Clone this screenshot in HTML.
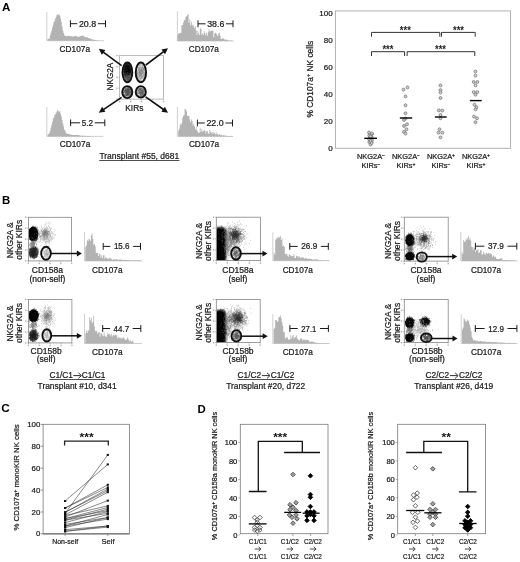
<!DOCTYPE html><html><head><meta charset="utf-8"><style>html,body{margin:0;padding:0;background:#fff;width:520px;height:562px;overflow:hidden}svg{display:block;filter:grayscale(1)}</style></head><body>
<svg width="520" height="562" viewBox="0 0 520 562" style="font-family:'Liberation Sans',sans-serif">
<defs>
<filter id="b4" x="-50%" y="-50%" width="200%" height="200%"><feGaussianBlur stdDeviation="0.4"/></filter>
<filter id="b5" x="-50%" y="-50%" width="200%" height="200%"><feGaussianBlur stdDeviation="0.5"/></filter>
<filter id="b6" x="-50%" y="-50%" width="200%" height="200%"><feGaussianBlur stdDeviation="0.6"/></filter>
<filter id="b7" x="-50%" y="-50%" width="200%" height="200%"><feGaussianBlur stdDeviation="0.7"/></filter>
<filter id="b8" x="-50%" y="-50%" width="200%" height="200%"><feGaussianBlur stdDeviation="0.8"/></filter>
<filter id="b10" x="-50%" y="-50%" width="200%" height="200%"><feGaussianBlur stdDeviation="1.0"/></filter>
<filter id="b12" x="-50%" y="-50%" width="200%" height="200%"><feGaussianBlur stdDeviation="1.2"/></filter>
<filter id="b15" x="-50%" y="-50%" width="200%" height="200%"><feGaussianBlur stdDeviation="1.5"/></filter>
<filter id="b20" x="-50%" y="-50%" width="200%" height="200%"><feGaussianBlur stdDeviation="2.0"/></filter>
</defs>
<rect width="520" height="562" fill="#fff"/>
<text x="1.9" y="10.7" font-size="11.6" font-weight="bold" fill="#000">A</text>
<line x1="46.8" y1="12" x2="46.8" y2="40.7" stroke="#c4c4c4" stroke-width="0.8"/>
<line x1="46.8" y1="40.7" x2="104" y2="40.7" stroke="#c4c4c4" stroke-width="0.8"/>
<path d="M46.8,40.7 L46.80,40.70 L47.55,40.70 L47.55,39.04 L48.30,39.04 L48.30,38.67 L49.05,38.67 L49.05,38.52 L49.80,38.52 L49.80,35.49 L50.55,35.49 L50.55,32.66 L51.30,32.66 L51.30,30.72 L52.05,30.72 L52.05,27.61 L52.80,27.61 L52.80,24.83 L53.55,24.83 L53.55,21.98 L54.30,21.98 L54.30,20.77 L55.05,20.77 L55.05,18.48 L55.80,18.48 L55.80,16.87 L56.55,16.87 L56.55,14.83 L57.30,14.83 L57.30,14.51 L58.05,14.51 L58.05,15.04 L58.80,15.04 L58.80,13.91 L59.55,13.91 L59.55,15.64 L60.30,15.64 L60.30,18.55 L61.05,18.55 L61.05,22.12 L61.80,22.12 L61.80,26.55 L62.55,26.55 L62.55,30.78 L63.30,30.78 L63.30,32.93 L64.05,32.93 L64.05,35.13 L64.80,35.13 L64.80,35.81 L65.55,35.81 L65.55,35.91 L66.30,35.91 L66.30,36.35 L67.05,36.35 L67.05,35.95 L67.80,35.95 L67.80,36.07 L68.55,36.07 L68.55,35.66 L69.30,35.66 L69.30,36.15 L70.05,36.15 L70.05,36.10 L70.80,36.10 L70.80,36.36 L71.55,36.36 L71.55,36.26 L72.30,36.26 L72.30,36.55 L73.05,36.55 L73.05,36.75 L73.80,36.75 L73.80,35.94 L74.55,35.94 L74.55,35.94 L75.30,35.94 L75.30,36.12 L76.05,36.12 L76.05,36.27 L76.80,36.27 L76.80,36.71 L77.55,36.71 L77.55,36.80 L78.30,36.80 L78.30,36.69 L79.05,36.69 L79.05,36.84 L79.80,36.84 L79.80,35.91 L80.55,35.91 L80.55,36.24 L81.30,36.24 L81.30,35.57 L82.05,35.57 L82.05,36.06 L82.80,36.06 L82.80,35.61 L83.55,35.61 L83.55,36.01 L84.30,36.01 L84.30,37.19 L85.05,37.19 L85.05,37.19 L85.80,37.19 L85.80,36.74 L86.55,36.74 L86.55,37.41 L87.30,37.41 L87.30,37.23 L88.05,37.23 L88.05,37.94 L88.80,37.94 L88.80,38.40 L89.55,38.40 L89.55,38.27 L90.30,38.27 L90.30,38.47 L91.05,38.47 L91.05,39.03 L91.80,39.03 L91.80,39.38 L92.55,39.38 L92.55,39.57 L93.30,39.57 L93.30,39.64 L94.05,39.64 L94.05,39.83 L94.80,39.83 L94.80,40.08 L95.55,40.08 L95.55,40.18 L96.30,40.18 L96.30,40.32 L97.05,40.32 L97.05,40.45 L97.80,40.45 L97.80,40.64 L98.55,40.64 L98,40.7Z" fill="#b3b3b3"/>
<line x1="70.4" y1="20.3" x2="70.4" y2="27.099999999999998" stroke="#1a1a1a" stroke-width="1.0"/>
<line x1="105.5" y1="20.3" x2="105.5" y2="27.099999999999998" stroke="#1a1a1a" stroke-width="1.0"/>
<line x1="70.4" y1="23.7" x2="77.2" y2="23.7" stroke="#1a1a1a" stroke-width="1"/>
<line x1="97.9" y1="23.7" x2="105.5" y2="23.7" stroke="#1a1a1a" stroke-width="1"/>
<text x="87.55000000000001" y="26.7" font-size="8.3" text-anchor="middle" textLength="17.3" lengthAdjust="spacingAndGlyphs" fill="#1a1a1a" stroke="#1a1a1a" stroke-width="0.22">20.8</text>
<text x="74.8" y="52.2" font-size="8.3" text-anchor="middle" textLength="30.4" lengthAdjust="spacingAndGlyphs" fill="#1a1a1a" stroke="#1a1a1a" stroke-width="0.22">CD107a</text>
<line x1="177.4" y1="11.3" x2="177.4" y2="41.0" stroke="#c4c4c4" stroke-width="0.8"/>
<line x1="177.4" y1="41.0" x2="233.8" y2="41.0" stroke="#c4c4c4" stroke-width="0.8"/>
<path d="M177.4,41.0 L177.40,34.73 L178.20,34.73 L178.20,33.51 L179.00,33.51 L179.00,33.17 L179.80,33.17 L179.80,32.75 L180.60,32.75 L180.60,33.10 L181.40,33.10 L181.40,24.89 L182.20,24.89 L182.20,25.26 L183.00,25.26 L183.00,22.45 L183.80,22.45 L183.80,19.67 L184.60,19.67 L184.60,20.37 L185.40,20.37 L185.40,16.96 L186.20,16.96 L186.20,16.26 L187.00,16.26 L187.00,15.07 L187.80,15.07 L187.80,14.16 L188.60,14.16 L188.60,22.64 L189.40,22.64 L189.40,19.24 L190.20,19.24 L190.20,25.31 L191.00,25.31 L191.00,21.68 L191.80,21.68 L191.80,25.58 L192.60,25.58 L192.60,24.60 L193.40,24.60 L193.40,26.62 L194.20,26.62 L194.20,28.18 L195.00,28.18 L195.00,26.21 L195.80,26.21 L195.80,30.55 L196.60,30.55 L196.60,35.11 L197.40,35.11 L197.40,30.87 L198.20,30.87 L198.20,32.93 L199.00,32.93 L199.00,35.05 L199.80,35.05 L199.80,28.30 L200.60,28.30 L200.60,28.68 L201.40,28.68 L201.40,34.94 L202.20,34.94 L202.20,33.38 L203.00,33.38 L203.00,34.82 L203.80,34.82 L203.80,31.31 L204.60,31.31 L204.60,33.32 L205.40,33.32 L205.40,35.47 L206.20,35.47 L206.20,32.66 L207.00,32.66 L207.00,35.74 L207.80,35.74 L207.80,32.29 L208.60,32.29 L208.60,29.14 L209.40,29.14 L209.40,31.28 L210.20,31.28 L210.20,31.26 L211.00,31.26 L211.00,30.44 L211.80,30.44 L211.80,31.10 L212.60,31.10 L212.60,30.28 L213.40,30.28 L213.40,37.35 L214.20,37.35 L214.20,33.87 L215.00,33.87 L215.00,32.66 L215.80,32.66 L215.80,33.32 L216.60,33.32 L216.60,34.75 L217.40,34.75 L217.40,36.16 L218.20,36.16 L218.20,33.68 L219.00,33.68 L219.00,32.55 L219.80,32.55 L219.80,35.71 L220.60,35.71 L220.60,38.98 L221.40,38.98 L221.40,38.73 L222.20,38.73 L222.20,38.47 L223.00,38.47 L223.00,38.17 L223.80,38.17 L223.80,39.17 L224.60,39.17 L224.60,39.61 L225.40,39.61 L225.40,40.20 L226.20,40.20 L226.20,39.40 L227.00,39.40 L227.00,39.87 L227.80,39.87 L227.80,40.51 L228.60,40.51 L228.60,40.65 L229.40,40.65 L229.40,40.60 L230.20,40.60 L230.20,40.64 L231.00,40.64 L231.00,40.55 L231.80,40.55 L231.80,40.77 L232.60,40.77 L232.60,40.67 L233.40,40.67 L233.2,41.0Z" fill="#b3b3b3"/>
<line x1="198" y1="20.400000000000002" x2="198" y2="27.2" stroke="#1a1a1a" stroke-width="1.0"/>
<line x1="233" y1="20.400000000000002" x2="233" y2="27.2" stroke="#1a1a1a" stroke-width="1.0"/>
<line x1="198" y1="23.8" x2="205.5" y2="23.8" stroke="#1a1a1a" stroke-width="1"/>
<line x1="226.0" y1="23.8" x2="233" y2="23.8" stroke="#1a1a1a" stroke-width="1"/>
<text x="215.75" y="26.8" font-size="8.3" text-anchor="middle" textLength="17.1" lengthAdjust="spacingAndGlyphs" fill="#1a1a1a" stroke="#1a1a1a" stroke-width="0.22">38.6</text>
<text x="203.8" y="51.9" font-size="8.3" text-anchor="middle" textLength="30.0" lengthAdjust="spacingAndGlyphs" fill="#1a1a1a" stroke="#1a1a1a" stroke-width="0.22">CD107a</text>
<line x1="46.8" y1="107" x2="46.8" y2="136.4" stroke="#c4c4c4" stroke-width="0.8"/>
<line x1="46.8" y1="136.4" x2="103.3" y2="136.4" stroke="#c4c4c4" stroke-width="0.8"/>
<path d="M46.8,136.4 L46.80,136.40 L47.55,136.40 L47.55,134.77 L48.30,134.77 L48.30,133.99 L49.05,133.99 L49.05,132.91 L49.80,132.91 L49.80,130.78 L50.55,130.78 L50.55,127.70 L51.30,127.70 L51.30,124.80 L52.05,124.80 L52.05,121.69 L52.80,121.69 L52.80,118.71 L53.55,118.71 L53.55,117.50 L54.30,117.50 L54.30,115.04 L55.05,115.04 L55.05,114.27 L55.80,114.27 L55.80,112.87 L56.55,112.87 L56.55,111.55 L57.30,111.55 L57.30,109.86 L58.05,109.86 L58.05,110.94 L58.80,110.94 L58.80,112.32 L59.55,112.32 L59.55,110.76 L60.30,110.76 L60.30,113.63 L61.05,113.63 L61.05,116.44 L61.80,116.44 L61.80,119.98 L62.55,119.98 L62.55,123.42 L63.30,123.42 L63.30,126.59 L64.05,126.59 L64.05,129.79 L64.80,129.79 L64.80,130.87 L65.55,130.87 L65.55,132.45 L66.30,132.45 L66.30,133.77 L67.05,133.77 L67.05,133.55 L67.80,133.55 L67.80,134.00 L68.55,134.00 L68.55,134.05 L69.30,134.05 L69.30,134.37 L70.05,134.37 L70.05,134.64 L70.80,134.64 L70.80,134.76 L71.55,134.76 L71.55,134.82 L72.30,134.82 L72.30,134.95 L73.05,134.95 L73.05,135.11 L73.80,135.11 L73.80,134.94 L74.55,134.94 L74.55,135.05 L75.30,135.05 L75.30,134.99 L76.05,134.99 L76.05,134.97 L76.80,134.97 L76.80,134.91 L77.55,134.91 L77.55,134.94 L78.30,134.94 L78.30,135.32 L79.05,135.32 L79.05,135.33 L79.80,135.33 L79.80,135.57 L80.55,135.57 L80.55,135.69 L81.30,135.69 L81.30,135.72 L82.05,135.72 L82.05,135.70 L82.80,135.70 L82.80,135.78 L83.55,135.78 L83.55,135.78 L84.30,135.78 L84.30,135.80 L85.05,135.80 L85.05,135.87 L85.80,135.87 L85.80,135.94 L86.55,135.94 L86.55,135.93 L87.30,135.93 L87.30,136.00 L88.05,136.00 L88.05,136.03 L88.80,136.03 L88.80,136.07 L89.55,136.07 L89.55,136.09 L90.30,136.09 L90.30,136.17 L91.05,136.17 L91.05,136.25 L91.80,136.25 L91.80,136.37 L92.55,136.37 L92,136.4Z" fill="#b3b3b3"/>
<line x1="70.6" y1="119.39999999999999" x2="70.6" y2="126.2" stroke="#1a1a1a" stroke-width="1.0"/>
<line x1="104.8" y1="119.39999999999999" x2="104.8" y2="126.2" stroke="#1a1a1a" stroke-width="1.0"/>
<line x1="70.6" y1="122.8" x2="80.1" y2="122.8" stroke="#1a1a1a" stroke-width="1"/>
<line x1="94.8" y1="122.8" x2="104.8" y2="122.8" stroke="#1a1a1a" stroke-width="1"/>
<text x="87.44999999999999" y="125.8" font-size="8.3" text-anchor="middle" textLength="11.3" lengthAdjust="spacingAndGlyphs" fill="#1a1a1a" stroke="#1a1a1a" stroke-width="0.22">5.2</text>
<text x="75.0" y="146.8" font-size="8.3" text-anchor="middle" textLength="30.6" lengthAdjust="spacingAndGlyphs" fill="#1a1a1a" stroke="#1a1a1a" stroke-width="0.22">CD107a</text>
<line x1="177.4" y1="107" x2="177.4" y2="136.4" stroke="#c4c4c4" stroke-width="0.8"/>
<line x1="177.4" y1="136.4" x2="233" y2="136.4" stroke="#c4c4c4" stroke-width="0.8"/>
<path d="M177.4,136.4 L177.40,136.40 L178.20,136.40 L178.20,130.60 L179.00,130.60 L179.00,128.59 L179.80,128.59 L179.80,124.10 L180.60,124.10 L180.60,125.35 L181.40,125.35 L181.40,122.91 L182.20,122.91 L182.20,117.72 L183.00,117.72 L183.00,115.85 L183.80,115.85 L183.80,115.01 L184.60,115.01 L184.60,109.04 L185.40,109.04 L185.40,109.44 L186.20,109.44 L186.20,111.13 L187.00,111.13 L187.00,115.80 L187.80,115.80 L187.80,115.88 L188.60,115.88 L188.60,115.71 L189.40,115.71 L189.40,119.42 L190.20,119.42 L190.20,122.24 L191.00,122.24 L191.00,119.46 L191.80,119.46 L191.80,120.99 L192.60,120.99 L192.60,125.49 L193.40,125.49 L193.40,123.66 L194.20,123.66 L194.20,126.22 L195.00,126.22 L195.00,129.55 L195.80,129.55 L195.80,126.98 L196.60,126.98 L196.60,130.49 L197.40,130.49 L197.40,131.56 L198.20,131.56 L198.20,133.08 L199.00,133.08 L199.00,132.45 L199.80,132.45 L199.80,128.24 L200.60,128.24 L200.60,131.90 L201.40,131.90 L201.40,129.02 L202.20,129.02 L202.20,131.79 L203.00,131.79 L203.00,130.99 L203.80,130.99 L203.80,129.75 L204.60,129.75 L204.60,130.69 L205.40,130.69 L205.40,133.48 L206.20,133.48 L206.20,131.23 L207.00,131.23 L207.00,131.06 L207.80,131.06 L207.80,133.21 L208.60,133.21 L208.60,133.64 L209.40,133.64 L209.40,130.06 L210.20,130.06 L210.20,131.76 L211.00,131.76 L211.00,133.25 L211.80,133.25 L211.80,132.11 L212.60,132.11 L212.60,133.91 L213.40,133.91 L213.40,131.99 L214.20,131.99 L214.20,133.07 L215.00,133.07 L215.00,134.44 L215.80,134.44 L215.80,132.20 L216.60,132.20 L216.60,134.56 L217.40,134.56 L217.40,134.02 L218.20,134.02 L218.20,135.34 L219.00,135.34 L219.00,133.97 L219.80,133.97 L219.80,135.22 L220.60,135.22 L220.60,134.48 L221.40,134.48 L221.40,135.31 L222.20,135.31 L222.20,135.42 L223.00,135.42 L223.00,135.26 L223.80,135.26 L223.80,135.45 L224.60,135.45 L224.60,135.57 L225.40,135.57 L225.40,135.58 L226.20,135.58 L226.20,136.03 L227.00,136.03 L227.00,135.99 L227.80,135.99 L227.80,136.19 L228.60,136.19 L228.60,136.08 L229.40,136.08 L229.40,136.17 L230.20,136.17 L230.20,136.01 L231.00,136.01 L231.00,136.03 L231.80,136.03 L231.80,136.27 L232.60,136.27 L232.60,136.26 L233.40,136.26 L233.2,136.4Z" fill="#b3b3b3"/>
<line x1="197.4" y1="119.6" x2="197.4" y2="126.4" stroke="#1a1a1a" stroke-width="1.0"/>
<line x1="232.5" y1="119.6" x2="232.5" y2="126.4" stroke="#1a1a1a" stroke-width="1.0"/>
<line x1="197.4" y1="123.0" x2="204.70000000000002" y2="123.0" stroke="#1a1a1a" stroke-width="1"/>
<line x1="225.39999999999998" y1="123.0" x2="232.5" y2="123.0" stroke="#1a1a1a" stroke-width="1"/>
<text x="215.05" y="126.0" font-size="8.3" text-anchor="middle" textLength="17.3" lengthAdjust="spacingAndGlyphs" fill="#1a1a1a" stroke="#1a1a1a" stroke-width="0.22">22.0</text>
<text x="204.0" y="146.8" font-size="8.3" text-anchor="middle" textLength="30.2" lengthAdjust="spacingAndGlyphs" fill="#1a1a1a" stroke="#1a1a1a" stroke-width="0.22">CD107a</text>
<rect x="119.65" y="55.65" width="43.75" height="43.449999999999996" fill="none" stroke="#a0a0a0" stroke-width="0.7"/>
<line x1="118.45" y1="55.65" x2="119.65" y2="55.65" stroke="#888" stroke-width="0.5"/>
<rect x="116.25" y="54.949999999999996" width="1.4" height="1.4" fill="#b0b0b0"/>
<line x1="118.45" y1="66.5125" x2="119.65" y2="66.5125" stroke="#888" stroke-width="0.5"/>
<rect x="116.25" y="65.8125" width="1.4" height="1.4" fill="#b0b0b0"/>
<line x1="118.45" y1="77.375" x2="119.65" y2="77.375" stroke="#888" stroke-width="0.5"/>
<rect x="116.25" y="76.675" width="1.4" height="1.4" fill="#b0b0b0"/>
<line x1="118.45" y1="88.2375" x2="119.65" y2="88.2375" stroke="#888" stroke-width="0.5"/>
<rect x="116.25" y="87.5375" width="1.4" height="1.4" fill="#b0b0b0"/>
<line x1="118.45" y1="99.1" x2="119.65" y2="99.1" stroke="#888" stroke-width="0.5"/>
<rect x="116.25" y="98.39999999999999" width="1.4" height="1.4" fill="#b0b0b0"/>
<line x1="119.65" y1="99.1" x2="119.65" y2="100.3" stroke="#888" stroke-width="0.5"/>
<rect x="118.95" y="100.89999999999999" width="1.4" height="1.4" fill="#b0b0b0"/>
<line x1="130.5875" y1="99.1" x2="130.5875" y2="100.3" stroke="#888" stroke-width="0.5"/>
<rect x="129.88750000000002" y="100.89999999999999" width="1.4" height="1.4" fill="#b0b0b0"/>
<line x1="141.525" y1="99.1" x2="141.525" y2="100.3" stroke="#888" stroke-width="0.5"/>
<rect x="140.82500000000002" y="100.89999999999999" width="1.4" height="1.4" fill="#b0b0b0"/>
<line x1="152.4625" y1="99.1" x2="152.4625" y2="100.3" stroke="#888" stroke-width="0.5"/>
<rect x="151.76250000000002" y="100.89999999999999" width="1.4" height="1.4" fill="#b0b0b0"/>
<line x1="163.4" y1="99.1" x2="163.4" y2="100.3" stroke="#888" stroke-width="0.5"/>
<rect x="162.70000000000002" y="100.89999999999999" width="1.4" height="1.4" fill="#b0b0b0"/>
<ellipse cx="127.4" cy="69.6" rx="3.8" ry="6.3" fill="#000" opacity="1" filter="url(#b10)"/>
<path d="M1291 769h6M1256 671h6M1282 788h6M1283 659h6M1257 708h6M1296 710h6M1266 701h6M1278 678h6M1274 723h6M1311 708h6M1296 665h6M1294 718h6M1262 710h6M1295 697h6M1297 778h6M1311 782h6M1246 726h6M1259 753h6M1276 721h6M1285 685h6M1276 679h6M1275 633h6M1241 674h6M1292 745h6M1281 683h6M1255 733h6M1252 723h6M1296 708h6M1284 713h6M1247 711h6M1237 686h6M1279 770h6M1243 688h6M1279 734h6M1243 793h6M1256 759h6M1270 729h6M1312 743h6M1277 667h6M1259 648h6M1303 695h6M1293 674h6M1261 733h6M1283 691h6M1311 744h6M1277 658h6M1277 697h6M1273 747h6M1261 723h6M1292 727h6M1273 658h6M1237 698h6M1289 715h6M1295 641h6M1296 668h6M1246 736h6M1285 678h6M1255 702h6M1274 703h6M1304 718h6M1258 692h6M1284 696h6M1282 721h6M1298 717h6M1303 779h6M1267 690h6M1254 700h6M1257 711h6M1281 734h6M1247 759h6M1267 705h6M1280 631h6M1299 712h6M1310 739h6M1290 773h6M1273 779h6M1271 722h6M1258 734h6M1289 688h6M1244 708h6M1283 703h6M1251 678h6M1260 774h6M1244 700h6M1312 742h6M1295 703h6M1281 721h6M1311 746h6M1275 661h6M1270 703h6M1258 671h6M1251 705h6M1260 728h6M1297 724h6M1274 780h6M1289 644h6M1257 719h6M1254 744h6M1296 736h6M1237 713h6M1304 660h6M1246 655h6M1263 645h6M1275 810h6M1250 750h6M1276 709h6M1266 745h6M1264 725h6M1265 703h6M1256 812h6M1272 659h6M1269 680h6M1257 765h6M1266 678h6M1293 698h6M1272 796h6M1293 765h6M1283 767h6M1270 753h6M1298 691h6M1244 734h6M1271 737h6M1260 733h6M1314 727h6M1306 681h6M1300 716h6M1304 725h6M1268 678h6M1302 712h6M1290 731h6M1227 737h6M1265 727h6M1285 629h6M1266 707h6M1282 752h6M1258 699h6M1304 716h6M1317 756h6M1273 634h6M1277 724h6M1286 653h6M1255 675h6M1280 671h6M1271 751h6M1264 770h6M1280 699h6M1299 732h6M1267 683h6M1273 725h6M1300 722h6M1259 650h6M1279 727h6M1299 686h6M1244 747h6M1270 655h6M1311 749h6M1275 722h6M1257 754h6M1264 689h6M1267 659h6M1297 784h6M1267 681h6M1296 701h6M1274 703h6M1255 759h6M1243 662h6M1265 688h6M1299 686h6M1285 689h6M1303 709h6M1280 637h6M1290 681h6M1294 732h6M1286 760h6M1282 670h6M1277 717h6M1247 737h6M1307 720h6M1276 730h6M1299 685h6M1295 676h6M1286 733h6M1244 739h6M1279 635h6M1263 682h6M1253 728h6M1255 712h6M1249 698h6M1315 728h6M1238 668h6M1270 637h6M1296 708h6M1272 712h6M1258 659h6M1279 740h6M1269 628h6M1266 711h6M1244 771h6M1248 710h6M1249 750h6M1245 669h6M1299 653h6M1261 734h6M1282 631h6M1287 696h6M1291 728h6M1265 691h6M1282 679h6M1266 675h6M1277 740h6M1237 711h6M1281 777h6M1257 766h6M1263 731h6M1279 722h6M1266 666h6M1307 774h6M1271 702h6M1269 650h6M1248 728h6M1295 699h6M1252 661h6M1259 741h6M1275 646h6M1247 724h6M1280 788h6M1306 718h6M1258 718h6M1247 679h6M1296 737h6M1294 779h6M1264 745h6M1275 723h6M1279 733h6M1276 731h6M1262 705h6M1241 752h6M1284 776h6M1264 705h6M1275 770h6M1286 727h6M1236 671h6M1240 701h6M1293 712h6M1252 800h6M1248 771h6M1300 721h6M1304 661h6M1261 696h6M1282 701h6M1312 692h6M1268 655h6M1284 745h6M1256 653h6M1242 761h6M1291 722h6M1291 731h6M1284 637h6M1285 741h6M1299 752h6M1258 721h6M1241 774h6M1242 741h6M1255 673h6M1253 695h6M1282 759h6M1267 747h6M1293 801h6M1260 723h6M1289 716h6M1288 679h6M1265 681h6M1259 670h6M1271 655h6M1260 735h6M1237 662h6M1264 661h6M1251 793h6M1281 689h6M1256 640h6M1286 686h6M1294 709h6M1285 749h6M1261 684h6M1269 789h6M1245 661h6M1307 658h6M1300 702h6M1265 658h6M1306 697h6M1243 738h6M1270 732h6M1264 725h6M1284 710h6M1236 731h6M1305 729h6M1295 744h6M1266 756h6M1268 664h6M1245 755h6M1289 737h6M1291 705h6M1259 682h6M1287 741h6M1293 693h6M1245 648h6M1266 787h6M1294 710h6M1284 745h6M1275 719h6M1278 683h6M1247 684h6M1263 691h6M1274 689h6M1291 693h6M1273 741h6M1241 758h6M1297 651h6M1271 676h6M1265 744h6M1231 747h6M1283 709h6M1239 726h6M1277 681h6M1305 746h6M1288 759h6M1304 765h6M1273 698h6M1269 733h6M1252 662h6M1298 699h6M1254 690h6M1255 681h6M1238 737h6M1281 744h6M1275 677h6M1319 751h6M1286 749h6M1267 742h6M1256 754h6M1295 747h6M1282 715h6M1279 741h6M1263 741h6M1291 653h6M1235 722h6M1266 673h6M1245 660h6M1236 693h6M1270 776h6M1301 702h6M1282 698h6M1271 675h6M1274 662h6M1257 702h6M1271 800h6M1253 660h6M1288 734h6M1289 703h6M1239 693h6M1244 706h6M1313 695h6M1275 757h6M1243 743h6M1265 678h6M1265 665h6M1293 713h6M1263 730h6M1303 683h6M1290 669h6M1294 725h6M1259 739h6M1266 716h6M1275 738h6M1253 779h6M1279 786h6M1288 763h6M1267 643h6M1289 667h6M1293 662h6M1285 749h6M1285 664h6M1287 717h6M1285 765h6M1258 671h6M1255 766h6M1281 761h6M1278 729h6M1268 729h6M1249 754h6M1234 685h6M1264 712h6M1270 664h6M1256 704h6M1257 751h6M1269 728h6M1247 749h6M1289 640h6M1304 656h6M1245 744h6M1312 736h6M1269 675h6M1255 716h6M1280 664h6M1277 666h6M1243 800h6M1286 693h6M1247 770h6M1274 673h6M1289 729h6M1298 693h6M1266 738h6M1271 788h6M1292 753h6M1287 697h6M1254 669h6M1300 698h6M1274 684h6M1281 667h6M1250 711h6M1276 745h6M1277 736h6M1273 695h6M1248 674h6M1271 651h6M1290 693h6M1299 742h6M1304 677h6M1282 680h6M1251 714h6M1261 745h6M1240 719h6M1302 718h6M1244 690h6M1259 774h6M1258 692h6M1268 699h6M1273 671h6M1271 686h6M1262 694h6M1291 718h6M1287 673h6M1233 698h6M1291 705h6M1260 636h6M1279 670h6M1234 722h6M1273 761h6M1275 776h6M1276 735h6M1241 719h6M1288 757h6M1256 714h6M1285 697h6M1273 722h6M1253 658h6M1282 810h6M1263 687h6M1316 678h6M1256 792h6M1288 740h6M1267 752h6M1285 790h6M1292 789h6M1258 757h6M1286 685h6M1241 698h6M1253 688h6M1261 678h6M1275 714h6M1250 673h6M1278 684h6M1262 666h6M1231 696h6M1249 704h6M1266 689h6M1293 671h6M1299 723h6M1257 725h6M1291 695h6M1291 713h6M1240 722h6M1292 726h6M1271 669h6M1290 773h6M1241 736h6M1232 718h6M1288 643h6M1242 713h6M1267 722h6M1305 655h6M1293 731h6M1235 674h6M1233 699h6M1249 758h6M1282 651h6M1307 718h6M1293 710h6M1303 760h6M1291 772h6M1288 723h6M1302 736h6M1248 747h6M1277 713h6M1316 754h6M1242 713h6M1297 760h6M1286 692h6M1303 707h6M1261 677h6M1277 671h6M1250 665h6M1314 704h6M1285 725h6M1259 745h6M1270 675h6M1250 692h6M1262 770h6M1307 779h6M1257 672h6M1303 740h6M1281 670h6M1267 656h6M1312 757h6M1264 757h6M1287 675h6M1281 688h6M1250 694h6M1298 656h6M1251 640h6M1259 749h6M1291 735h6M1285 779h6M1309 782h6M1253 681h6M1292 743h6M1262 700h6M1295 703h6M1256 724h6M1261 735h6M1279 696h6M1253 755h6M1253 715h6M1265 711h6M1265 755h6M1276 662h6M1245 743h6M1269 766h6M1284 768h6M1241 694h6M1302 653h6M1290 707h6M1297 696h6M1257 746h6M1280 674h6M1285 730h6M1257 648h6M1275 711h6M1294 708h6M1298 723h6M1308 757h6M1242 698h6M1284 699h6M1282 787h6M1254 679h6M1254 759h6M1277 717h6M1282 680h6M1248 703h6M1298 702h6M1284 732h6M1308 662h6M1248 762h6M1232 674h6M1268 710h6M1232 678h6M1237 754h6M1253 723h6M1263 735h6" stroke="#111" stroke-width="6" transform="scale(.1)"/>
<path d="M1239 761h6M1278 806h6M1251 773h6M1291 811h6M1287 782h6M1267 807h6M1279 799h6M1283 772h6M1253 750h6M1274 785h6M1272 729h6M1261 758h6M1290 803h6M1284 799h6M1294 791h6M1253 789h6M1271 794h6M1280 787h6M1275 784h6M1265 758h6M1254 773h6M1307 779h6M1251 799h6M1280 777h6M1290 760h6M1246 772h6M1262 779h6M1270 808h6M1271 795h6M1264 759h6M1268 760h6M1284 778h6M1248 782h6M1272 772h6M1247 777h6M1259 772h6M1292 779h6M1291 799h6M1270 784h6M1270 741h6M1291 807h6M1275 794h6M1252 782h6M1256 759h6M1307 786h6M1251 767h6M1303 735h6M1229 754h6M1294 762h6M1254 813h6M1297 758h6M1275 806h6M1286 796h6M1279 802h6M1272 772h6M1311 757h6M1272 766h6M1264 811h6M1234 746h6M1278 786h6M1271 780h6M1280 775h6M1293 780h6M1239 756h6M1279 761h6M1269 806h6M1299 747h6M1279 764h6M1264 794h6M1273 778h6M1271 790h6M1284 793h6M1261 797h6M1253 734h6M1273 792h6M1280 789h6M1248 751h6M1263 787h6M1260 781h6M1276 788h6M1279 780h6M1276 808h6M1277 753h6M1278 814h6M1308 783h6M1274 783h6M1293 795h6M1263 815h6M1285 766h6M1271 770h6M1256 788h6M1282 766h6M1285 773h6M1275 773h6M1246 730h6M1254 766h6M1276 769h6M1294 803h6M1274 791h6M1279 791h6M1276 798h6M1267 774h6M1279 793h6M1252 773h6M1276 772h6M1299 758h6M1249 809h6M1265 773h6M1290 773h6M1286 787h6M1303 792h6M1256 704h6M1279 808h6M1275 758h6M1284 818h6M1276 758h6M1261 794h6M1255 807h6M1278 730h6M1282 763h6M1259 788h6M1232 773h6M1276 805h6M1291 796h6M1247 735h6M1276 810h6M1267 775h6M1243 769h6M1283 787h6M1272 770h6M1255 765h6M1281 756h6M1285 798h6M1285 779h6M1258 776h6M1266 747h6M1291 763h6M1251 782h6M1244 796h6M1260 751h6M1286 761h6M1267 770h6M1260 779h6M1292 754h6M1280 821h6M1288 760h6M1294 775h6M1300 787h6M1292 736h6M1271 725h6M1277 758h6M1281 790h6M1286 734h6M1273 757h6M1265 782h6M1281 806h6M1287 792h6M1257 783h6M1273 794h6M1261 740h6M1277 756h6M1282 789h6M1266 807h6M1249 767h6M1266 799h6M1264 703h6M1266 771h6M1257 742h6M1241 776h6M1285 763h6M1266 770h6M1284 757h6M1280 817h6M1280 760h6M1261 811h6M1261 794h6M1253 779h6M1273 800h6M1300 800h6M1266 802h6M1229 728h6" stroke="#555" stroke-width="6" transform="scale(.1)"/>
<path d="M1422 717h6M1414 745h6M1395 688h6M1422 702h6M1430 713h6M1406 709h6M1433 681h6M1402 752h6M1428 673h6M1448 693h6M1440 709h6M1398 662h6M1392 799h6M1443 704h6M1438 792h6M1401 697h6M1438 741h6M1378 721h6M1378 761h6M1427 703h6M1385 768h6M1399 784h6M1383 710h6M1394 672h6M1392 763h6M1437 707h6M1399 736h6M1421 706h6M1386 711h6M1397 762h6M1411 736h6M1365 705h6M1398 698h6M1406 709h6M1369 770h6M1433 699h6M1425 678h6M1376 714h6M1450 719h6M1369 736h6M1394 689h6M1418 638h6M1438 730h6M1393 691h6M1427 787h6M1390 738h6M1401 742h6M1413 759h6M1419 701h6M1407 744h6M1392 730h6M1386 787h6M1451 683h6M1432 734h6M1412 714h6M1417 776h6M1378 776h6M1403 672h6M1409 758h6M1408 741h6M1401 700h6M1436 680h6M1436 743h6M1403 715h6M1402 724h6M1409 719h6M1419 695h6M1395 718h6M1381 802h6M1410 718h6M1382 770h6M1429 799h6M1433 686h6M1377 793h6M1392 721h6M1406 751h6M1424 676h6M1393 642h6M1425 718h6M1366 777h6M1410 677h6M1399 698h6M1413 736h6M1395 747h6M1427 773h6M1431 676h6M1366 710h6M1391 645h6M1414 704h6M1423 735h6M1430 697h6M1379 670h6M1446 696h6M1445 674h6M1396 690h6M1405 758h6M1407 733h6M1404 744h6M1387 738h6M1421 771h6M1388 746h6M1417 686h6M1359 699h6M1432 712h6M1391 721h6M1421 749h6M1403 747h6M1414 703h6M1364 734h6M1399 723h6M1395 762h6M1437 692h6M1374 740h6M1445 745h6M1422 658h6M1395 753h6M1419 725h6M1424 766h6M1412 691h6M1373 735h6M1405 717h6M1438 694h6M1402 756h6M1395 764h6M1394 713h6M1365 693h6M1405 818h6M1412 691h6M1371 710h6M1378 695h6M1410 783h6M1381 790h6M1393 707h6M1397 736h6M1408 709h6M1392 699h6M1411 699h6M1392 656h6M1410 748h6M1383 772h6M1408 730h6M1366 754h6M1394 722h6M1428 750h6M1393 728h6M1434 751h6M1408 774h6M1372 746h6M1393 708h6M1430 808h6M1421 731h6M1451 761h6M1393 693h6M1372 756h6M1414 808h6M1402 731h6M1391 774h6M1435 698h6M1440 683h6M1394 717h6M1385 737h6M1440 753h6M1424 687h6M1400 786h6M1413 696h6M1401 790h6M1453 746h6M1390 805h6M1394 731h6M1421 726h6M1406 802h6M1418 660h6M1396 788h6M1406 679h6M1433 749h6M1411 753h6M1401 735h6M1425 701h6M1441 678h6M1420 670h6M1430 688h6M1423 728h6M1390 810h6M1414 703h6M1401 742h6M1412 767h6M1396 737h6M1398 694h6M1431 689h6M1370 758h6M1398 753h6M1423 751h6M1412 800h6M1385 782h6M1407 741h6M1400 768h6M1423 707h6M1412 750h6M1425 709h6M1436 740h6M1398 712h6M1371 763h6M1448 724h6M1391 648h6M1381 728h6M1395 721h6M1390 720h6M1405 736h6M1413 737h6M1391 715h6M1381 704h6M1410 748h6M1378 683h6M1398 671h6M1404 718h6M1393 803h6M1400 739h6M1367 766h6M1418 737h6M1358 725h6M1394 746h6M1410 703h6M1399 784h6M1438 648h6M1399 756h6M1400 742h6M1402 803h6M1428 719h6M1445 757h6M1452 706h6M1373 764h6M1411 646h6M1412 690h6M1399 732h6M1376 785h6M1378 728h6M1410 704h6M1391 766h6M1371 726h6M1450 691h6M1372 703h6M1381 688h6M1388 753h6M1411 678h6M1442 680h6M1446 703h6M1387 704h6M1445 731h6M1409 648h6M1409 711h6M1400 689h6M1370 785h6M1385 753h6M1424 733h6M1413 755h6M1401 721h6M1417 734h6M1409 667h6M1438 784h6M1415 737h6M1359 717h6M1390 811h6M1405 630h6M1454 715h6M1418 777h6M1370 703h6M1413 785h6M1405 753h6M1366 750h6M1386 709h6M1412 767h6M1392 746h6M1402 755h6M1398 791h6M1384 677h6M1441 691h6M1426 758h6M1368 712h6M1398 720h6M1372 734h6M1414 674h6M1410 736h6M1367 722h6M1432 760h6M1382 689h6M1410 744h6M1430 729h6M1429 694h6M1455 716h6M1385 698h6M1364 689h6M1401 747h6M1437 684h6M1390 756h6M1435 760h6M1415 670h6M1395 651h6M1391 782h6M1448 711h6M1424 787h6M1382 659h6M1425 719h6M1401 725h6M1420 722h6M1378 753h6M1395 736h6M1391 723h6M1369 728h6M1400 772h6M1388 681h6M1423 718h6M1396 726h6M1401 679h6M1425 680h6M1410 712h6M1389 692h6M1414 704h6M1441 762h6M1396 768h6M1375 661h6M1435 645h6M1389 736h6M1430 688h6M1444 679h6M1443 740h6M1411 710h6M1383 771h6M1378 721h6M1425 743h6M1424 692h6M1375 732h6M1403 771h6M1358 720h6M1417 699h6M1367 722h6M1433 689h6M1384 674h6M1437 776h6M1393 748h6M1433 688h6M1392 724h6M1446 689h6M1425 777h6M1428 723h6M1392 755h6M1400 740h6M1396 698h6M1397 676h6M1431 659h6M1418 702h6M1420 646h6M1408 725h6M1443 771h6M1418 720h6M1410 771h6M1441 751h6M1439 653h6M1412 697h6M1439 670h6M1421 670h6M1446 727h6M1394 724h6M1443 796h6M1415 715h6M1447 732h6M1395 815h6M1370 741h6M1450 747h6M1417 771h6M1386 727h6M1410 775h6M1422 732h6M1442 791h6M1421 707h6M1382 743h6M1395 675h6M1405 800h6M1413 769h6M1430 729h6M1413 699h6M1418 767h6M1408 729h6M1424 734h6M1420 645h6M1422 656h6M1428 723h6M1401 674h6M1435 711h6M1401 643h6M1450 705h6M1392 784h6M1409 800h6M1406 696h6M1432 765h6M1390 699h6M1398 706h6M1381 698h6M1428 658h6M1436 752h6M1430 765h6M1392 657h6M1439 727h6M1422 773h6M1380 726h6M1410 684h6M1390 729h6M1420 786h6M1433 794h6M1400 740h6M1410 714h6M1398 789h6M1447 731h6M1390 805h6M1438 717h6M1429 743h6M1409 723h6M1388 681h6M1407 678h6M1420 714h6M1390 744h6M1392 712h6M1388 757h6M1414 718h6M1406 749h6M1399 645h6M1452 732h6M1429 688h6M1372 676h6M1425 709h6M1406 705h6M1387 682h6M1382 741h6M1440 735h6M1420 715h6M1443 738h6M1420 679h6M1440 757h6M1398 695h6M1421 669h6M1413 690h6M1385 776h6M1385 644h6M1446 697h6M1436 727h6M1387 653h6M1405 739h6M1394 709h6M1391 720h6M1413 715h6M1361 689h6M1400 703h6M1364 698h6M1418 681h6M1436 774h6M1363 734h6M1371 749h6M1434 786h6M1439 659h6M1414 654h6M1419 760h6M1405 762h6M1388 701h6M1411 723h6M1383 684h6M1371 755h6M1422 699h6M1399 703h6M1387 740h6M1429 682h6M1400 657h6M1395 717h6M1398 710h6" stroke="#8a8a8a" stroke-width="6" transform="scale(.1)"/>
<path d="M1281 913h6M1251 904h6M1260 918h6M1282 950h6M1277 952h6M1283 922h6M1266 891h6M1232 917h6M1267 928h6M1279 883h6M1253 887h6M1296 915h6M1274 893h6M1239 902h6M1268 932h6M1233 928h6M1250 903h6M1263 906h6M1282 944h6M1279 903h6M1281 929h6M1292 926h6M1231 897h6M1261 945h6M1267 945h6M1278 884h6M1272 934h6M1281 876h6M1281 902h6M1297 931h6M1318 928h6M1272 894h6M1297 916h6M1276 931h6M1256 925h6M1275 934h6M1258 917h6M1228 906h6M1272 951h6M1295 902h6M1263 893h6M1256 869h6M1261 904h6M1265 949h6M1277 884h6M1228 904h6M1300 946h6M1257 953h6M1282 902h6M1282 917h6M1244 907h6M1276 958h6M1246 926h6M1272 918h6M1241 956h6M1304 966h6M1283 962h6M1285 949h6M1263 926h6M1264 889h6M1261 887h6M1244 908h6M1292 895h6M1279 878h6M1256 906h6M1263 945h6M1259 945h6M1232 946h6M1241 926h6M1272 944h6M1287 931h6M1268 977h6M1260 920h6M1260 924h6M1248 908h6M1285 903h6M1284 903h6M1308 916h6M1316 934h6M1269 948h6M1301 965h6M1307 946h6M1243 947h6M1270 932h6M1304 899h6M1286 911h6M1307 925h6M1299 957h6M1234 929h6M1234 899h6M1287 885h6M1254 906h6M1280 930h6M1283 905h6M1253 932h6M1250 896h6M1289 896h6M1249 953h6M1289 941h6M1280 866h6M1297 928h6M1266 872h6M1256 916h6M1265 926h6M1262 949h6M1287 886h6M1256 932h6M1258 960h6M1258 927h6M1287 886h6M1303 913h6M1254 899h6M1309 915h6M1264 925h6M1286 896h6M1266 927h6M1297 927h6M1313 913h6M1263 879h6M1270 938h6M1265 914h6M1247 902h6M1260 917h6M1298 934h6M1294 953h6M1260 958h6M1273 881h6M1256 917h6M1270 944h6M1241 922h6M1278 897h6M1278 919h6M1281 884h6M1284 911h6M1266 908h6M1308 955h6M1282 926h6M1284 876h6M1307 910h6M1253 919h6M1242 873h6M1286 965h6M1271 909h6M1279 904h6M1274 931h6M1265 907h6M1273 920h6M1288 875h6M1243 905h6M1283 881h6M1301 960h6M1252 951h6M1230 950h6M1292 933h6M1256 885h6M1281 903h6M1287 872h6M1281 933h6M1253 900h6M1227 918h6M1242 915h6M1287 868h6M1269 960h6M1290 879h6M1293 945h6M1262 936h6M1274 907h6M1273 948h6M1293 899h6M1290 951h6M1273 929h6M1279 874h6M1291 951h6M1245 883h6M1265 924h6M1290 911h6M1270 888h6M1277 895h6M1295 937h6M1229 927h6M1242 945h6M1244 954h6M1278 918h6M1300 881h6M1268 908h6M1268 871h6M1306 907h6M1285 913h6M1263 955h6M1250 890h6M1239 948h6M1252 903h6M1265 935h6M1295 922h6M1269 932h6M1249 923h6M1311 898h6M1248 872h6M1271 935h6M1259 907h6M1299 918h6M1287 906h6M1302 943h6M1266 900h6M1287 919h6M1267 873h6M1270 894h6M1240 910h6M1277 913h6M1257 938h6M1276 907h6M1284 926h6M1292 941h6M1288 900h6M1302 946h6M1256 953h6M1272 889h6M1269 880h6M1298 881h6M1306 893h6M1267 954h6M1279 870h6M1267 865h6M1287 888h6M1268 914h6M1233 927h6M1314 891h6M1256 928h6M1300 893h6M1275 928h6M1296 894h6M1237 895h6M1279 900h6M1257 918h6M1252 900h6M1276 907h6M1279 948h6M1298 921h6M1321 907h6M1293 970h6M1275 942h6M1259 902h6M1276 932h6M1280 937h6M1279 916h6M1256 916h6M1272 918h6M1244 955h6M1298 925h6M1259 950h6M1265 912h6M1286 903h6M1274 905h6M1286 931h6M1289 932h6M1279 930h6M1291 892h6M1243 921h6M1275 912h6M1308 933h6M1302 922h6M1238 881h6M1298 921h6M1260 956h6M1313 931h6M1303 911h6M1249 873h6M1298 876h6M1262 921h6M1286 867h6M1266 896h6M1307 914h6M1256 968h6M1276 942h6M1279 915h6M1290 899h6M1238 901h6M1287 909h6M1297 940h6M1277 951h6M1281 929h6M1265 917h6M1270 949h6M1310 950h6M1278 916h6M1278 904h6M1271 910h6M1272 938h6M1246 969h6M1275 904h6M1306 893h6M1294 960h6M1289 923h6M1255 916h6M1277 947h6M1245 902h6M1269 902h6M1286 874h6M1283 891h6M1263 918h6M1238 931h6M1250 962h6M1263 897h6M1276 917h6M1247 907h6M1298 893h6M1277 937h6M1313 931h6M1278 893h6M1278 957h6M1283 954h6M1260 942h6M1266 900h6M1257 953h6M1286 915h6M1266 942h6M1261 951h6M1279 904h6M1267 890h6M1246 906h6M1260 910h6M1254 901h6M1280 882h6M1274 925h6M1300 952h6M1307 946h6M1290 933h6M1269 916h6M1269 892h6M1300 900h6M1281 896h6M1244 951h6M1275 876h6M1288 945h6M1265 940h6M1303 953h6M1287 942h6M1311 926h6M1265 912h6M1273 868h6M1271 915h6M1270 942h6M1308 926h6M1253 906h6M1272 899h6M1270 935h6M1277 977h6M1232 923h6M1297 889h6M1295 935h6M1301 891h6M1244 964h6M1274 874h6M1269 964h6M1246 874h6M1269 901h6M1258 911h6M1256 903h6M1295 920h6M1284 867h6M1249 948h6M1275 948h6M1236 938h6M1258 920h6M1255 892h6M1246 916h6M1297 889h6M1257 891h6M1251 938h6M1261 892h6M1289 929h6M1280 924h6M1257 942h6M1256 926h6M1275 952h6M1268 942h6M1230 923h6M1276 922h6M1256 900h6M1310 913h6M1294 871h6M1288 925h6M1279 893h6M1280 914h6M1305 905h6M1233 949h6M1245 913h6M1290 967h6M1285 940h6M1276 923h6M1270 929h6M1250 926h6M1300 924h6M1268 941h6M1251 914h6M1291 917h6M1255 888h6M1273 957h6M1271 944h6M1265 923h6M1275 895h6M1295 920h6M1286 900h6M1294 901h6M1282 909h6M1254 937h6M1282 864h6M1289 943h6M1277 930h6M1279 929h6M1264 950h6M1302 897h6M1274 895h6M1261 947h6M1273 926h6M1301 931h6M1277 969h6M1302 929h6M1268 889h6M1288 900h6M1253 897h6M1251 906h6M1286 901h6M1264 916h6M1257 943h6M1312 916h6M1290 951h6" stroke="#555" stroke-width="6" transform="scale(.1)"/>
<path d="M1396 866h6M1420 958h6M1443 944h6M1430 954h6M1401 871h6M1361 939h6M1420 917h6M1406 888h6M1444 943h6M1416 905h6M1398 940h6M1384 912h6M1418 924h6M1385 875h6M1420 901h6M1432 937h6M1415 931h6M1371 924h6M1421 916h6M1410 884h6M1409 958h6M1405 959h6M1393 896h6M1415 891h6M1361 929h6M1407 936h6M1384 905h6M1421 903h6M1402 925h6M1387 926h6M1367 934h6M1397 869h6M1376 910h6M1386 934h6M1411 942h6M1401 943h6M1445 891h6M1405 914h6M1405 953h6M1398 891h6M1405 946h6M1409 894h6M1403 891h6M1435 922h6M1447 939h6M1425 890h6M1421 907h6M1393 924h6M1452 934h6M1371 903h6M1411 906h6M1413 933h6M1397 918h6M1416 887h6M1402 898h6M1392 893h6M1392 895h6M1456 915h6M1419 896h6M1413 934h6M1397 974h6M1411 957h6M1408 942h6M1407 880h6M1425 912h6M1406 929h6M1381 906h6M1385 958h6M1402 903h6M1422 923h6M1424 877h6M1410 939h6M1394 958h6M1407 898h6M1399 937h6M1437 907h6M1425 911h6M1386 892h6M1429 907h6M1414 970h6M1436 909h6M1402 929h6M1390 942h6M1391 910h6M1431 940h6M1393 965h6M1424 886h6M1397 933h6M1397 878h6M1411 934h6M1443 953h6M1430 896h6M1377 890h6M1424 947h6M1360 937h6M1432 965h6M1429 948h6M1415 911h6M1405 919h6M1379 917h6M1435 910h6M1442 894h6M1420 897h6M1437 941h6M1434 944h6M1422 953h6M1412 935h6M1407 950h6M1401 925h6M1387 913h6M1367 927h6M1398 900h6M1389 891h6M1408 916h6M1400 960h6M1380 907h6M1373 911h6M1403 866h6M1394 911h6M1374 959h6M1412 880h6M1418 930h6M1393 894h6M1410 900h6M1414 974h6M1380 932h6M1407 880h6M1402 885h6M1401 963h6M1436 951h6M1411 904h6M1419 950h6M1404 933h6M1407 929h6M1432 879h6M1410 903h6M1402 930h6M1453 901h6M1385 897h6M1412 923h6M1433 915h6M1399 963h6M1386 901h6M1396 929h6M1420 937h6M1454 915h6M1449 921h6M1428 947h6M1403 913h6M1407 960h6M1378 901h6M1424 937h6M1366 914h6M1392 882h6M1402 893h6M1392 887h6M1456 907h6M1384 905h6M1401 924h6M1426 941h6M1443 917h6M1427 952h6M1447 926h6M1377 897h6M1402 907h6M1439 886h6M1422 906h6M1413 963h6M1436 901h6M1409 949h6M1409 951h6M1444 908h6M1426 899h6M1445 919h6M1402 932h6M1429 903h6M1418 938h6M1431 918h6M1389 922h6M1419 926h6M1433 930h6M1372 937h6M1433 869h6M1428 946h6M1421 937h6M1389 937h6M1422 894h6M1426 951h6M1419 929h6M1427 928h6M1410 907h6M1412 964h6M1429 887h6M1386 931h6M1413 925h6M1395 901h6M1423 945h6M1429 950h6M1431 910h6M1422 922h6M1440 906h6M1399 926h6M1410 913h6M1405 964h6M1402 902h6M1444 916h6M1401 900h6M1409 912h6M1403 915h6M1415 882h6M1386 907h6M1409 911h6M1410 922h6M1401 911h6M1456 921h6M1398 943h6M1419 895h6M1422 931h6M1427 920h6M1419 876h6M1368 938h6M1392 934h6M1432 887h6M1385 936h6M1406 891h6M1379 913h6M1389 934h6M1405 968h6M1399 904h6M1420 943h6M1383 900h6M1384 884h6M1405 928h6M1391 889h6M1415 930h6M1390 899h6M1401 908h6M1373 922h6M1395 925h6M1427 930h6M1445 938h6M1437 909h6M1425 952h6M1431 906h6M1405 900h6M1406 945h6M1411 925h6M1406 959h6M1395 887h6M1402 887h6M1406 921h6M1417 938h6M1403 895h6M1425 956h6M1388 884h6M1390 894h6M1423 908h6M1398 954h6M1379 902h6M1442 945h6M1431 915h6M1414 906h6M1433 942h6M1437 904h6M1409 934h6M1441 896h6M1427 917h6M1408 901h6M1425 939h6M1383 957h6M1388 929h6M1445 881h6M1367 934h6M1426 930h6M1429 896h6M1421 931h6M1427 901h6M1365 891h6M1380 958h6M1435 930h6M1427 921h6M1440 903h6M1453 934h6M1395 924h6M1412 882h6M1435 928h6M1375 886h6M1392 902h6M1414 923h6M1427 938h6M1361 918h6M1391 879h6M1435 872h6M1397 888h6M1419 901h6M1407 933h6M1412 931h6M1416 941h6M1383 884h6M1394 915h6M1403 882h6M1361 933h6M1422 913h6M1432 922h6M1381 903h6M1402 939h6M1397 923h6M1439 885h6M1418 944h6M1420 931h6M1416 921h6M1404 897h6M1394 890h6M1406 960h6M1391 920h6M1403 951h6M1410 951h6M1433 959h6M1411 926h6M1429 878h6M1401 945h6M1435 878h6M1429 911h6M1402 894h6M1449 897h6M1435 928h6M1452 909h6M1404 908h6M1419 900h6M1416 963h6M1413 909h6M1423 923h6M1426 928h6M1404 922h6M1400 868h6M1386 941h6M1409 900h6M1387 910h6M1449 886h6M1418 868h6M1378 960h6M1432 964h6M1388 923h6M1405 944h6M1428 897h6M1409 909h6M1406 920h6M1370 899h6M1409 878h6M1385 934h6M1420 918h6M1411 924h6M1379 953h6M1394 934h6M1374 929h6M1381 905h6M1384 934h6M1395 899h6M1444 915h6M1428 885h6M1411 918h6M1399 953h6M1432 906h6M1418 955h6M1411 918h6M1438 937h6" stroke="#666" stroke-width="6" transform="scale(.1)"/>
<ellipse cx="127.4" cy="72.4" rx="4.9" ry="9.85" fill="none" stroke="#111" stroke-width="1.9"/>
<ellipse cx="140.9" cy="72.4" rx="5.15" ry="9.85" fill="none" stroke="#111" stroke-width="1.9"/>
<ellipse cx="127.3" cy="92.1" rx="5.05" ry="6.0" fill="none" stroke="#111" stroke-width="1.9"/>
<ellipse cx="140.8" cy="91.9" rx="5.05" ry="5.75" fill="none" stroke="#111" stroke-width="1.9"/>
<line x1="121.6" y1="65.6" x2="103.22780710544352" y2="52.06259470927417" stroke="#111" stroke-width="1.6"/>
<path d="M98.80,48.80 L105.41,49.94 L101.85,54.77Z" fill="#111"/>
<line x1="145.8" y1="65" x2="163.61426487918726" y2="51.51893468602046" stroke="#111" stroke-width="1.6"/>
<path d="M168.00,48.20 L165.03,54.21 L161.41,49.43Z" fill="#111"/>
<line x1="121.6" y1="97.3" x2="103.35774052343878" y2="109.62152613767731" stroke="#111" stroke-width="1.6"/>
<path d="M98.80,112.70 L102.09,106.86 L105.45,111.83Z" fill="#111"/>
<line x1="145.6" y1="96.8" x2="163.51501556157837" y2="109.51646193879893" stroke="#111" stroke-width="1.6"/>
<path d="M168.00,112.70 L161.37,111.67 L164.84,106.78Z" fill="#111"/>
<text transform="translate(113.3,76.6) rotate(-90)" font-size="8.6" text-anchor="middle" textLength="27.6" lengthAdjust="spacingAndGlyphs" fill="#1a1a1a" stroke="#1a1a1a" stroke-width="0.22">NKG2A</text>
<text x="134.3" y="111.3" font-size="8.4" text-anchor="middle" fill="#1a1a1a" stroke="#1a1a1a" stroke-width="0.22">KIRs</text>
<text x="139.3" y="159.4" font-size="8.4" text-anchor="middle" textLength="79.8" lengthAdjust="spacingAndGlyphs" fill="#1a1a1a" stroke="#1a1a1a" stroke-width="0.22">Transplant #55, d681</text>
<line x1="99.2" y1="160.5" x2="179.4" y2="160.5" stroke="#222" stroke-width="0.8"/>
<rect x="335.4" y="10.9" width="175.2" height="137.4" fill="none" stroke="#a8a8a8" stroke-width="0.9"/>
<text x="332.6" y="151.20000000000002" font-size="8.0" text-anchor="end" fill="#1a1a1a" stroke="#1a1a1a" stroke-width="0.22">0</text>
<text x="332.6" y="124.20000000000002" font-size="8.0" text-anchor="end" fill="#1a1a1a" stroke="#1a1a1a" stroke-width="0.22">20</text>
<text x="332.6" y="97.20000000000002" font-size="8.0" text-anchor="end" fill="#1a1a1a" stroke="#1a1a1a" stroke-width="0.22">40</text>
<text x="332.6" y="70.20000000000002" font-size="8.0" text-anchor="end" fill="#1a1a1a" stroke="#1a1a1a" stroke-width="0.22">60</text>
<text x="332.6" y="43.20000000000001" font-size="8.0" text-anchor="end" fill="#1a1a1a" stroke="#1a1a1a" stroke-width="0.22">80</text>
<text x="332.6" y="16.20000000000001" font-size="8.0" text-anchor="end" fill="#1a1a1a" stroke="#1a1a1a" stroke-width="0.22">100</text>
<text transform="translate(312.6,79.2) rotate(-90)" font-size="8.4" text-anchor="middle" fill="#1a1a1a" stroke="#1a1a1a" stroke-width="0.22">% CD107a<tspan font-size="5.5" dy="-2.5">+</tspan><tspan dy="2.5"> NK cells</tspan></text>
<circle cx="369.0" cy="132.5" r="1.45" fill="#d0d0d0" stroke="#6a6a6a" stroke-width="0.7"/>
<circle cx="372.0" cy="134" r="1.45" fill="#d0d0d0" stroke="#6a6a6a" stroke-width="0.7"/>
<circle cx="369.3" cy="135.5" r="1.45" fill="#d0d0d0" stroke="#6a6a6a" stroke-width="0.7"/>
<circle cx="371.7" cy="137" r="1.45" fill="#d0d0d0" stroke="#6a6a6a" stroke-width="0.7"/>
<circle cx="369.0" cy="139" r="1.45" fill="#d0d0d0" stroke="#6a6a6a" stroke-width="0.7"/>
<circle cx="372.0" cy="140.5" r="1.45" fill="#d0d0d0" stroke="#6a6a6a" stroke-width="0.7"/>
<circle cx="369.3" cy="142" r="1.45" fill="#d0d0d0" stroke="#6a6a6a" stroke-width="0.7"/>
<circle cx="370.5" cy="144.5" r="1.45" fill="#d0d0d0" stroke="#6a6a6a" stroke-width="0.7"/>
<circle cx="371.8" cy="133.5" r="1.45" fill="#d0d0d0" stroke="#6a6a6a" stroke-width="0.7"/>
<circle cx="370.5" cy="136.5" r="1.45" fill="#d0d0d0" stroke="#6a6a6a" stroke-width="0.7"/>
<circle cx="370.7" cy="141" r="1.45" fill="#d0d0d0" stroke="#6a6a6a" stroke-width="0.7"/>
<circle cx="371.7" cy="143" r="1.45" fill="#d0d0d0" stroke="#6a6a6a" stroke-width="0.7"/>
<circle cx="407.5" cy="87.4" r="1.45" fill="#d0d0d0" stroke="#6a6a6a" stroke-width="0.7"/>
<circle cx="403.5" cy="89.6" r="1.45" fill="#d0d0d0" stroke="#6a6a6a" stroke-width="0.7"/>
<circle cx="405.5" cy="96.4" r="1.45" fill="#d0d0d0" stroke="#6a6a6a" stroke-width="0.7"/>
<circle cx="405.5" cy="105.3" r="1.45" fill="#d0d0d0" stroke="#6a6a6a" stroke-width="0.7"/>
<circle cx="405.5" cy="113.3" r="1.45" fill="#d0d0d0" stroke="#6a6a6a" stroke-width="0.7"/>
<circle cx="405.5" cy="118.5" r="1.45" fill="#d0d0d0" stroke="#6a6a6a" stroke-width="0.7"/>
<circle cx="404.0" cy="120" r="1.45" fill="#d0d0d0" stroke="#6a6a6a" stroke-width="0.7"/>
<circle cx="407.0" cy="124.3" r="1.45" fill="#d0d0d0" stroke="#6a6a6a" stroke-width="0.7"/>
<circle cx="404.0" cy="126" r="1.45" fill="#d0d0d0" stroke="#6a6a6a" stroke-width="0.7"/>
<circle cx="406.5" cy="129.3" r="1.45" fill="#d0d0d0" stroke="#6a6a6a" stroke-width="0.7"/>
<circle cx="404.0" cy="131.9" r="1.45" fill="#d0d0d0" stroke="#6a6a6a" stroke-width="0.7"/>
<circle cx="405.5" cy="133.6" r="1.45" fill="#d0d0d0" stroke="#6a6a6a" stroke-width="0.7"/>
<circle cx="440.5" cy="85.4" r="1.45" fill="#d0d0d0" stroke="#6a6a6a" stroke-width="0.7"/>
<circle cx="440.5" cy="90.1" r="1.45" fill="#d0d0d0" stroke="#6a6a6a" stroke-width="0.7"/>
<circle cx="440.5" cy="92.5" r="1.45" fill="#d0d0d0" stroke="#6a6a6a" stroke-width="0.7"/>
<circle cx="440.5" cy="98" r="1.45" fill="#d0d0d0" stroke="#6a6a6a" stroke-width="0.7"/>
<circle cx="438.8" cy="110.4" r="1.45" fill="#d0d0d0" stroke="#6a6a6a" stroke-width="0.7"/>
<circle cx="442.3" cy="110.6" r="1.45" fill="#d0d0d0" stroke="#6a6a6a" stroke-width="0.7"/>
<circle cx="440.5" cy="115" r="1.45" fill="#d0d0d0" stroke="#6a6a6a" stroke-width="0.7"/>
<circle cx="440.5" cy="118.3" r="1.45" fill="#d0d0d0" stroke="#6a6a6a" stroke-width="0.7"/>
<circle cx="439.5" cy="129.3" r="1.45" fill="#d0d0d0" stroke="#6a6a6a" stroke-width="0.7"/>
<circle cx="438.5" cy="132.7" r="1.45" fill="#d0d0d0" stroke="#6a6a6a" stroke-width="0.7"/>
<circle cx="442.3" cy="132.7" r="1.45" fill="#d0d0d0" stroke="#6a6a6a" stroke-width="0.7"/>
<circle cx="440.5" cy="137.4" r="1.45" fill="#d0d0d0" stroke="#6a6a6a" stroke-width="0.7"/>
<circle cx="475.5" cy="71.5" r="1.45" fill="#d0d0d0" stroke="#6a6a6a" stroke-width="0.7"/>
<circle cx="475.5" cy="75.6" r="1.45" fill="#d0d0d0" stroke="#6a6a6a" stroke-width="0.7"/>
<circle cx="473.7" cy="82" r="1.45" fill="#d0d0d0" stroke="#6a6a6a" stroke-width="0.7"/>
<circle cx="477.3" cy="82" r="1.45" fill="#d0d0d0" stroke="#6a6a6a" stroke-width="0.7"/>
<circle cx="475.5" cy="85.4" r="1.45" fill="#d0d0d0" stroke="#6a6a6a" stroke-width="0.7"/>
<circle cx="473.7" cy="92.1" r="1.45" fill="#d0d0d0" stroke="#6a6a6a" stroke-width="0.7"/>
<circle cx="477.3" cy="92.1" r="1.45" fill="#d0d0d0" stroke="#6a6a6a" stroke-width="0.7"/>
<circle cx="475.5" cy="94.7" r="1.45" fill="#d0d0d0" stroke="#6a6a6a" stroke-width="0.7"/>
<circle cx="474.5" cy="104.8" r="1.45" fill="#d0d0d0" stroke="#6a6a6a" stroke-width="0.7"/>
<circle cx="476.5" cy="107.3" r="1.45" fill="#d0d0d0" stroke="#6a6a6a" stroke-width="0.7"/>
<circle cx="475.5" cy="109.4" r="1.45" fill="#d0d0d0" stroke="#6a6a6a" stroke-width="0.7"/>
<circle cx="474.0" cy="116.6" r="1.45" fill="#d0d0d0" stroke="#6a6a6a" stroke-width="0.7"/>
<circle cx="477.0" cy="118.3" r="1.45" fill="#d0d0d0" stroke="#6a6a6a" stroke-width="0.7"/>
<circle cx="475.5" cy="122.2" r="1.45" fill="#d0d0d0" stroke="#6a6a6a" stroke-width="0.7"/>
<line x1="364.3" y1="138.3" x2="377" y2="138.3" stroke="#000" stroke-width="1.4"/>
<line x1="399.8" y1="118" x2="412.2" y2="118" stroke="#000" stroke-width="1.4"/>
<line x1="434.9" y1="117" x2="446.7" y2="117" stroke="#000" stroke-width="1.4"/>
<line x1="469.9" y1="100.6" x2="481.7" y2="100.6" stroke="#000" stroke-width="1.4"/>
<path d="M371.5,36.699999999999996 V32.4 H439.8 V36.699999999999996" fill="none" stroke="#333" stroke-width="1.0"/>
<path d="M441.5,36.699999999999996 V32.4 H475.2 V36.699999999999996" fill="none" stroke="#333" stroke-width="1.0"/>
<path d="M371.5,56.0 V51.7 H404.6 V56.0" fill="none" stroke="#333" stroke-width="1.0"/>
<path d="M407.1,56.0 V51.7 H474.8 V56.0" fill="none" stroke="#333" stroke-width="1.0"/>
<text x="405.3" y="34.0" font-size="10.5" text-anchor="middle" font-weight="bold" textLength="11.0" lengthAdjust="spacingAndGlyphs" fill="#222">***</text>
<text x="458.5" y="34.0" font-size="10.5" text-anchor="middle" font-weight="bold" textLength="11.0" lengthAdjust="spacingAndGlyphs" fill="#222">***</text>
<text x="387.9" y="53.099999999999994" font-size="10.5" text-anchor="middle" font-weight="bold" textLength="11.0" lengthAdjust="spacingAndGlyphs" fill="#222">***</text>
<text x="440.5" y="53.099999999999994" font-size="10.5" text-anchor="middle" font-weight="bold" textLength="11.0" lengthAdjust="spacingAndGlyphs" fill="#222">***</text>
<text x="371.0" y="159.4" font-size="7.4" text-anchor="middle" fill="#1a1a1a" stroke="#1a1a1a" stroke-width="0.22">NKG2A<tspan font-size="5" dy="-2.6">−</tspan></text>
<text x="371.0" y="168.1" font-size="7.4" text-anchor="middle" fill="#1a1a1a" stroke="#1a1a1a" stroke-width="0.22">KIRs<tspan font-size="5" dy="-2.6">−</tspan></text>
<text x="406.0" y="159.4" font-size="7.4" text-anchor="middle" fill="#1a1a1a" stroke="#1a1a1a" stroke-width="0.22">NKG2A<tspan font-size="5" dy="-2.6">−</tspan></text>
<text x="406.0" y="168.1" font-size="7.4" text-anchor="middle" fill="#1a1a1a" stroke="#1a1a1a" stroke-width="0.22">KIRs<tspan font-size="5" dy="-2.6">+</tspan></text>
<text x="441.0" y="159.4" font-size="7.4" text-anchor="middle" fill="#1a1a1a" stroke="#1a1a1a" stroke-width="0.22">NKG2A<tspan font-size="5" dy="-2.6">+</tspan></text>
<text x="441.0" y="168.1" font-size="7.4" text-anchor="middle" fill="#1a1a1a" stroke="#1a1a1a" stroke-width="0.22">KIRs<tspan font-size="5" dy="-2.6">−</tspan></text>
<text x="476.0" y="159.4" font-size="7.4" text-anchor="middle" fill="#1a1a1a" stroke="#1a1a1a" stroke-width="0.22">NKG2A<tspan font-size="5" dy="-2.6">+</tspan></text>
<text x="476.0" y="168.1" font-size="7.4" text-anchor="middle" fill="#1a1a1a" stroke="#1a1a1a" stroke-width="0.22">KIRs<tspan font-size="5" dy="-2.6">+</tspan></text>
<text x="1.9" y="203.6" font-size="11.4" font-weight="bold" fill="#000">B</text>
<clipPath id="cp31"><rect x="28.7" y="217.60000000000002" width="42.599999999999994" height="42.999999999999964"/></clipPath>
<g clip-path="url(#cp31)">
<ellipse cx="33.3" cy="233.9" rx="5.0" ry="7.4" fill="#000" opacity="1" filter="url(#b7)"/>
<ellipse cx="33.5" cy="252.5" rx="3.8" ry="4.8" fill="#111" opacity="0.85" filter="url(#b10)"/>
<path d="M341 2346h6M343 2364h6M358 2389h6M341 2342h6M333 2387h6M332 2367h6M376 2322h6M368 2275h6M362 2304h6M328 2308h6M357 2354h6M317 2280h6M377 2340h6M305 2299h6M344 2404h6M364 2361h6M344 2340h6M287 2362h6M378 2387h6M314 2390h6M304 2301h6M356 2376h6M336 2291h6M328 2347h6M343 2357h6M371 2361h6M346 2310h6M324 2286h6M323 2350h6M328 2258h6M361 2404h6M349 2378h6M324 2296h6M335 2272h6M354 2327h6M314 2369h6M335 2375h6M305 2390h6M297 2304h6M335 2368h6M323 2387h6M296 2395h6M306 2314h6M290 2295h6M366 2376h6M343 2314h6M304 2334h6M346 2406h6M331 2302h6M336 2353h6M337 2351h6M299 2370h6M373 2352h6M298 2343h6M330 2301h6M329 2324h6M309 2385h6M321 2277h6M307 2346h6M374 2302h6M287 2317h6M292 2301h6M310 2372h6M309 2363h6M320 2307h6M333 2420h6M367 2391h6M329 2352h6M295 2332h6M319 2339h6M354 2292h6M328 2275h6M296 2318h6M365 2281h6M325 2322h6M289 2323h6M312 2348h6M345 2317h6M337 2303h6M340 2359h6M317 2274h6M371 2291h6M317 2313h6M349 2277h6M360 2361h6M323 2408h6M317 2338h6M370 2394h6M354 2326h6M290 2297h6M325 2272h6M376 2341h6M356 2388h6M363 2309h6M348 2384h6M320 2287h6M290 2309h6M314 2396h6M360 2363h6M330 2288h6M349 2332h6M360 2326h6M312 2344h6M317 2275h6M324 2321h6M328 2291h6M300 2367h6M361 2318h6M343 2339h6M311 2311h6M330 2350h6M321 2392h6M335 2295h6M321 2334h6M345 2352h6M351 2313h6M357 2269h6M337 2385h6M289 2323h6M355 2269h6M340 2350h6M292 2292h6M322 2335h6M340 2278h6M319 2376h6M372 2308h6M328 2315h6M362 2409h6M315 2310h6M327 2312h6M307 2313h6M335 2354h6M344 2278h6M352 2355h6M309 2408h6M291 2355h6M307 2330h6M371 2381h6M296 2389h6M338 2342h6M320 2377h6M300 2295h6M354 2284h6M322 2350h6M315 2354h6M315 2327h6M368 2338h6M375 2354h6M341 2301h6M316 2310h6M367 2341h6M290 2318h6M372 2366h6M348 2319h6M348 2354h6M344 2292h6M376 2334h6M317 2363h6M356 2286h6M364 2312h6M332 2293h6M336 2407h6M358 2352h6M310 2382h6M332 2318h6M302 2397h6M297 2392h6M328 2377h6M363 2396h6M338 2352h6M381 2347h6M296 2289h6M374 2347h6M308 2397h6M358 2308h6M360 2324h6M320 2325h6M308 2281h6M312 2383h6M354 2335h6M330 2331h6M329 2399h6M343 2367h6M330 2393h6M354 2288h6M346 2295h6M289 2392h6M359 2378h6M372 2303h6M356 2329h6M328 2282h6M294 2368h6M309 2333h6M301 2305h6M305 2288h6M322 2288h6M301 2371h6M337 2271h6M321 2421h6M388 2330h6M373 2315h6M315 2372h6M329 2336h6M384 2331h6M302 2392h6M314 2330h6M308 2390h6M329 2382h6M296 2291h6M345 2374h6M352 2317h6M370 2323h6M293 2311h6M354 2365h6M307 2343h6M342 2338h6M334 2337h6M301 2378h6M341 2367h6M353 2313h6M305 2361h6M380 2300h6M320 2279h6M374 2365h6M343 2356h6M312 2305h6M376 2316h6M372 2347h6M319 2407h6M312 2359h6M316 2389h6M360 2310h6M364 2397h6M366 2316h6M360 2406h6M358 2398h6M355 2412h6M375 2307h6M326 2371h6M297 2310h6M292 2378h6M369 2327h6M316 2274h6M311 2346h6M324 2313h6M360 2315h6M364 2392h6M299 2375h6M324 2268h6M369 2389h6M337 2297h6M355 2295h6M318 2309h6M325 2405h6M364 2334h6M342 2294h6M390 2344h6M318 2305h6M337 2324h6M328 2294h6M373 2307h6M333 2395h6M340 2341h6M316 2385h6M356 2360h6M329 2368h6M378 2338h6M369 2378h6M324 2381h6M350 2358h6M343 2298h6M322 2399h6M346 2354h6M342 2338h6M298 2362h6M306 2303h6M316 2345h6M367 2284h6M296 2322h6M356 2393h6M324 2308h6M311 2343h6M359 2328h6M323 2330h6M295 2347h6M324 2373h6M294 2345h6M331 2305h6" stroke="#111" stroke-width="6" transform="scale(.1)"/>
<path d="M300 2561h6M327 2481h6M373 2502h6M366 2537h6M354 2486h6M334 2549h6M300 2501h6M326 2580h6M306 2575h6M330 2473h6M324 2535h6M366 2500h6M375 2515h6M338 2482h6M304 2504h6M339 2512h6M349 2481h6M318 2538h6M295 2546h6M304 2493h6M330 2518h6M350 2504h6M360 2559h6M298 2556h6M289 2532h6M367 2562h6M320 2483h6M357 2479h6M335 2530h6M369 2499h6M309 2501h6M368 2481h6M338 2523h6M327 2556h6M344 2512h6M353 2495h6M311 2474h6M331 2507h6M355 2544h6M337 2525h6M296 2509h6M344 2537h6M365 2485h6M356 2490h6M320 2578h6M339 2558h6M310 2513h6M316 2568h6M345 2492h6M332 2480h6M335 2557h6M342 2552h6M306 2510h6M317 2558h6M374 2567h6M335 2548h6M330 2514h6M314 2515h6M351 2575h6M338 2489h6M347 2565h6M315 2542h6M375 2531h6M331 2544h6M311 2486h6M317 2537h6M339 2508h6M354 2490h6M342 2503h6M364 2513h6M324 2513h6M377 2501h6M339 2512h6M347 2481h6M318 2506h6M365 2493h6M328 2504h6M347 2467h6M306 2547h6M312 2519h6M325 2460h6M348 2482h6M355 2559h6M319 2567h6M331 2556h6M352 2573h6M291 2489h6M353 2521h6M350 2533h6M351 2520h6M348 2577h6M295 2543h6M320 2559h6M294 2521h6M348 2530h6M325 2530h6M310 2535h6M340 2509h6M295 2521h6M341 2553h6M334 2552h6M375 2522h6M348 2547h6M358 2505h6M306 2559h6M312 2545h6M300 2561h6M347 2515h6M359 2571h6M364 2564h6M329 2478h6M332 2484h6M369 2489h6M372 2544h6M331 2499h6M338 2584h6M326 2488h6M335 2504h6M331 2566h6M344 2527h6M344 2509h6M299 2497h6M326 2549h6M307 2557h6M310 2485h6M295 2543h6M319 2554h6M299 2547h6M322 2475h6M355 2489h6M297 2492h6M323 2485h6M319 2491h6M333 2587h6M323 2565h6M299 2503h6M300 2524h6M366 2552h6M349 2481h6M365 2497h6M344 2519h6M330 2551h6M331 2472h6M304 2492h6M316 2497h6M374 2539h6M360 2555h6M317 2518h6M300 2519h6M323 2543h6M290 2525h6M325 2513h6M294 2495h6M371 2525h6M341 2546h6M290 2528h6M303 2565h6M317 2552h6M365 2538h6M350 2556h6M357 2548h6M293 2556h6M356 2541h6M291 2529h6M344 2564h6M298 2544h6M321 2557h6M321 2541h6M347 2550h6M343 2477h6M295 2479h6M290 2502h6M355 2477h6M319 2506h6M347 2467h6M289 2533h6M353 2508h6M324 2562h6M351 2484h6M330 2524h6M296 2539h6M306 2512h6M308 2519h6M307 2568h6M336 2515h6M323 2575h6M336 2492h6M342 2528h6M336 2572h6M299 2489h6M374 2542h6M351 2553h6M331 2549h6M303 2542h6M325 2492h6M306 2534h6M306 2528h6M338 2500h6M314 2478h6M358 2482h6M307 2514h6M364 2522h6M370 2481h6M294 2525h6M314 2547h6M324 2539h6M336 2552h6M365 2494h6M370 2545h6M318 2530h6M304 2540h6M355 2500h6M308 2544h6M333 2468h6M327 2490h6M354 2516h6M326 2524h6M329 2477h6M332 2486h6M301 2538h6M325 2560h6M341 2534h6M302 2510h6M294 2511h6M368 2554h6M324 2569h6M340 2521h6M349 2474h6M367 2551h6M359 2544h6M342 2517h6M372 2517h6M344 2550h6M379 2527h6M297 2501h6M339 2557h6M336 2523h6M329 2474h6M328 2550h6M344 2548h6M330 2582h6M361 2497h6M312 2543h6M312 2542h6M318 2557h6M317 2515h6M317 2522h6M346 2526h6M348 2536h6M351 2529h6M346 2560h6M346 2511h6M358 2554h6M314 2534h6M340 2490h6M353 2563h6M329 2492h6M324 2570h6M323 2486h6M376 2525h6M306 2492h6M351 2476h6M311 2537h6M301 2487h6M337 2528h6M338 2544h6M350 2512h6M330 2566h6M378 2540h6M313 2510h6M361 2489h6M361 2497h6M320 2502h6M322 2548h6M318 2524h6M327 2497h6M326 2557h6M358 2509h6M345 2574h6M304 2525h6M302 2554h6M325 2559h6M356 2481h6M330 2492h6M344 2544h6M327 2483h6M322 2481h6M300 2500h6M336 2481h6M297 2575h6M313 2488h6M357 2497h6M300 2548h6M318 2516h6M367 2536h6M363 2572h6M330 2567h6M376 2518h6M371 2520h6M312 2552h6M356 2531h6M370 2540h6M313 2555h6M319 2485h6M317 2563h6M334 2553h6M350 2473h6M330 2469h6M366 2490h6M316 2462h6M351 2498h6M341 2512h6M333 2519h6M349 2508h6M293 2551h6M326 2496h6M341 2587h6M306 2511h6M299 2542h6M308 2566h6M358 2538h6M366 2560h6M361 2517h6M342 2484h6M343 2569h6M334 2507h6M322 2534h6M363 2557h6M302 2526h6M332 2513h6M327 2539h6M326 2521h6M333 2567h6M364 2538h6M360 2525h6M298 2566h6M337 2558h6M362 2546h6M307 2492h6M293 2527h6M356 2536h6M327 2475h6M377 2511h6M304 2562h6M338 2485h6M324 2485h6M294 2531h6M379 2514h6M330 2486h6M337 2544h6M357 2573h6M324 2531h6M355 2483h6M301 2547h6M322 2507h6M298 2513h6M330 2529h6M319 2534h6M324 2538h6M305 2558h6M327 2502h6M343 2538h6M295 2539h6M341 2511h6M307 2582h6M345 2558h6M305 2545h6M331 2466h6M326 2469h6M372 2505h6M379 2495h6M349 2501h6M313 2559h6M316 2484h6M361 2507h6M309 2495h6M300 2497h6M330 2512h6M328 2518h6M338 2462h6M332 2552h6M302 2516h6M320 2475h6M334 2571h6M372 2549h6M340 2564h6M375 2545h6M370 2508h6M298 2557h6M302 2504h6M347 2495h6M345 2578h6M361 2499h6M340 2576h6M325 2536h6M361 2488h6M336 2537h6M373 2522h6M314 2551h6M361 2570h6M359 2569h6M356 2478h6M323 2504h6M329 2576h6M318 2494h6M293 2522h6M361 2538h6M322 2530h6M336 2580h6M344 2478h6M346 2538h6M340 2575h6" stroke="#222" stroke-width="6" transform="scale(.1)"/>
<path d="M383 2484h6M336 2430h6M346 2466h6M326 2420h6M358 2432h6M316 2417h6M325 2448h6M323 2473h6M309 2467h6M335 2417h6M335 2430h6M338 2427h6M294 2447h6M297 2451h6M375 2424h6M335 2426h6M318 2448h6M325 2417h6M324 2439h6M309 2449h6M329 2450h6M303 2428h6M318 2468h6M360 2447h6M299 2437h6M345 2429h6M307 2460h6M311 2433h6M352 2394h6M306 2476h6M336 2440h6M316 2443h6M361 2444h6M325 2457h6M319 2424h6M333 2418h6M329 2433h6M319 2381h6M339 2403h6M318 2455h6M325 2435h6M342 2417h6M325 2428h6M315 2472h6M326 2426h6M307 2426h6M343 2457h6M303 2436h6M300 2461h6M350 2468h6M309 2443h6M340 2441h6M339 2434h6M308 2439h6M344 2410h6M313 2428h6M335 2413h6M341 2450h6M353 2417h6M313 2444h6M311 2450h6M368 2493h6M320 2463h6M340 2434h6M292 2459h6M344 2472h6M291 2383h6M322 2452h6M339 2445h6M301 2447h6M326 2439h6M357 2415h6M318 2416h6M333 2439h6M334 2475h6M293 2441h6M324 2461h6M330 2430h6M363 2440h6M298 2434h6M329 2442h6M326 2446h6M330 2458h6M340 2431h6M341 2435h6M305 2436h6M342 2429h6M333 2455h6M329 2419h6M362 2391h6M310 2423h6M327 2408h6M325 2430h6M310 2433h6M351 2427h6M317 2426h6M335 2440h6M321 2442h6M330 2409h6M325 2430h6M339 2461h6M336 2464h6M327 2447h6M329 2448h6M334 2439h6M338 2442h6M308 2374h6M310 2466h6M317 2455h6M338 2432h6M355 2393h6M349 2433h6M302 2458h6M341 2439h6M312 2450h6M363 2472h6M310 2412h6M366 2400h6M363 2466h6M345 2418h6M319 2431h6M328 2456h6M336 2457h6M341 2443h6M331 2437h6M324 2482h6M360 2448h6M307 2463h6M315 2444h6M331 2465h6M322 2380h6M306 2464h6M330 2448h6M321 2475h6M320 2417h6M346 2453h6M327 2410h6M310 2433h6M311 2473h6M298 2451h6" stroke="#777" stroke-width="6" transform="scale(.1)"/>
<path d="M438 2378h6M484 2331h6M463 2310h6M448 2372h6M454 2346h6M490 2278h6M458 2242h6M406 2300h6M486 2404h6M467 2344h6M485 2327h6M469 2328h6M393 2374h6M428 2344h6M422 2294h6M487 2341h6M484 2384h6M465 2344h6M471 2361h6M433 2302h6M370 2264h6M434 2399h6M506 2228h6M422 2289h6M534 2348h6M507 2370h6M453 2348h6M426 2337h6M492 2364h6M406 2387h6M399 2356h6M458 2355h6M438 2330h6M415 2271h6M478 2351h6M430 2361h6M427 2367h6M431 2298h6M466 2422h6M514 2370h6M451 2302h6M458 2324h6M518 2358h6M422 2350h6M484 2355h6M492 2319h6M455 2317h6M432 2323h6M481 2422h6M438 2355h6M502 2370h6M442 2321h6M496 2388h6M437 2333h6M452 2423h6M443 2250h6M397 2416h6M443 2445h6M466 2286h6M451 2339h6M517 2334h6M459 2269h6M462 2297h6M486 2350h6M466 2331h6M434 2332h6M504 2400h6M426 2388h6M449 2429h6M457 2293h6M493 2460h6M502 2328h6M443 2308h6M442 2363h6M519 2328h6M467 2379h6M503 2300h6M491 2240h6M418 2354h6M421 2314h6M438 2377h6M460 2303h6M399 2334h6M468 2289h6M469 2317h6M442 2369h6M386 2344h6M441 2319h6M429 2370h6M481 2394h6M421 2314h6M407 2315h6M489 2302h6M450 2229h6M473 2299h6M465 2342h6M442 2306h6M433 2326h6M453 2302h6M438 2329h6M440 2353h6M432 2388h6M492 2318h6M439 2361h6M481 2266h6M491 2319h6M503 2351h6M500 2299h6M443 2332h6M496 2270h6M447 2374h6M472 2346h6M469 2339h6M473 2403h6M422 2376h6M395 2302h6M490 2407h6M437 2317h6M440 2419h6M484 2340h6M448 2382h6M406 2399h6M487 2386h6M473 2360h6M448 2349h6M448 2294h6M390 2271h6M445 2401h6M429 2334h6M417 2300h6M443 2298h6M495 2301h6M495 2339h6M357 2300h6M492 2430h6M415 2366h6M447 2283h6M373 2296h6M495 2417h6M445 2376h6M473 2370h6M399 2321h6M521 2390h6M419 2328h6M532 2377h6M440 2298h6M511 2384h6M406 2459h6M476 2324h6M443 2299h6M388 2354h6M455 2306h6M473 2355h6M453 2413h6M460 2392h6M438 2368h6M467 2360h6M523 2338h6M498 2362h6M464 2344h6M451 2316h6M476 2374h6M502 2303h6M458 2357h6M467 2303h6M408 2363h6M436 2336h6M486 2350h6M487 2341h6M480 2402h6M481 2230h6M454 2390h6M470 2276h6M463 2299h6M421 2320h6M466 2416h6M400 2366h6M471 2286h6M401 2408h6M462 2387h6M409 2331h6M457 2328h6M493 2407h6M441 2316h6M361 2335h6M382 2331h6M430 2367h6M450 2329h6M386 2392h6M416 2278h6M469 2339h6M459 2355h6M407 2302h6M415 2254h6M425 2356h6M412 2355h6M437 2400h6M376 2309h6M402 2359h6M460 2351h6M477 2348h6M447 2369h6M392 2315h6M402 2390h6M498 2439h6M477 2460h6M425 2347h6M461 2392h6M447 2339h6M448 2289h6M468 2354h6M436 2387h6M471 2367h6M463 2326h6M479 2345h6M497 2317h6M479 2346h6M437 2318h6M501 2348h6M440 2391h6M456 2410h6M460 2302h6M448 2329h6M384 2503h6M472 2334h6M463 2368h6M453 2321h6M439 2328h6M413 2310h6M488 2415h6M478 2237h6M415 2366h6M429 2336h6M492 2414h6M473 2323h6M421 2400h6M429 2344h6M421 2426h6M478 2314h6M446 2395h6M464 2307h6M461 2383h6M443 2360h6M511 2397h6M386 2374h6M420 2391h6M435 2338h6M421 2286h6M450 2306h6M481 2376h6M521 2324h6M446 2337h6M434 2337h6M465 2361h6M467 2337h6M501 2366h6M392 2339h6M413 2362h6M465 2230h6M444 2339h6M399 2417h6M450 2399h6M453 2310h6M386 2357h6M410 2391h6M481 2294h6M496 2363h6M496 2409h6M429 2307h6M420 2403h6M448 2383h6M419 2346h6M459 2379h6M437 2392h6M483 2254h6M412 2351h6M433 2354h6M433 2338h6M413 2304h6M474 2370h6M512 2320h6M480 2372h6M482 2396h6M442 2323h6M493 2276h6M447 2354h6M460 2403h6M461 2321h6M502 2346h6M456 2417h6M438 2282h6M468 2362h6M433 2328h6M470 2337h6M459 2439h6M522 2372h6M424 2386h6M433 2353h6M495 2395h6M431 2341h6M414 2320h6M455 2383h6M444 2360h6M509 2333h6M408 2372h6M471 2368h6M537 2381h6M471 2308h6M415 2389h6M421 2335h6M501 2368h6M502 2340h6M383 2316h6M472 2371h6M394 2363h6M431 2305h6M434 2376h6M496 2374h6M458 2428h6M401 2397h6M514 2384h6M443 2294h6M475 2325h6M470 2388h6M551 2353h6M426 2350h6M464 2274h6M511 2315h6M501 2389h6M361 2363h6M470 2396h6M466 2339h6M472 2357h6M488 2339h6M444 2388h6M453 2324h6M491 2435h6M379 2407h6M420 2333h6M438 2349h6M386 2321h6M413 2371h6M461 2364h6M455 2335h6M472 2362h6M486 2368h6M458 2360h6M474 2328h6M379 2362h6M482 2460h6M415 2343h6M424 2357h6M439 2376h6M430 2365h6M466 2319h6M494 2333h6M404 2334h6M420 2325h6M451 2287h6M393 2368h6M457 2365h6M471 2372h6M419 2355h6M424 2346h6M482 2315h6M472 2270h6M428 2419h6M544 2294h6M461 2419h6M438 2394h6M436 2278h6M452 2248h6M482 2311h6M444 2379h6M431 2307h6M372 2378h6M404 2376h6M431 2379h6M369 2343h6M465 2368h6M539 2370h6M439 2363h6M437 2317h6M400 2363h6M413 2307h6M439 2405h6M476 2312h6M486 2347h6M456 2318h6M418 2332h6M436 2386h6M463 2326h6M382 2342h6M378 2330h6M475 2348h6M437 2323h6M428 2331h6M458 2374h6M500 2354h6M425 2353h6M540 2351h6M493 2322h6M463 2285h6M406 2333h6M450 2370h6M461 2390h6M428 2347h6M492 2317h6M400 2379h6M462 2454h6M451 2301h6M471 2413h6M458 2350h6M465 2345h6M517 2394h6M451 2426h6M440 2361h6M510 2415h6M442 2315h6M422 2325h6M555 2302h6M404 2364h6M462 2375h6M508 2287h6M438 2341h6M341 2342h6M426 2373h6M523 2358h6M467 2441h6M441 2337h6M439 2266h6M416 2364h6M491 2218h6M461 2362h6M513 2378h6M402 2366h6M485 2292h6M469 2419h6M438 2302h6M491 2358h6M491 2338h6M450 2339h6M432 2367h6M402 2365h6M418 2334h6M482 2428h6M440 2355h6M451 2396h6M477 2356h6M525 2387h6M400 2363h6M448 2294h6M394 2329h6M482 2408h6M466 2355h6M411 2269h6M507 2282h6M381 2361h6M432 2364h6M433 2402h6M486 2341h6M468 2386h6M471 2345h6M458 2394h6M396 2360h6M406 2382h6M478 2388h6M447 2382h6M543 2316h6M501 2283h6M468 2335h6M458 2321h6M470 2302h6M359 2411h6M398 2353h6M444 2345h6M462 2298h6M392 2422h6M534 2335h6M549 2344h6" stroke="#999" stroke-width="6" transform="scale(.1)"/>
<path d="M413 2317h6M461 2360h6M480 2316h6M438 2323h6M466 2337h6M451 2326h6M465 2320h6M430 2346h6M461 2334h6M440 2336h6M440 2323h6M442 2357h6M413 2301h6M465 2346h6M445 2319h6M422 2318h6M454 2318h6M460 2336h6M448 2345h6M456 2315h6M453 2314h6M481 2316h6M430 2333h6M475 2318h6M476 2342h6M464 2311h6M452 2320h6M438 2331h6M441 2340h6M476 2337h6M441 2322h6M468 2311h6M434 2331h6M447 2307h6M441 2303h6M451 2339h6M462 2359h6M464 2329h6M448 2362h6M460 2313h6M464 2338h6M433 2310h6M429 2312h6M448 2328h6M468 2315h6M486 2322h6M440 2323h6M441 2337h6M450 2329h6M434 2345h6M442 2323h6M454 2352h6M451 2350h6M439 2312h6M443 2344h6M424 2317h6M422 2335h6M436 2352h6M437 2336h6M439 2358h6M475 2380h6M438 2348h6M463 2324h6M448 2351h6M456 2320h6M447 2338h6M459 2323h6M456 2333h6M450 2314h6M425 2353h6M446 2371h6M472 2321h6M465 2333h6M470 2344h6M454 2320h6M427 2350h6M454 2327h6M448 2323h6M452 2335h6M455 2328h6" stroke="#777" stroke-width="6" transform="scale(.1)"/>
<path d="M444 2580h6M476 2545h6M442 2565h6M471 2543h6M450 2496h6M455 2501h6M444 2534h6M461 2542h6M472 2561h6M428 2506h6M433 2489h6M459 2529h6M480 2510h6M450 2538h6M464 2542h6M493 2561h6M432 2570h6M491 2528h6M463 2549h6M486 2525h6M482 2586h6M484 2535h6M431 2543h6M471 2493h6M480 2484h6M471 2539h6M440 2549h6M465 2517h6M501 2528h6M449 2514h6M467 2486h6M472 2513h6M463 2513h6M448 2537h6M473 2532h6M458 2530h6M444 2557h6M460 2541h6M436 2476h6M466 2560h6M458 2485h6M454 2507h6M498 2515h6M471 2493h6M437 2513h6M442 2486h6M467 2548h6M452 2545h6M456 2516h6M436 2504h6M459 2479h6M445 2529h6M485 2508h6M413 2532h6M472 2496h6M447 2545h6M466 2536h6M494 2539h6M484 2566h6M457 2552h6M481 2525h6M486 2558h6M466 2504h6M447 2523h6M446 2561h6M463 2589h6M465 2504h6M469 2504h6M467 2553h6M486 2565h6M457 2543h6M483 2546h6M471 2517h6M476 2483h6M476 2545h6M492 2506h6M457 2528h6M460 2580h6M469 2548h6M484 2549h6M473 2585h6M490 2556h6M475 2523h6M429 2567h6M467 2567h6M472 2557h6M453 2532h6M478 2512h6M469 2539h6M459 2543h6M455 2513h6M433 2530h6M459 2575h6M437 2568h6M428 2519h6M497 2519h6M475 2482h6M464 2501h6M450 2562h6M457 2544h6M442 2525h6M452 2566h6M490 2508h6M447 2557h6M467 2503h6M467 2511h6M455 2534h6M454 2551h6M452 2506h6M441 2549h6M467 2498h6M473 2534h6M474 2572h6M462 2561h6M484 2505h6M470 2503h6M449 2534h6M477 2559h6M459 2526h6M475 2569h6M460 2559h6M432 2503h6M468 2537h6M444 2538h6M472 2553h6M427 2537h6M468 2507h6M473 2547h6M472 2585h6M466 2494h6M476 2541h6M445 2512h6M436 2569h6M479 2533h6M431 2524h6M450 2530h6M473 2544h6M465 2525h6M463 2517h6M478 2536h6M505 2553h6M433 2582h6M441 2510h6M484 2524h6M467 2540h6M442 2515h6M451 2533h6M458 2575h6M455 2581h6M451 2560h6M494 2504h6" stroke="#aaa" stroke-width="6" transform="scale(.1)"/>
</g>
<rect x="28.4" y="217.3" width="43.199999999999996" height="43.599999999999966" fill="none" stroke="#858585" stroke-width="0.8"/>
<line x1="27.2" y1="217.3" x2="28.4" y2="217.3" stroke="#888" stroke-width="0.5"/>
<rect x="25.0" y="216.60000000000002" width="1.4" height="1.4" fill="#b0b0b0"/>
<line x1="27.2" y1="228.2" x2="28.4" y2="228.2" stroke="#888" stroke-width="0.5"/>
<rect x="25.0" y="227.5" width="1.4" height="1.4" fill="#b0b0b0"/>
<line x1="27.2" y1="239.1" x2="28.4" y2="239.1" stroke="#888" stroke-width="0.5"/>
<rect x="25.0" y="238.4" width="1.4" height="1.4" fill="#b0b0b0"/>
<line x1="27.2" y1="250.0" x2="28.4" y2="250.0" stroke="#888" stroke-width="0.5"/>
<rect x="25.0" y="249.3" width="1.4" height="1.4" fill="#b0b0b0"/>
<line x1="27.2" y1="260.9" x2="28.4" y2="260.9" stroke="#888" stroke-width="0.5"/>
<rect x="25.0" y="260.2" width="1.4" height="1.4" fill="#b0b0b0"/>
<line x1="28.4" y1="260.9" x2="28.4" y2="262.09999999999997" stroke="#888" stroke-width="0.5"/>
<rect x="27.7" y="262.7" width="1.4" height="1.4" fill="#b0b0b0"/>
<line x1="39.199999999999996" y1="260.9" x2="39.199999999999996" y2="262.09999999999997" stroke="#888" stroke-width="0.5"/>
<rect x="38.49999999999999" y="262.7" width="1.4" height="1.4" fill="#b0b0b0"/>
<line x1="50.0" y1="260.9" x2="50.0" y2="262.09999999999997" stroke="#888" stroke-width="0.5"/>
<rect x="49.3" y="262.7" width="1.4" height="1.4" fill="#b0b0b0"/>
<line x1="60.8" y1="260.9" x2="60.8" y2="262.09999999999997" stroke="#888" stroke-width="0.5"/>
<rect x="60.099999999999994" y="262.7" width="1.4" height="1.4" fill="#b0b0b0"/>
<line x1="71.6" y1="260.9" x2="71.6" y2="262.09999999999997" stroke="#888" stroke-width="0.5"/>
<rect x="70.89999999999999" y="262.7" width="1.4" height="1.4" fill="#b0b0b0"/>
<ellipse cx="46" cy="253.3" rx="4.8" ry="6.5" fill="none" stroke="#111" stroke-width="1.9"/>
<line x1="50.8" y1="253.5" x2="77.4" y2="253.5" stroke="#111" stroke-width="1.5"/>
<path d="M81.90,253.50 L76.90,256.40 L76.90,250.60Z" fill="#111"/>
<clipPath id="cp32"><rect x="28.7" y="299.8" width="42.900000000000006" height="42.799999999999976"/></clipPath>
<g clip-path="url(#cp32)">
<ellipse cx="33.5" cy="315.7" rx="5.0" ry="6.3" fill="#000" opacity="1" filter="url(#b7)"/>
<ellipse cx="33.5" cy="335.5" rx="3.7" ry="4.5" fill="#111" opacity="0.8" filter="url(#b10)"/>
<path d="M351 3180h6M297 3162h6M365 3116h6M335 3156h6M385 3153h6M357 3151h6M350 3156h6M341 3163h6M321 3226h6M325 3105h6M315 3146h6M291 3198h6M343 3163h6M326 3195h6M382 3149h6M289 3156h6M301 3155h6M336 3128h6M296 3119h6M348 3161h6M293 3116h6M383 3145h6M327 3180h6M326 3101h6M310 3133h6M342 3149h6M383 3152h6M342 3123h6M386 3144h6M297 3177h6M336 3206h6M371 3126h6M322 3135h6M331 3171h6M355 3160h6M323 3156h6M324 3162h6M339 3161h6M307 3183h6M353 3183h6M363 3187h6M314 3214h6M351 3199h6M362 3185h6M329 3238h6M332 3157h6M353 3124h6M346 3109h6M355 3153h6M335 3155h6M303 3190h6M363 3140h6M298 3115h6M301 3126h6M318 3151h6M346 3125h6M314 3099h6M308 3137h6M356 3202h6M354 3118h6M358 3168h6M337 3177h6M351 3152h6M295 3141h6M339 3133h6M357 3134h6M320 3126h6M349 3176h6M347 3202h6M332 3128h6M290 3152h6M358 3165h6M311 3181h6M368 3145h6M392 3133h6M376 3140h6M292 3167h6M342 3172h6M341 3173h6M342 3169h6M380 3161h6M359 3173h6M340 3181h6M343 3155h6M372 3142h6M336 3202h6M348 3202h6M333 3156h6M295 3114h6M374 3205h6M370 3182h6M368 3188h6M291 3164h6M370 3159h6M298 3130h6M294 3135h6M337 3131h6M322 3195h6M322 3202h6M376 3173h6M290 3139h6M317 3147h6M319 3164h6M306 3102h6M329 3090h6M354 3189h6M324 3117h6M339 3145h6M372 3116h6M307 3185h6M327 3201h6M362 3127h6M349 3123h6M330 3176h6M295 3209h6M356 3214h6M353 3122h6M368 3139h6M340 3092h6M303 3183h6M325 3178h6M311 3135h6M345 3148h6M338 3184h6M360 3170h6M378 3131h6M302 3123h6M342 3082h6M379 3148h6M366 3153h6M348 3212h6M313 3105h6M331 3158h6M327 3158h6M342 3133h6M318 3161h6M310 3139h6M381 3144h6M347 3138h6M309 3125h6M330 3144h6M337 3214h6M326 3177h6M365 3123h6M341 3137h6M349 3201h6M368 3139h6M315 3206h6M301 3114h6M341 3170h6M362 3095h6M328 3173h6M349 3149h6M311 3128h6M366 3111h6M372 3176h6M329 3212h6M375 3175h6M336 3206h6M331 3181h6M350 3093h6M335 3140h6M316 3161h6M325 3145h6M303 3189h6M287 3151h6M324 3222h6M310 3111h6M297 3182h6M321 3154h6M324 3143h6M347 3104h6M297 3195h6M320 3187h6M338 3153h6M366 3157h6M351 3212h6M311 3109h6M318 3179h6M346 3126h6M351 3114h6M304 3185h6M328 3094h6M341 3196h6M348 3132h6M339 3122h6M294 3119h6M314 3180h6M311 3153h6M299 3166h6M327 3159h6M329 3171h6M337 3155h6M336 3182h6M379 3143h6M324 3221h6M305 3177h6M307 3154h6M296 3207h6M304 3196h6M327 3108h6M356 3225h6M347 3098h6M344 3184h6M382 3141h6M372 3148h6M326 3148h6M377 3119h6M352 3162h6M337 3158h6M380 3135h6M337 3201h6M321 3198h6M327 3140h6M332 3156h6M343 3126h6M303 3158h6M319 3200h6M353 3138h6M332 3227h6M351 3176h6M320 3183h6M325 3168h6M324 3174h6M315 3170h6M383 3149h6M373 3204h6M334 3131h6M321 3202h6M329 3135h6M385 3168h6M360 3167h6M335 3094h6M324 3102h6M314 3144h6M337 3094h6M338 3190h6M365 3192h6M305 3148h6M349 3127h6M348 3151h6M344 3105h6M371 3185h6M359 3116h6M318 3150h6M374 3125h6M354 3126h6M355 3112h6M303 3184h6M332 3208h6M325 3164h6M362 3108h6M309 3148h6M381 3195h6M320 3209h6M356 3136h6M316 3170h6M378 3148h6M303 3122h6M320 3148h6M314 3139h6M326 3152h6M342 3181h6M333 3155h6M317 3161h6M386 3195h6M311 3110h6M322 3095h6M347 3153h6M329 3143h6M339 3183h6M384 3150h6M346 3150h6M313 3116h6M353 3132h6M287 3138h6M316 3128h6M358 3136h6M341 3119h6M291 3164h6M295 3186h6M341 3155h6M312 3121h6M328 3124h6M338 3217h6M315 3185h6M334 3180h6M348 3121h6M329 3214h6M374 3201h6M367 3165h6M343 3163h6M335 3227h6M329 3133h6M372 3116h6M348 3203h6" stroke="#111" stroke-width="6" transform="scale(.1)"/>
<path d="M331 3247h6M312 3235h6M358 3224h6M345 3287h6M323 3266h6M339 3244h6M326 3288h6M355 3294h6M323 3275h6M325 3250h6M364 3254h6M343 3263h6M344 3226h6M364 3260h6M303 3268h6M320 3260h6M352 3240h6M348 3262h6M362 3229h6M349 3233h6M301 3279h6M321 3301h6M322 3251h6M322 3286h6M342 3288h6M324 3268h6M338 3211h6M340 3233h6M310 3270h6M331 3216h6M332 3238h6M365 3273h6M316 3307h6M322 3239h6M328 3285h6M350 3246h6M353 3234h6M321 3232h6M360 3295h6M372 3265h6M329 3289h6M335 3249h6M354 3281h6M292 3242h6M311 3240h6M327 3271h6M294 3221h6M313 3259h6M360 3243h6M341 3229h6M327 3317h6M307 3260h6M322 3272h6M331 3229h6M353 3242h6M324 3278h6M297 3222h6M337 3266h6M324 3272h6M324 3267h6M340 3254h6M353 3238h6M358 3248h6M337 3264h6M356 3250h6M353 3244h6M292 3273h6M336 3235h6M298 3276h6M319 3243h6M313 3269h6M335 3272h6M364 3239h6M337 3269h6M307 3251h6M315 3266h6M366 3271h6M348 3272h6M318 3273h6M333 3262h6M359 3247h6M348 3222h6M341 3251h6M327 3244h6M331 3261h6M332 3291h6M388 3261h6M321 3253h6M363 3245h6M313 3251h6M321 3246h6M339 3247h6M299 3247h6M338 3267h6M321 3249h6M312 3235h6M333 3220h6M353 3273h6M331 3259h6M344 3259h6M312 3259h6M358 3235h6M302 3273h6M349 3244h6M336 3271h6M332 3254h6M322 3273h6M318 3257h6M326 3287h6M297 3256h6M311 3256h6M325 3277h6M336 3254h6M327 3236h6M322 3259h6M331 3239h6M327 3246h6M334 3254h6M328 3269h6M347 3241h6M360 3256h6M351 3256h6M340 3245h6M323 3232h6M316 3226h6M346 3270h6M328 3273h6M329 3312h6M351 3260h6M386 3251h6M305 3245h6M347 3232h6M325 3248h6M293 3267h6M324 3273h6M334 3218h6M316 3260h6M327 3286h6M329 3269h6M308 3242h6M373 3211h6M332 3252h6M308 3253h6M318 3239h6M332 3288h6M297 3259h6M322 3299h6" stroke="#777" stroke-width="6" transform="scale(.1)"/>
<path d="M351 3326h6M377 3332h6M315 3391h6M359 3349h6M330 3366h6M336 3316h6M357 3379h6M344 3383h6M322 3388h6M385 3361h6M324 3370h6M323 3365h6M342 3375h6M353 3353h6M349 3383h6M346 3368h6M312 3351h6M295 3385h6M358 3317h6M337 3342h6M364 3394h6M331 3361h6M356 3320h6M337 3330h6M354 3330h6M297 3350h6M330 3403h6M343 3312h6M344 3358h6M299 3342h6M332 3307h6M371 3368h6M342 3363h6M333 3355h6M355 3366h6M369 3371h6M301 3368h6M321 3346h6M332 3398h6M359 3312h6M338 3336h6M352 3354h6M318 3346h6M372 3356h6M321 3371h6M321 3352h6M328 3319h6M333 3309h6M338 3365h6M298 3330h6M331 3304h6M327 3375h6M349 3375h6M311 3333h6M301 3396h6M332 3348h6M333 3353h6M350 3366h6M365 3335h6M340 3363h6M318 3365h6M315 3376h6M327 3344h6M301 3316h6M365 3382h6M316 3308h6M363 3385h6M335 3315h6M336 3337h6M327 3337h6M330 3303h6M300 3359h6M288 3328h6M306 3352h6M365 3376h6M326 3313h6M343 3354h6M336 3334h6M307 3345h6M297 3380h6M337 3372h6M302 3346h6M306 3378h6M319 3339h6M345 3302h6M307 3328h6M321 3368h6M362 3390h6M353 3295h6M322 3354h6M353 3412h6M332 3370h6M344 3391h6M356 3314h6M348 3384h6M317 3377h6M328 3316h6M350 3389h6M332 3355h6M380 3353h6M336 3351h6M367 3320h6M349 3377h6M329 3354h6M347 3379h6M373 3353h6M301 3343h6M344 3345h6M373 3384h6M356 3310h6M307 3378h6M301 3350h6M330 3393h6M345 3371h6M350 3391h6M318 3306h6M292 3339h6M355 3385h6M347 3325h6M320 3412h6M309 3362h6M329 3366h6M308 3407h6M317 3406h6M331 3309h6M339 3379h6M321 3396h6M340 3318h6M323 3342h6M339 3344h6M312 3309h6M328 3315h6M296 3311h6M297 3394h6M358 3394h6M336 3380h6M321 3350h6M315 3366h6M314 3398h6M305 3375h6M301 3347h6M337 3357h6M360 3375h6M319 3413h6M305 3356h6M380 3375h6M352 3352h6M375 3360h6M300 3361h6M349 3297h6M335 3322h6M317 3393h6M355 3376h6M342 3317h6M325 3327h6M326 3374h6M321 3339h6M355 3397h6M323 3380h6M343 3400h6M288 3331h6M312 3353h6M310 3345h6M325 3340h6M345 3396h6M346 3355h6M342 3398h6M316 3358h6M342 3348h6M306 3381h6M342 3349h6M331 3346h6M327 3349h6M370 3365h6M305 3403h6M326 3417h6M336 3325h6M343 3412h6M299 3390h6M350 3392h6M365 3375h6M364 3344h6M312 3371h6M325 3306h6M327 3348h6M316 3380h6M331 3330h6M360 3378h6M364 3391h6M316 3342h6M322 3394h6M331 3325h6M335 3398h6M311 3351h6M287 3354h6M302 3330h6M291 3356h6M361 3356h6M349 3309h6M352 3391h6M362 3353h6M299 3342h6M319 3410h6M321 3402h6M375 3355h6M309 3338h6M342 3313h6M347 3356h6M317 3378h6M351 3342h6M327 3410h6M304 3380h6M319 3353h6M298 3360h6M294 3382h6M302 3380h6M314 3340h6M292 3376h6M306 3393h6M375 3343h6M299 3364h6M341 3393h6M352 3338h6M295 3348h6M304 3356h6M319 3379h6M302 3327h6M336 3387h6M350 3366h6M333 3323h6M315 3295h6M346 3374h6M328 3335h6M306 3321h6M303 3352h6M300 3383h6M309 3320h6M341 3347h6M353 3360h6M354 3390h6M360 3369h6M323 3357h6M328 3321h6M345 3332h6M358 3403h6M336 3375h6M329 3360h6M316 3393h6M301 3381h6M355 3325h6M361 3394h6M348 3386h6M333 3413h6M337 3327h6M351 3329h6M302 3376h6M358 3344h6M295 3356h6M312 3324h6M348 3349h6M330 3329h6M372 3356h6M353 3374h6M350 3302h6M319 3346h6M324 3312h6M300 3395h6M375 3385h6M341 3306h6M309 3354h6M326 3360h6M332 3369h6M326 3400h6M374 3384h6M311 3367h6M327 3347h6M330 3357h6M370 3343h6M349 3330h6M314 3366h6M308 3325h6M325 3387h6M373 3357h6M345 3343h6M308 3347h6M317 3357h6M328 3375h6M349 3361h6M337 3352h6M358 3389h6M355 3359h6M340 3397h6M335 3355h6M303 3333h6M304 3343h6M353 3389h6M324 3396h6M332 3412h6M317 3404h6M336 3336h6M335 3321h6M341 3329h6M373 3369h6M321 3408h6M356 3315h6M328 3356h6M293 3381h6M334 3363h6M322 3367h6M309 3368h6M345 3412h6M304 3386h6M293 3351h6M321 3380h6M338 3341h6M345 3347h6M329 3353h6M330 3320h6M298 3327h6M323 3371h6M318 3404h6M365 3345h6M320 3320h6M341 3333h6M306 3362h6M354 3357h6M290 3334h6M378 3336h6M302 3339h6M335 3328h6M365 3307h6M339 3374h6M343 3311h6M326 3376h6M312 3382h6M354 3327h6M307 3378h6M350 3351h6M319 3329h6M366 3391h6M340 3359h6M302 3389h6M377 3339h6M365 3329h6M315 3310h6M389 3363h6M310 3398h6M314 3346h6M304 3365h6M295 3383h6M346 3317h6M336 3354h6M347 3306h6M328 3400h6M296 3373h6M309 3356h6M300 3346h6M358 3351h6M330 3330h6M298 3382h6M334 3332h6M331 3384h6M326 3387h6M327 3321h6M341 3363h6M301 3318h6M294 3384h6M346 3376h6M340 3304h6M326 3367h6M356 3394h6M348 3298h6M327 3339h6M380 3330h6M348 3313h6M302 3396h6M347 3342h6M312 3389h6M353 3355h6M334 3370h6M304 3318h6M300 3357h6M301 3376h6M335 3299h6M305 3384h6M329 3359h6M348 3394h6M299 3408h6M320 3302h6M307 3405h6M326 3326h6M372 3346h6M310 3399h6M356 3344h6M321 3314h6M314 3321h6M349 3365h6M345 3406h6M339 3380h6M332 3353h6M364 3341h6M348 3322h6M312 3335h6M372 3339h6M324 3300h6M314 3324h6M345 3346h6M329 3310h6M320 3374h6M365 3328h6M347 3312h6M345 3348h6M354 3357h6M391 3352h6" stroke="#222" stroke-width="6" transform="scale(.1)"/>
<path d="M447 3176h6M467 3239h6M503 3092h6M508 3120h6M420 3159h6M497 3157h6M519 3150h6M455 3183h6M499 3196h6M440 3188h6M468 3140h6M481 3168h6M491 3282h6M479 3093h6M459 3290h6M449 3267h6M454 3156h6M527 3229h6M426 3158h6M517 3075h6M433 3142h6M465 3204h6M528 3135h6M488 3197h6M416 3203h6M495 3192h6M472 3172h6M510 3231h6M500 3179h6M507 3145h6M478 3180h6M499 3202h6M466 3235h6M500 3215h6M432 3120h6M455 3168h6M410 3217h6M487 3081h6M473 3159h6M514 3156h6M513 3198h6M429 3211h6M492 3129h6M466 3180h6M415 3294h6M401 3158h6M485 3071h6M498 3155h6M473 3141h6M452 3167h6M458 3157h6M480 3229h6M471 3267h6M491 3164h6M457 3167h6M442 3194h6M488 3070h6M465 3242h6M506 3153h6M508 3104h6M430 3089h6M468 3101h6M504 3120h6M441 3136h6M407 3237h6M531 3168h6M477 3226h6M478 3248h6M549 3204h6M432 3197h6M498 3157h6M507 3206h6M459 3188h6M446 3084h6M494 3168h6M433 3239h6M466 3131h6M516 3130h6M514 3124h6M497 3147h6M540 3134h6M416 3174h6M501 3130h6M475 3106h6M483 3152h6M443 3203h6M538 3145h6M492 3170h6M417 3147h6M476 3163h6M411 3238h6M442 3169h6M450 3162h6M480 3196h6M465 3275h6M474 3103h6M476 3081h6M446 3127h6M446 3146h6M441 3173h6M492 3196h6M498 3163h6M488 3126h6M485 3191h6M471 3121h6M470 3159h6M462 3230h6M467 3105h6M456 3177h6M480 3137h6M493 3121h6M442 3041h6M406 3115h6M452 3164h6M456 3221h6M477 3157h6M419 3172h6M439 3160h6M542 3174h6M458 3200h6M451 3209h6M435 3160h6M468 3141h6M491 3124h6M494 3223h6M497 3122h6M464 3243h6M481 3086h6M454 3137h6M401 3162h6M456 3162h6M446 3190h6M444 3156h6M467 3123h6M461 3166h6M465 3189h6M514 3152h6M447 3206h6M481 3210h6M431 3165h6M450 3057h6M500 3159h6M520 3216h6M500 3241h6M458 3184h6M468 3140h6M458 3146h6M450 3179h6M468 3197h6M479 3165h6M494 3020h6M459 3196h6M427 3162h6M493 3118h6M475 3173h6M483 3256h6M491 3201h6M499 3151h6M486 3244h6M478 3162h6M527 3231h6M448 3126h6M438 3137h6M462 3187h6M499 3237h6M512 3130h6M447 3167h6M419 3180h6M501 3293h6M494 3177h6M433 3167h6M483 3114h6M451 3182h6M472 3176h6M494 3068h6M494 3225h6M465 3239h6M437 3243h6M444 3120h6M500 3253h6M470 3174h6M516 3108h6M464 3132h6M453 3184h6M498 3165h6M458 3196h6M459 3183h6M484 3089h6M465 3115h6M490 3188h6M442 3228h6M456 3182h6M485 3096h6M443 3079h6M471 3147h6M497 3107h6M450 3150h6M480 3148h6M487 3123h6M464 3130h6M507 3113h6M504 3101h6M469 3158h6M501 3115h6M519 3307h6M464 3161h6M493 3142h6M496 3119h6M478 3196h6M440 3145h6M513 3187h6M458 3145h6M415 3211h6M469 3159h6M427 3153h6M415 3185h6M438 3111h6M492 3224h6M517 3151h6M436 3108h6M480 3137h6M469 3203h6M486 3170h6M513 3177h6M502 3130h6M528 3199h6M468 3146h6M432 3129h6M443 3141h6M490 3277h6M469 3121h6M454 3132h6M463 3233h6M492 3111h6M453 3121h6M489 3123h6M453 3183h6M467 3207h6M453 3156h6M446 3083h6M470 3140h6M464 3210h6M494 3208h6M479 3138h6M409 3164h6M516 3116h6M523 3171h6M538 3154h6M512 3191h6M400 3169h6M365 3245h6M483 3166h6M512 3198h6M446 3139h6M494 3109h6M454 3242h6M492 3104h6M466 3194h6M439 3105h6M430 3208h6M469 3075h6M458 3146h6M471 3140h6M478 3193h6M492 3218h6M435 3149h6M468 3203h6M480 3179h6M480 3202h6M466 3199h6M501 3058h6M489 3127h6M461 3108h6M444 3136h6M449 3153h6M444 3108h6M459 3178h6M517 3124h6M377 3185h6M529 3155h6M501 3243h6M433 3235h6M471 3161h6M417 3200h6M489 3104h6M500 3151h6M438 3182h6M525 3214h6M542 3085h6M472 3135h6M509 3153h6M467 3176h6M442 3106h6M413 3149h6M427 3197h6M511 3156h6M465 3158h6M444 3186h6M486 3113h6M443 3179h6M460 3167h6M521 3194h6M490 3192h6M489 3129h6M465 3268h6M450 3167h6M480 3193h6M497 3186h6M462 3202h6M443 3186h6M500 3187h6M423 3117h6M453 3094h6M422 3190h6M447 3170h6M448 3224h6M500 3184h6M474 3133h6M499 3121h6M456 3203h6M506 3116h6M483 3149h6M497 3219h6M489 3197h6M460 3162h6M438 3121h6M438 3130h6M487 3113h6M452 3163h6M505 3075h6M482 3148h6M487 3211h6M484 3221h6M450 3155h6M450 3201h6M480 3160h6M503 3215h6M504 3171h6M478 3141h6M466 3179h6M513 3170h6M494 3111h6M399 3135h6M464 3155h6M449 3122h6M439 3110h6M466 3272h6M442 3222h6M413 3164h6M456 3179h6M490 3198h6M493 3126h6M425 3258h6M477 3179h6M500 3191h6M469 3186h6M495 3156h6M502 3161h6M452 3240h6M454 3211h6M420 3185h6M464 3168h6M486 3157h6M428 3145h6M462 3205h6M463 3220h6M442 3152h6M404 3098h6M478 3152h6M498 3153h6M536 3211h6M437 3182h6M544 3235h6M500 3161h6M453 3133h6M487 3177h6M512 3142h6M462 3183h6M498 3146h6M453 3072h6M479 3209h6M466 3154h6M475 3229h6M466 3177h6M394 3144h6M460 3229h6M491 3158h6M450 3078h6M477 3086h6M464 3213h6M502 3132h6M474 3214h6M450 3064h6M468 3175h6M470 3130h6M507 3138h6M511 3178h6M484 3162h6M506 3188h6M517 3250h6M427 3155h6M453 3205h6M469 3245h6M514 3169h6M441 3209h6M442 3213h6M449 3082h6M450 3275h6M452 3224h6M434 3166h6M447 3219h6M522 3184h6M477 3181h6M445 3177h6M442 3190h6M420 3225h6M472 3048h6M512 3118h6M495 3082h6M495 3151h6M472 3152h6M462 3164h6M454 3116h6M432 3206h6M494 3257h6M418 3130h6M465 3259h6M381 3183h6M441 3239h6M455 3147h6M456 3201h6M453 3180h6M425 3214h6M449 3168h6M459 3206h6M482 3078h6M468 3158h6M477 3145h6M487 3188h6M549 3190h6M461 3121h6M507 3166h6M432 3150h6M484 3173h6M442 3101h6M470 3137h6M431 3182h6M384 3128h6M485 3203h6M500 3164h6" stroke="#999" stroke-width="6" transform="scale(.1)"/>
<path d="M477 3165h6M448 3176h6M457 3145h6M472 3143h6M458 3180h6M491 3183h6M488 3161h6M452 3172h6M477 3156h6M474 3153h6M453 3140h6M505 3176h6M495 3147h6M486 3140h6M479 3150h6M474 3135h6M478 3155h6M471 3164h6M461 3150h6M471 3180h6M482 3161h6M471 3146h6M485 3172h6M486 3181h6M460 3169h6M458 3153h6M462 3175h6M469 3156h6M461 3150h6M484 3156h6M445 3167h6M465 3138h6M453 3188h6M473 3164h6M466 3165h6M443 3159h6M450 3188h6M483 3177h6M445 3152h6M446 3171h6M461 3156h6M497 3150h6M464 3171h6M453 3174h6M472 3145h6M468 3170h6M471 3153h6M510 3176h6M466 3170h6M473 3132h6M491 3165h6M447 3138h6M497 3125h6M455 3169h6M479 3111h6M483 3139h6M457 3142h6M476 3191h6M462 3206h6M477 3168h6M458 3157h6M477 3135h6M457 3141h6M458 3164h6M470 3153h6M468 3185h6M473 3189h6M463 3129h6M457 3202h6M492 3147h6M464 3172h6M443 3161h6M482 3133h6M477 3186h6M465 3187h6M473 3146h6M487 3148h6M507 3135h6M472 3153h6M465 3113h6" stroke="#777" stroke-width="6" transform="scale(.1)"/>
<path d="M449 3369h6M453 3406h6M506 3339h6M465 3405h6M481 3387h6M441 3379h6M472 3298h6M488 3302h6M449 3329h6M473 3314h6M473 3326h6M480 3402h6M440 3342h6M477 3312h6M446 3301h6M472 3362h6M463 3380h6M472 3360h6M426 3360h6M472 3322h6M487 3326h6M461 3349h6M459 3379h6M485 3367h6M460 3347h6M463 3403h6M443 3378h6M475 3370h6M476 3306h6M490 3379h6M472 3305h6M467 3302h6M446 3380h6M465 3390h6M468 3297h6M465 3310h6M436 3392h6M493 3370h6M470 3319h6M465 3321h6M480 3348h6M459 3399h6M483 3313h6M490 3336h6M438 3352h6M472 3342h6M466 3396h6M452 3402h6M453 3355h6M462 3342h6M464 3326h6M464 3370h6M435 3359h6M462 3298h6M436 3365h6M463 3352h6M438 3369h6M477 3361h6M500 3343h6M461 3374h6M492 3330h6M437 3365h6M473 3348h6M473 3366h6M473 3346h6M469 3359h6M500 3350h6M438 3391h6M472 3350h6M435 3320h6M502 3330h6M456 3307h6M480 3380h6M501 3370h6M474 3318h6M444 3376h6M469 3343h6M465 3381h6M455 3332h6M483 3356h6M444 3341h6M492 3397h6M471 3356h6M480 3302h6M491 3375h6M473 3362h6M474 3338h6M437 3336h6M494 3340h6M469 3353h6M477 3396h6M452 3373h6M472 3336h6M470 3346h6M472 3323h6M481 3369h6M486 3337h6M460 3354h6M466 3340h6M491 3367h6M449 3357h6M462 3336h6M452 3337h6M494 3351h6M472 3329h6M486 3373h6M455 3344h6M460 3366h6M467 3349h6M448 3348h6M471 3357h6M484 3333h6M446 3325h6M508 3346h6M491 3323h6M456 3335h6M451 3347h6M461 3318h6M443 3340h6M459 3361h6M446 3333h6M463 3386h6M477 3381h6M459 3358h6M474 3392h6M444 3321h6M471 3361h6M459 3331h6M491 3386h6M478 3378h6M460 3391h6M444 3352h6M455 3373h6M470 3376h6M489 3334h6M460 3377h6" stroke="#aaa" stroke-width="6" transform="scale(.1)"/>
</g>
<rect x="28.4" y="299.5" width="43.50000000000001" height="43.39999999999998" fill="none" stroke="#858585" stroke-width="0.8"/>
<line x1="27.2" y1="299.5" x2="28.4" y2="299.5" stroke="#888" stroke-width="0.5"/>
<rect x="25.0" y="298.8" width="1.4" height="1.4" fill="#b0b0b0"/>
<line x1="27.2" y1="310.35" x2="28.4" y2="310.35" stroke="#888" stroke-width="0.5"/>
<rect x="25.0" y="309.65000000000003" width="1.4" height="1.4" fill="#b0b0b0"/>
<line x1="27.2" y1="321.2" x2="28.4" y2="321.2" stroke="#888" stroke-width="0.5"/>
<rect x="25.0" y="320.5" width="1.4" height="1.4" fill="#b0b0b0"/>
<line x1="27.2" y1="332.04999999999995" x2="28.4" y2="332.04999999999995" stroke="#888" stroke-width="0.5"/>
<rect x="25.0" y="331.34999999999997" width="1.4" height="1.4" fill="#b0b0b0"/>
<line x1="27.2" y1="342.9" x2="28.4" y2="342.9" stroke="#888" stroke-width="0.5"/>
<rect x="25.0" y="342.2" width="1.4" height="1.4" fill="#b0b0b0"/>
<line x1="28.4" y1="342.9" x2="28.4" y2="344.09999999999997" stroke="#888" stroke-width="0.5"/>
<rect x="27.7" y="344.7" width="1.4" height="1.4" fill="#b0b0b0"/>
<line x1="39.275" y1="342.9" x2="39.275" y2="344.09999999999997" stroke="#888" stroke-width="0.5"/>
<rect x="38.574999999999996" y="344.7" width="1.4" height="1.4" fill="#b0b0b0"/>
<line x1="50.150000000000006" y1="342.9" x2="50.150000000000006" y2="344.09999999999997" stroke="#888" stroke-width="0.5"/>
<rect x="49.45" y="344.7" width="1.4" height="1.4" fill="#b0b0b0"/>
<line x1="61.025000000000006" y1="342.9" x2="61.025000000000006" y2="344.09999999999997" stroke="#888" stroke-width="0.5"/>
<rect x="60.325" y="344.7" width="1.4" height="1.4" fill="#b0b0b0"/>
<line x1="71.9" y1="342.9" x2="71.9" y2="344.09999999999997" stroke="#888" stroke-width="0.5"/>
<rect x="71.2" y="344.7" width="1.4" height="1.4" fill="#b0b0b0"/>
<ellipse cx="46.8" cy="335.4" rx="4.4" ry="6.1" fill="none" stroke="#111" stroke-width="1.9"/>
<line x1="51.3" y1="335.8" x2="77.4" y2="335.8" stroke="#111" stroke-width="1.5"/>
<path d="M81.90,335.80 L76.90,338.70 L76.90,332.90Z" fill="#111"/>
<clipPath id="cp33"><rect x="216.60000000000002" y="217.5" width="43.499999999999964" height="42.80000000000003"/></clipPath>
<g clip-path="url(#cp33)">
<rect x="213.5" y="227.3" width="12.7" height="36" rx="4.5" fill="#000" filter="url(#b8)"/>
<path d="M2180 2372h6M2190 2300h6M2177 2326h6M2190 2410h6M2206 2517h6M2170 2348h6M2253 2376h6M2269 2495h6M2259 2348h6M2226 2516h6M2207 2531h6M2268 2457h6M2235 2478h6M2244 2466h6M2191 2342h6M2169 2399h6M2185 2441h6M2215 2419h6M2195 2575h6M2177 2437h6M2174 2349h6M2202 2418h6M2202 2441h6M2214 2485h6M2190 2366h6M2257 2404h6M2264 2353h6M2219 2486h6M2202 2415h6M2267 2496h6M2277 2429h6M2173 2513h6M2226 2427h6M2213 2491h6M2224 2274h6M2232 2418h6M2199 2374h6M2193 2532h6M2240 2469h6M2204 2454h6M2175 2467h6M2242 2480h6M2206 2577h6M2196 2485h6M2243 2448h6M2249 2533h6M2197 2566h6M2230 2313h6M2225 2401h6M2224 2588h6M2215 2568h6M2232 2565h6M2194 2474h6M2234 2495h6M2193 2514h6M2223 2391h6M2259 2339h6M2263 2307h6M2191 2499h6M2176 2444h6M2178 2413h6M2216 2523h6M2212 2572h6M2214 2371h6M2228 2551h6M2212 2476h6M2195 2400h6M2177 2335h6M2209 2509h6M2224 2416h6M2197 2474h6M2186 2430h6M2213 2436h6M2207 2361h6M2196 2485h6M2218 2388h6M2196 2501h6M2191 2384h6M2172 2416h6M2254 2376h6M2201 2378h6M2231 2558h6M2197 2390h6M2247 2408h6M2236 2407h6M2182 2374h6M2179 2395h6M2181 2328h6M2179 2318h6M2234 2329h6M2257 2328h6M2211 2558h6M2233 2572h6M2218 2468h6M2222 2583h6M2196 2509h6M2225 2520h6M2216 2596h6M2230 2287h6M2200 2404h6M2219 2527h6M2241 2495h6M2259 2370h6M2250 2528h6M2176 2522h6M2179 2512h6M2247 2414h6M2267 2357h6M2190 2527h6M2205 2492h6M2218 2451h6M2229 2571h6M2230 2543h6M2197 2304h6M2228 2486h6M2186 2296h6M2242 2524h6M2209 2437h6M2258 2328h6M2216 2339h6M2262 2439h6M2223 2373h6M2245 2511h6M2224 2307h6M2233 2377h6M2211 2428h6M2206 2392h6M2211 2374h6M2208 2388h6M2263 2334h6M2252 2493h6M2185 2464h6M2183 2433h6M2172 2450h6M2178 2547h6M2187 2395h6M2246 2375h6M2206 2497h6M2233 2403h6M2253 2307h6M2209 2346h6M2195 2497h6M2232 2557h6M2277 2431h6M2232 2336h6M2184 2318h6M2275 2475h6M2225 2275h6M2170 2349h6M2252 2403h6M2171 2350h6M2207 2533h6M2220 2565h6M2236 2319h6M2232 2570h6M2190 2520h6M2200 2510h6M2215 2395h6M2225 2365h6M2261 2393h6M2255 2374h6M2228 2567h6M2185 2452h6M2240 2399h6M2189 2275h6M2273 2522h6M2238 2293h6M2251 2421h6M2228 2538h6M2248 2306h6M2208 2257h6M2262 2393h6M2221 2349h6M2217 2463h6M2218 2441h6M2195 2554h6M2186 2388h6M2220 2316h6M2261 2487h6M2224 2560h6M2183 2516h6M2228 2471h6M2197 2357h6M2195 2371h6M2249 2518h6M2194 2433h6M2212 2438h6M2214 2594h6M2221 2382h6M2232 2401h6M2197 2314h6M2252 2464h6M2247 2415h6M2238 2299h6M2210 2356h6M2194 2514h6M2178 2432h6M2187 2296h6M2239 2329h6M2230 2505h6M2247 2563h6M2198 2520h6M2224 2469h6M2199 2514h6M2184 2394h6M2209 2425h6M2272 2481h6M2168 2423h6M2184 2429h6M2198 2386h6M2211 2319h6M2190 2392h6M2218 2377h6M2227 2353h6M2172 2438h6M2267 2425h6M2249 2583h6M2220 2510h6M2196 2519h6M2186 2336h6M2231 2446h6M2267 2379h6M2229 2471h6M2275 2386h6M2192 2562h6M2255 2333h6M2216 2377h6M2208 2509h6M2230 2543h6M2223 2349h6M2196 2294h6M2216 2421h6M2201 2303h6M2232 2529h6M2221 2420h6M2200 2388h6M2284 2464h6M2199 2309h6M2169 2443h6M2170 2316h6M2208 2329h6M2219 2417h6M2173 2471h6M2193 2497h6M2185 2428h6M2254 2548h6M2239 2416h6M2259 2490h6M2240 2439h6M2207 2296h6M2168 2393h6M2247 2485h6M2198 2592h6M2227 2500h6M2170 2522h6M2263 2403h6M2172 2467h6M2190 2572h6M2171 2480h6M2188 2342h6M2244 2496h6M2261 2452h6M2249 2413h6M2260 2459h6M2171 2438h6M2250 2307h6M2167 2364h6M2169 2433h6M2182 2347h6M2241 2305h6M2187 2493h6M2264 2381h6M2201 2371h6M2169 2479h6M2224 2535h6M2168 2363h6M2196 2495h6M2201 2378h6M2245 2439h6M2213 2418h6M2261 2450h6M2237 2509h6M2186 2415h6M2241 2543h6M2248 2361h6M2226 2522h6M2180 2451h6M2186 2437h6M2209 2380h6M2193 2368h6M2222 2432h6M2218 2451h6M2202 2385h6M2251 2509h6M2221 2558h6M2257 2569h6M2204 2471h6M2198 2441h6M2184 2582h6M2234 2338h6M2166 2410h6M2259 2361h6M2189 2521h6M2181 2346h6M2195 2358h6M2188 2286h6M2242 2463h6M2217 2363h6M2228 2469h6M2213 2352h6M2217 2588h6M2215 2431h6M2222 2324h6M2212 2503h6M2218 2462h6M2237 2379h6M2260 2420h6M2170 2416h6M2248 2442h6M2233 2371h6M2176 2365h6M2210 2273h6M2245 2350h6M2235 2487h6M2273 2396h6M2221 2369h6M2258 2312h6M2225 2553h6M2262 2348h6M2170 2325h6M2192 2316h6M2185 2449h6M2272 2448h6M2255 2565h6M2211 2503h6M2223 2544h6M2203 2390h6M2246 2524h6M2237 2476h6M2217 2538h6M2268 2444h6M2224 2432h6M2186 2314h6M2225 2345h6M2264 2449h6M2239 2486h6M2195 2366h6M2243 2474h6M2210 2270h6M2186 2336h6M2236 2452h6M2254 2486h6M2230 2396h6M2223 2505h6M2182 2378h6M2258 2346h6M2225 2375h6M2192 2495h6M2190 2517h6M2192 2522h6M2201 2347h6M2179 2466h6M2269 2344h6M2193 2352h6M2209 2444h6M2239 2439h6M2193 2387h6M2210 2281h6M2181 2289h6" stroke="#111" stroke-width="6" transform="scale(.1)"/>
<path d="M2275 2450h6M2299 2396h6M2282 2478h6M2245 2497h6M2298 2339h6M2308 2423h6M2277 2496h6M2259 2415h6M2291 2468h6M2288 2528h6M2277 2401h6M2287 2558h6M2299 2404h6M2302 2397h6M2264 2456h6M2281 2517h6M2305 2398h6M2280 2304h6M2290 2399h6M2281 2463h6M2274 2414h6M2287 2319h6M2300 2561h6M2270 2527h6M2283 2434h6M2282 2503h6M2301 2321h6M2270 2460h6M2287 2397h6M2240 2336h6M2282 2351h6M2261 2396h6M2258 2432h6M2269 2297h6M2294 2458h6M2259 2336h6M2261 2418h6M2282 2549h6M2294 2466h6M2290 2371h6M2270 2424h6M2313 2506h6M2297 2509h6M2262 2411h6M2266 2528h6M2271 2435h6M2263 2541h6M2266 2417h6M2259 2437h6M2290 2469h6M2286 2350h6M2274 2518h6M2281 2472h6M2277 2514h6M2272 2468h6M2285 2376h6M2309 2458h6M2303 2516h6M2256 2478h6M2255 2557h6M2277 2483h6M2250 2416h6M2283 2534h6M2278 2416h6M2290 2397h6M2263 2449h6M2285 2356h6M2264 2483h6M2282 2389h6M2280 2468h6M2307 2348h6M2299 2249h6M2241 2514h6M2268 2411h6M2269 2499h6M2272 2499h6M2253 2585h6M2300 2475h6M2282 2326h6M2315 2478h6M2268 2541h6M2248 2379h6M2308 2391h6M2289 2498h6M2277 2480h6M2279 2498h6M2307 2435h6M2315 2325h6M2300 2362h6M2269 2498h6M2246 2519h6M2272 2529h6M2281 2421h6M2277 2436h6M2279 2554h6M2257 2282h6M2256 2329h6M2283 2401h6M2285 2446h6M2278 2378h6M2281 2511h6M2275 2298h6M2239 2475h6M2260 2571h6M2308 2409h6M2269 2492h6M2303 2546h6M2286 2405h6M2306 2571h6M2291 2375h6M2315 2464h6M2279 2533h6M2295 2575h6M2277 2441h6M2273 2405h6M2281 2396h6M2251 2426h6M2273 2477h6M2274 2467h6M2287 2396h6M2302 2453h6M2252 2490h6M2273 2456h6M2334 2453h6M2263 2413h6M2285 2558h6M2290 2362h6M2284 2507h6M2292 2394h6M2278 2439h6M2244 2377h6M2305 2348h6M2267 2494h6M2259 2453h6M2265 2399h6M2327 2363h6M2251 2488h6M2320 2341h6M2263 2467h6M2286 2451h6M2269 2451h6M2241 2481h6M2271 2527h6M2300 2424h6M2297 2286h6M2275 2499h6M2281 2368h6M2280 2509h6M2269 2396h6M2272 2398h6M2278 2510h6M2284 2409h6M2284 2475h6M2262 2321h6M2270 2378h6M2242 2489h6M2253 2386h6M2291 2530h6M2285 2394h6M2275 2502h6M2288 2505h6M2279 2463h6M2261 2478h6M2268 2412h6M2290 2434h6M2271 2453h6M2261 2466h6M2266 2466h6M2258 2522h6M2275 2503h6M2295 2496h6M2286 2553h6M2265 2453h6M2245 2292h6M2257 2445h6M2260 2392h6M2304 2449h6M2305 2489h6M2262 2408h6M2257 2350h6M2264 2463h6M2299 2471h6M2276 2438h6M2304 2411h6M2275 2531h6M2273 2366h6M2255 2554h6M2276 2229h6M2259 2507h6M2294 2487h6M2297 2304h6M2288 2415h6M2270 2548h6M2292 2422h6M2288 2500h6M2272 2490h6M2292 2480h6M2306 2370h6M2289 2365h6M2259 2432h6M2274 2490h6M2304 2462h6M2264 2492h6M2284 2443h6M2305 2531h6M2253 2474h6M2255 2361h6M2303 2352h6M2267 2368h6M2292 2547h6M2247 2415h6M2313 2558h6M2288 2429h6M2317 2374h6M2296 2465h6M2241 2432h6M2285 2415h6M2294 2338h6M2320 2510h6M2275 2480h6M2273 2344h6M2292 2443h6M2285 2501h6M2311 2387h6M2316 2423h6M2316 2425h6M2246 2436h6M2243 2465h6M2294 2461h6M2293 2557h6M2304 2457h6M2308 2407h6M2278 2406h6M2274 2453h6M2274 2453h6M2268 2523h6M2278 2394h6M2281 2364h6M2264 2352h6M2316 2445h6M2314 2418h6M2286 2322h6M2287 2514h6M2229 2465h6M2305 2363h6M2247 2498h6M2270 2365h6M2285 2591h6M2301 2480h6M2263 2363h6M2267 2483h6M2264 2555h6M2321 2391h6M2258 2491h6M2288 2492h6M2303 2500h6M2273 2486h6M2260 2490h6" stroke="#888" stroke-width="6" transform="scale(.1)"/>
<path d="M2458 2435h6M2386 2417h6M2362 2364h6M2362 2461h6M2385 2300h6M2363 2287h6M2352 2325h6M2390 2253h6M2336 2452h6M2380 2397h6M2410 2362h6M2349 2466h6M2299 2280h6M2344 2330h6M2346 2426h6M2381 2369h6M2324 2319h6M2316 2407h6M2359 2332h6M2401 2296h6M2363 2425h6M2271 2379h6M2298 2293h6M2415 2384h6M2345 2432h6M2447 2421h6M2361 2370h6M2355 2376h6M2462 2377h6M2281 2376h6M2344 2363h6M2321 2316h6M2323 2299h6M2391 2289h6M2379 2357h6M2406 2343h6M2493 2436h6M2314 2402h6M2269 2410h6M2287 2367h6M2381 2334h6M2309 2443h6M2361 2330h6M2356 2348h6M2374 2297h6M2273 2330h6M2306 2355h6M2328 2384h6M2268 2444h6M2344 2518h6M2304 2318h6M2309 2306h6M2374 2355h6M2401 2334h6M2275 2285h6M2451 2368h6M2379 2391h6M2354 2397h6M2404 2452h6M2332 2308h6M2384 2340h6M2335 2357h6M2326 2425h6M2373 2454h6M2252 2442h6M2374 2420h6M2330 2307h6M2317 2397h6M2345 2398h6M2287 2290h6M2447 2393h6M2328 2377h6M2338 2383h6M2379 2299h6M2354 2386h6M2373 2424h6M2233 2319h6M2352 2347h6M2277 2349h6M2325 2376h6M2322 2395h6M2431 2322h6M2305 2391h6M2400 2328h6M2388 2328h6M2314 2415h6M2381 2368h6M2381 2396h6M2331 2290h6M2291 2346h6M2399 2339h6M2339 2294h6M2386 2345h6M2301 2327h6M2333 2295h6M2347 2443h6M2327 2316h6M2371 2387h6M2344 2355h6M2353 2467h6M2378 2401h6M2392 2466h6M2334 2410h6M2451 2314h6M2344 2319h6M2327 2344h6M2260 2327h6M2356 2339h6M2379 2405h6M2329 2359h6M2331 2422h6M2384 2343h6M2374 2400h6M2437 2491h6M2395 2399h6M2286 2341h6M2396 2429h6M2295 2353h6M2269 2331h6M2229 2368h6M2384 2387h6M2257 2477h6M2286 2489h6M2344 2440h6M2361 2416h6M2435 2296h6M2300 2318h6M2258 2454h6M2308 2290h6M2298 2401h6M2336 2342h6M2304 2447h6M2374 2412h6M2297 2334h6M2380 2358h6M2334 2481h6M2367 2312h6M2279 2336h6M2371 2317h6M2210 2266h6M2265 2343h6M2330 2352h6M2391 2379h6M2330 2391h6M2343 2451h6M2252 2384h6M2290 2277h6M2356 2262h6M2333 2327h6M2330 2328h6M2331 2291h6M2277 2378h6M2380 2509h6M2352 2299h6M2376 2351h6M2399 2381h6M2374 2386h6M2265 2313h6M2434 2474h6M2368 2381h6M2387 2337h6M2413 2394h6M2295 2367h6M2418 2341h6M2249 2370h6M2338 2398h6M2284 2339h6M2386 2373h6M2343 2297h6M2360 2398h6M2356 2328h6M2334 2394h6M2313 2441h6M2279 2360h6M2358 2335h6M2300 2333h6M2375 2308h6M2345 2470h6M2250 2298h6M2323 2388h6M2257 2476h6M2389 2360h6M2392 2305h6M2380 2345h6M2383 2393h6M2347 2296h6M2288 2393h6M2342 2414h6M2302 2468h6M2398 2493h6M2239 2312h6M2208 2403h6M2325 2374h6M2252 2350h6M2415 2312h6M2338 2444h6M2308 2453h6M2446 2315h6M2342 2275h6M2367 2425h6M2371 2269h6M2289 2281h6M2341 2495h6M2351 2368h6M2356 2343h6M2252 2414h6M2402 2330h6M2328 2414h6M2430 2370h6M2326 2358h6M2375 2367h6M2341 2306h6M2396 2408h6M2361 2431h6M2444 2385h6M2313 2400h6M2328 2431h6M2305 2325h6M2378 2485h6M2407 2346h6M2364 2409h6M2396 2399h6M2382 2353h6M2221 2405h6M2380 2470h6M2377 2336h6M2351 2348h6M2387 2415h6M2360 2371h6M2270 2332h6M2347 2298h6M2372 2396h6M2387 2365h6M2384 2341h6M2261 2376h6M2346 2298h6M2332 2357h6M2295 2463h6M2352 2346h6M2359 2266h6M2296 2369h6M2440 2363h6M2397 2379h6M2328 2432h6M2349 2333h6M2364 2470h6M2347 2433h6M2307 2362h6M2311 2343h6M2398 2371h6M2347 2455h6M2445 2298h6M2270 2417h6M2405 2400h6M2381 2439h6M2316 2419h6M2301 2310h6M2248 2271h6M2368 2370h6M2313 2424h6M2345 2328h6M2390 2396h6M2324 2400h6M2323 2371h6M2337 2302h6M2302 2435h6M2322 2393h6M2322 2392h6M2295 2458h6M2314 2416h6M2342 2383h6M2304 2388h6M2308 2405h6M2411 2300h6M2303 2372h6M2306 2411h6M2404 2380h6M2363 2343h6M2327 2415h6M2326 2397h6M2282 2390h6M2372 2320h6M2321 2409h6M2342 2359h6M2357 2387h6M2306 2439h6M2330 2355h6M2320 2344h6M2325 2412h6M2307 2355h6M2340 2289h6M2296 2361h6M2348 2273h6M2296 2361h6M2347 2411h6M2254 2378h6M2322 2221h6M2386 2357h6M2369 2320h6M2307 2411h6M2325 2407h6M2263 2441h6M2419 2381h6M2286 2267h6M2277 2362h6M2322 2297h6M2252 2404h6M2296 2447h6M2318 2372h6M2316 2344h6M2273 2250h6M2403 2281h6M2353 2363h6M2430 2326h6M2352 2376h6M2362 2306h6M2355 2427h6M2375 2242h6M2275 2438h6M2310 2325h6M2411 2309h6M2315 2324h6M2348 2336h6M2384 2376h6M2278 2314h6M2416 2362h6M2320 2377h6M2319 2412h6M2395 2343h6M2420 2339h6M2367 2378h6M2287 2406h6M2350 2493h6M2444 2363h6M2309 2336h6M2315 2382h6M2325 2395h6M2395 2387h6M2335 2341h6M2310 2322h6M2299 2439h6M2218 2350h6M2327 2311h6M2335 2354h6M2423 2385h6M2350 2399h6M2433 2376h6M2371 2354h6M2332 2266h6M2340 2416h6M2348 2465h6M2326 2320h6M2329 2294h6M2275 2311h6M2335 2348h6M2476 2339h6M2350 2343h6M2360 2333h6M2307 2429h6M2333 2426h6M2324 2309h6M2323 2279h6M2383 2356h6M2353 2318h6M2359 2328h6M2330 2336h6M2351 2322h6M2337 2362h6M2296 2408h6M2351 2244h6M2378 2341h6M2333 2311h6M2333 2311h6M2354 2376h6M2345 2451h6M2245 2347h6M2293 2299h6M2333 2338h6M2381 2349h6M2374 2370h6M2314 2413h6M2304 2455h6M2331 2406h6M2273 2452h6M2360 2356h6M2384 2334h6M2264 2437h6M2397 2290h6M2344 2421h6M2257 2366h6M2370 2369h6M2285 2325h6M2321 2354h6M2332 2401h6M2301 2270h6M2308 2343h6M2330 2303h6M2332 2419h6M2278 2399h6M2338 2363h6M2310 2454h6M2298 2393h6M2367 2428h6M2280 2289h6M2384 2403h6M2334 2383h6M2284 2231h6M2361 2366h6M2414 2372h6M2298 2272h6M2358 2442h6M2372 2447h6M2352 2364h6M2260 2311h6M2286 2302h6M2378 2220h6M2288 2487h6M2399 2368h6M2247 2298h6M2368 2344h6M2280 2314h6M2327 2357h6M2385 2347h6M2357 2264h6M2343 2371h6M2339 2275h6M2290 2451h6M2401 2369h6M2418 2293h6M2465 2343h6M2296 2419h6M2325 2385h6M2279 2285h6M2322 2351h6M2343 2257h6M2368 2420h6M2347 2379h6M2424 2406h6M2501 2407h6M2301 2418h6M2363 2425h6M2376 2358h6M2351 2315h6M2294 2413h6M2328 2338h6M2374 2366h6M2393 2320h6M2351 2433h6M2359 2453h6M2377 2387h6M2222 2412h6M2330 2408h6M2338 2413h6M2377 2347h6M2224 2459h6M2346 2363h6M2283 2401h6M2347 2337h6M2272 2464h6M2352 2362h6M2375 2351h6M2322 2379h6M2315 2387h6M2348 2410h6M2374 2386h6M2360 2404h6M2354 2352h6M2338 2386h6M2306 2345h6M2270 2371h6M2292 2263h6M2180 2334h6M2363 2368h6M2323 2380h6M2360 2439h6M2362 2314h6M2378 2508h6M2312 2322h6M2305 2386h6M2308 2425h6M2418 2291h6M2355 2374h6M2391 2347h6M2374 2353h6M2318 2308h6M2359 2388h6M2340 2365h6M2381 2345h6M2435 2361h6M2360 2347h6M2319 2362h6M2322 2432h6M2367 2264h6M2346 2439h6M2284 2360h6M2430 2298h6M2305 2368h6M2344 2276h6M2330 2434h6M2306 2351h6M2421 2364h6M2294 2404h6M2358 2434h6M2349 2306h6M2368 2350h6M2350 2481h6M2324 2364h6M2346 2399h6M2406 2381h6M2259 2412h6M2281 2330h6M2347 2388h6M2308 2495h6M2220 2419h6M2295 2329h6M2321 2341h6M2412 2394h6M2358 2347h6M2296 2449h6M2382 2420h6M2413 2342h6M2349 2400h6M2353 2381h6M2223 2328h6M2267 2380h6M2405 2368h6M2381 2437h6M2393 2445h6M2296 2337h6M2294 2389h6M2432 2350h6M2240 2308h6M2430 2371h6M2367 2342h6M2370 2344h6M2350 2335h6M2259 2407h6M2324 2381h6M2326 2431h6M2334 2409h6M2402 2315h6M2367 2346h6M2388 2289h6M2338 2258h6M2296 2364h6M2356 2360h6M2354 2346h6M2341 2296h6M2266 2378h6M2392 2316h6M2310 2336h6M2308 2325h6M2320 2356h6M2373 2333h6M2388 2432h6M2239 2362h6M2288 2396h6M2349 2375h6M2303 2397h6M2388 2353h6M2260 2294h6M2310 2397h6M2368 2368h6M2266 2338h6M2284 2273h6M2395 2412h6M2416 2411h6M2375 2405h6M2256 2374h6M2272 2372h6M2319 2365h6M2376 2287h6M2276 2398h6M2363 2417h6M2329 2444h6M2351 2470h6M2256 2332h6M2264 2353h6M2425 2344h6M2369 2403h6M2365 2344h6M2381 2334h6M2351 2421h6M2370 2476h6M2446 2445h6M2412 2345h6M2339 2344h6M2269 2358h6M2404 2419h6M2356 2495h6M2423 2402h6M2308 2324h6M2263 2401h6M2309 2401h6M2287 2349h6M2361 2328h6M2256 2357h6M2376 2365h6M2322 2375h6M2217 2346h6M2340 2379h6M2433 2346h6M2391 2332h6M2343 2368h6M2305 2425h6M2378 2401h6M2358 2304h6M2278 2279h6M2347 2392h6M2384 2337h6M2385 2385h6M2296 2355h6M2367 2390h6M2349 2289h6M2287 2286h6M2325 2373h6M2292 2462h6M2366 2286h6M2367 2361h6M2374 2395h6M2334 2475h6M2320 2294h6M2252 2322h6M2290 2341h6M2287 2327h6M2251 2357h6M2304 2420h6M2262 2288h6M2417 2386h6M2328 2288h6M2390 2335h6M2291 2321h6M2211 2288h6M2301 2287h6M2344 2361h6M2339 2346h6M2381 2283h6M2316 2410h6M2319 2251h6M2416 2384h6M2386 2409h6M2334 2390h6M2289 2377h6M2182 2389h6M2313 2332h6M2272 2360h6M2384 2360h6M2298 2318h6M2350 2326h6M2389 2379h6M2348 2292h6M2381 2418h6M2367 2329h6M2358 2381h6M2312 2423h6M2323 2437h6M2308 2456h6M2431 2294h6M2303 2384h6M2315 2437h6M2337 2401h6M2397 2419h6M2300 2405h6M2351 2388h6M2403 2357h6M2375 2334h6M2381 2347h6M2393 2411h6M2403 2236h6M2354 2358h6M2282 2309h6M2299 2353h6M2330 2407h6M2408 2413h6M2322 2323h6M2296 2361h6M2435 2378h6M2354 2389h6M2378 2276h6M2325 2470h6M2313 2401h6M2369 2377h6M2269 2319h6M2395 2409h6M2314 2287h6M2378 2249h6M2286 2457h6M2273 2410h6M2302 2434h6M2282 2493h6M2339 2435h6M2382 2327h6M2342 2425h6M2313 2351h6M2363 2410h6M2320 2337h6M2417 2415h6M2289 2390h6M2265 2348h6M2224 2363h6M2398 2343h6M2318 2296h6M2345 2362h6M2312 2290h6M2264 2353h6M2393 2395h6M2306 2399h6M2322 2289h6M2359 2301h6M2462 2256h6M2260 2373h6M2316 2411h6M2356 2305h6M2387 2342h6M2315 2417h6M2321 2377h6M2263 2322h6M2391 2211h6M2241 2366h6M2400 2321h6M2263 2402h6M2382 2437h6M2324 2372h6M2388 2414h6M2318 2384h6M2245 2309h6M2345 2396h6M2350 2394h6M2400 2387h6M2271 2351h6M2297 2358h6M2396 2456h6M2342 2387h6M2284 2382h6M2316 2524h6M2385 2362h6M2376 2318h6M2315 2338h6M2289 2394h6M2355 2297h6M2308 2438h6M2441 2393h6M2249 2293h6M2316 2438h6M2306 2442h6M2386 2354h6M2353 2365h6M2397 2323h6M2390 2348h6M2374 2315h6M2283 2428h6M2300 2383h6M2277 2339h6M2418 2371h6M2313 2466h6M2361 2352h6M2369 2413h6M2334 2329h6M2332 2375h6M2343 2345h6M2408 2245h6M2328 2427h6M2351 2349h6M2328 2470h6M2303 2323h6M2343 2235h6M2345 2346h6M2426 2401h6M2327 2399h6M2274 2387h6M2387 2345h6M2271 2359h6M2350 2355h6M2334 2397h6M2352 2276h6M2368 2368h6M2293 2389h6M2280 2361h6M2269 2360h6M2373 2415h6M2305 2385h6M2404 2421h6M2320 2400h6M2369 2365h6M2284 2388h6M2334 2353h6M2316 2403h6M2331 2339h6M2447 2356h6M2362 2333h6M2301 2290h6M2302 2419h6M2399 2321h6M2338 2357h6M2367 2285h6M2356 2369h6M2324 2296h6M2289 2475h6M2265 2325h6M2353 2359h6M2398 2396h6M2277 2293h6M2322 2445h6M2316 2433h6M2303 2325h6M2362 2350h6M2343 2296h6M2314 2356h6M2284 2478h6M2416 2412h6M2339 2269h6M2363 2351h6M2336 2368h6M2279 2407h6M2305 2437h6M2326 2326h6M2316 2469h6M2345 2400h6M2324 2365h6M2312 2314h6M2321 2450h6M2253 2453h6M2327 2316h6M2385 2393h6M2420 2308h6M2337 2383h6M2432 2394h6M2264 2263h6M2301 2302h6M2331 2421h6M2331 2393h6M2334 2339h6M2312 2435h6M2322 2492h6M2311 2359h6M2320 2380h6M2279 2330h6M2381 2260h6M2446 2335h6M2272 2318h6M2292 2297h6M2300 2450h6M2398 2385h6M2433 2350h6M2362 2352h6M2363 2353h6M2340 2451h6M2391 2420h6M2312 2383h6M2363 2274h6M2299 2361h6M2289 2335h6M2286 2435h6M2277 2396h6M2300 2393h6M2347 2347h6M2421 2342h6M2380 2403h6M2412 2437h6M2311 2345h6M2436 2381h6M2224 2381h6M2352 2449h6M2316 2422h6M2292 2379h6M2392 2347h6M2359 2418h6M2403 2370h6M2398 2356h6M2367 2315h6M2329 2464h6M2377 2316h6M2315 2273h6M2354 2423h6M2302 2383h6M2342 2351h6M2351 2423h6M2294 2386h6M2377 2375h6M2321 2354h6M2296 2357h6M2279 2311h6M2338 2345h6M2221 2327h6M2345 2454h6M2416 2292h6M2353 2342h6M2288 2421h6M2285 2467h6M2398 2334h6M2375 2332h6M2350 2350h6M2334 2446h6M2348 2344h6M2322 2434h6M2335 2323h6M2348 2298h6M2248 2382h6" stroke="#7a7a7a" stroke-width="6" transform="scale(.1)"/>
<path d="M2341 2342h6M2326 2373h6M2306 2349h6M2334 2378h6M2355 2342h6M2351 2331h6M2338 2338h6M2351 2363h6M2332 2343h6M2355 2351h6M2319 2340h6M2356 2382h6M2407 2316h6M2390 2423h6M2331 2352h6M2353 2346h6M2347 2397h6M2313 2352h6M2354 2362h6M2368 2315h6M2348 2364h6M2399 2330h6M2367 2331h6M2355 2395h6M2310 2343h6M2369 2369h6M2341 2342h6M2318 2356h6M2308 2332h6M2365 2356h6M2355 2303h6M2340 2362h6M2369 2327h6M2332 2323h6M2315 2338h6M2338 2315h6M2385 2332h6M2343 2363h6M2334 2377h6M2371 2360h6M2379 2331h6M2367 2350h6M2356 2345h6M2327 2319h6M2352 2294h6M2368 2316h6M2336 2366h6M2355 2344h6M2366 2332h6M2330 2323h6M2343 2313h6M2335 2368h6M2372 2362h6M2359 2336h6M2348 2349h6M2387 2378h6M2341 2344h6M2353 2343h6M2360 2343h6M2395 2345h6M2322 2360h6M2362 2312h6M2361 2382h6M2353 2364h6M2336 2419h6M2327 2329h6M2339 2384h6M2399 2313h6M2362 2370h6M2348 2365h6M2344 2390h6M2330 2374h6M2376 2309h6M2339 2330h6M2367 2336h6M2321 2387h6M2334 2340h6M2338 2329h6M2330 2356h6M2338 2395h6M2416 2339h6M2370 2332h6M2332 2295h6M2358 2352h6M2340 2361h6M2294 2330h6M2346 2378h6M2319 2386h6M2362 2407h6M2295 2345h6M2332 2331h6M2343 2301h6M2349 2342h6M2361 2374h6M2345 2361h6M2327 2365h6M2390 2331h6M2310 2336h6M2346 2342h6M2337 2317h6M2332 2357h6M2351 2318h6M2353 2294h6M2304 2289h6M2364 2347h6M2318 2346h6M2368 2337h6M2359 2374h6M2344 2380h6M2292 2376h6M2328 2362h6M2373 2402h6M2325 2373h6M2355 2352h6M2336 2369h6M2295 2367h6M2329 2309h6M2308 2340h6M2380 2342h6M2335 2376h6M2365 2411h6M2368 2321h6M2299 2380h6M2302 2318h6M2372 2358h6M2337 2331h6M2341 2366h6M2325 2333h6M2380 2393h6M2346 2342h6M2371 2421h6M2374 2382h6M2338 2367h6M2343 2334h6M2357 2338h6M2365 2308h6M2354 2347h6M2358 2328h6M2346 2314h6M2325 2310h6M2331 2350h6M2409 2335h6M2379 2361h6M2354 2356h6M2382 2314h6M2378 2320h6M2306 2351h6M2330 2338h6M2364 2370h6M2380 2339h6M2357 2415h6M2380 2308h6M2370 2322h6M2356 2323h6M2322 2326h6M2402 2334h6M2362 2351h6M2344 2364h6M2389 2328h6M2352 2356h6M2354 2335h6M2318 2362h6M2383 2352h6M2329 2345h6M2351 2315h6M2340 2315h6M2373 2391h6M2357 2283h6M2377 2367h6M2304 2328h6M2330 2336h6M2322 2354h6M2386 2367h6M2365 2364h6M2357 2363h6M2340 2348h6M2333 2348h6M2366 2342h6M2382 2372h6M2366 2379h6M2364 2352h6M2335 2364h6M2334 2363h6M2361 2339h6M2343 2383h6M2349 2351h6M2356 2377h6M2294 2335h6M2351 2312h6M2350 2356h6M2355 2347h6M2298 2328h6M2371 2347h6M2329 2392h6M2351 2359h6M2363 2363h6M2360 2327h6M2340 2377h6M2351 2340h6M2365 2309h6M2380 2354h6M2350 2359h6M2326 2397h6M2354 2327h6M2322 2317h6M2313 2281h6M2387 2301h6M2366 2347h6M2371 2350h6M2384 2371h6M2349 2388h6M2325 2351h6M2344 2350h6M2340 2386h6M2323 2339h6M2346 2351h6M2362 2331h6M2313 2344h6M2397 2341h6M2326 2294h6M2340 2338h6M2329 2372h6M2324 2382h6M2375 2342h6M2390 2362h6M2379 2382h6M2365 2351h6M2354 2282h6M2379 2350h6M2338 2376h6M2371 2377h6M2370 2350h6M2358 2373h6M2295 2313h6M2370 2363h6M2367 2386h6M2319 2356h6M2385 2357h6M2400 2344h6M2353 2332h6M2350 2338h6M2338 2320h6M2374 2343h6M2342 2349h6M2300 2382h6M2363 2381h6M2298 2336h6M2317 2343h6M2341 2326h6M2326 2366h6M2332 2351h6M2349 2316h6M2363 2319h6M2352 2354h6M2382 2340h6M2352 2334h6M2314 2343h6M2342 2375h6M2347 2330h6M2362 2362h6M2363 2344h6M2329 2351h6M2363 2314h6M2346 2320h6M2360 2351h6M2323 2363h6M2371 2347h6M2335 2329h6M2330 2351h6M2336 2335h6M2327 2369h6M2340 2371h6M2366 2402h6M2349 2340h6M2336 2329h6M2322 2344h6M2349 2362h6M2332 2356h6M2374 2369h6M2332 2382h6M2311 2327h6M2366 2319h6M2329 2347h6M2362 2380h6M2351 2323h6M2359 2357h6M2306 2369h6M2361 2356h6M2395 2361h6M2319 2326h6M2309 2361h6M2339 2341h6M2322 2365h6M2362 2388h6M2338 2338h6M2321 2380h6M2358 2360h6M2339 2350h6M2370 2347h6M2381 2347h6M2342 2345h6M2347 2364h6M2351 2340h6M2364 2364h6M2362 2372h6M2330 2327h6M2351 2347h6M2386 2288h6M2331 2329h6M2338 2335h6M2365 2389h6M2347 2355h6M2340 2317h6M2339 2356h6M2304 2347h6M2350 2368h6M2365 2402h6M2354 2357h6M2383 2401h6M2361 2319h6" stroke="#333" stroke-width="6" transform="scale(.1)"/>
<path d="M2333 2536h6M2364 2480h6M2344 2566h6M2333 2502h6M2396 2519h6M2383 2503h6M2358 2559h6M2387 2536h6M2370 2555h6M2361 2537h6M2362 2508h6M2352 2573h6M2367 2545h6M2357 2522h6M2377 2533h6M2380 2548h6M2343 2535h6M2359 2564h6M2342 2538h6M2337 2511h6M2354 2532h6M2379 2518h6M2348 2545h6M2354 2574h6M2338 2540h6M2382 2488h6M2403 2521h6M2321 2509h6M2366 2545h6M2394 2536h6M2364 2515h6M2360 2512h6M2367 2520h6M2356 2560h6M2321 2546h6M2317 2533h6M2389 2553h6M2368 2540h6M2319 2564h6M2343 2492h6M2384 2513h6M2370 2501h6M2369 2507h6M2344 2524h6M2344 2503h6M2385 2506h6M2356 2520h6M2374 2536h6M2341 2523h6M2349 2553h6M2347 2521h6M2359 2535h6M2373 2516h6M2360 2513h6M2340 2505h6M2342 2566h6M2344 2523h6M2347 2537h6M2370 2528h6M2390 2544h6M2343 2539h6M2382 2584h6M2332 2533h6M2378 2549h6M2349 2559h6M2353 2516h6M2374 2567h6M2345 2501h6M2330 2555h6M2345 2538h6M2365 2561h6M2354 2555h6M2366 2519h6M2391 2536h6M2350 2510h6M2340 2548h6M2347 2549h6M2389 2533h6M2344 2518h6M2368 2524h6M2372 2550h6M2330 2538h6M2350 2546h6M2381 2517h6M2321 2540h6M2348 2540h6M2355 2548h6M2364 2525h6M2375 2552h6M2351 2518h6M2339 2517h6M2360 2512h6M2364 2544h6M2376 2536h6M2351 2569h6M2359 2569h6M2355 2527h6M2339 2520h6M2370 2537h6M2345 2548h6M2370 2524h6M2377 2521h6M2376 2525h6M2351 2498h6M2360 2517h6M2358 2584h6M2352 2586h6M2349 2583h6M2395 2560h6M2344 2540h6M2338 2503h6M2352 2530h6M2357 2580h6M2386 2544h6M2342 2539h6M2359 2501h6M2338 2551h6M2340 2556h6M2382 2560h6M2341 2515h6M2347 2546h6M2375 2574h6M2389 2563h6M2353 2523h6M2378 2505h6M2344 2533h6M2383 2547h6M2372 2530h6M2360 2525h6M2357 2542h6M2372 2558h6M2353 2529h6M2360 2555h6M2381 2559h6M2380 2504h6M2399 2553h6M2354 2536h6M2352 2573h6M2321 2552h6M2346 2493h6M2355 2473h6M2340 2543h6M2398 2510h6M2348 2535h6M2333 2539h6M2397 2541h6M2365 2579h6M2370 2516h6M2353 2542h6M2366 2510h6M2358 2520h6M2386 2530h6M2393 2547h6M2318 2516h6M2366 2504h6M2366 2504h6M2352 2527h6M2389 2511h6M2347 2539h6M2334 2514h6M2327 2521h6M2407 2537h6M2387 2547h6M2339 2535h6M2360 2555h6M2372 2591h6M2348 2556h6M2325 2558h6M2362 2522h6M2367 2530h6M2355 2540h6M2365 2534h6M2354 2534h6M2389 2566h6M2363 2536h6M2353 2558h6M2385 2575h6M2363 2500h6M2364 2528h6M2378 2563h6M2358 2596h6M2383 2553h6M2377 2549h6M2372 2496h6M2388 2552h6M2347 2530h6M2356 2529h6M2340 2534h6M2353 2558h6M2354 2526h6M2344 2526h6M2351 2511h6M2351 2541h6M2346 2527h6M2343 2500h6M2368 2526h6M2365 2563h6M2390 2520h6M2335 2545h6M2360 2565h6M2373 2580h6M2352 2520h6M2342 2581h6M2392 2536h6M2358 2573h6M2397 2502h6M2351 2579h6M2356 2516h6M2398 2550h6M2344 2543h6M2396 2543h6M2390 2536h6M2345 2535h6M2358 2585h6M2333 2505h6M2361 2536h6M2362 2485h6M2382 2556h6M2330 2554h6M2356 2482h6M2386 2557h6M2359 2552h6M2331 2558h6M2367 2577h6M2364 2523h6M2336 2519h6M2319 2505h6M2396 2540h6M2341 2530h6M2395 2514h6M2334 2540h6M2348 2532h6M2363 2580h6M2338 2520h6M2380 2558h6M2342 2545h6M2355 2531h6M2345 2527h6" stroke="#666" stroke-width="6" transform="scale(.1)"/>
</g>
<rect x="216.3" y="217.2" width="44.099999999999966" height="43.400000000000034" fill="none" stroke="#858585" stroke-width="0.8"/>
<line x1="215.10000000000002" y1="217.2" x2="216.3" y2="217.2" stroke="#888" stroke-width="0.5"/>
<rect x="212.9" y="216.5" width="1.4" height="1.4" fill="#b0b0b0"/>
<line x1="215.10000000000002" y1="228.05" x2="216.3" y2="228.05" stroke="#888" stroke-width="0.5"/>
<rect x="212.9" y="227.35000000000002" width="1.4" height="1.4" fill="#b0b0b0"/>
<line x1="215.10000000000002" y1="238.9" x2="216.3" y2="238.9" stroke="#888" stroke-width="0.5"/>
<rect x="212.9" y="238.20000000000002" width="1.4" height="1.4" fill="#b0b0b0"/>
<line x1="215.10000000000002" y1="249.75" x2="216.3" y2="249.75" stroke="#888" stroke-width="0.5"/>
<rect x="212.9" y="249.05" width="1.4" height="1.4" fill="#b0b0b0"/>
<line x1="215.10000000000002" y1="260.6" x2="216.3" y2="260.6" stroke="#888" stroke-width="0.5"/>
<rect x="212.9" y="259.90000000000003" width="1.4" height="1.4" fill="#b0b0b0"/>
<line x1="216.3" y1="260.6" x2="216.3" y2="261.8" stroke="#888" stroke-width="0.5"/>
<rect x="215.60000000000002" y="262.40000000000003" width="1.4" height="1.4" fill="#b0b0b0"/>
<line x1="227.325" y1="260.6" x2="227.325" y2="261.8" stroke="#888" stroke-width="0.5"/>
<rect x="226.625" y="262.40000000000003" width="1.4" height="1.4" fill="#b0b0b0"/>
<line x1="238.35" y1="260.6" x2="238.35" y2="261.8" stroke="#888" stroke-width="0.5"/>
<rect x="237.65" y="262.40000000000003" width="1.4" height="1.4" fill="#b0b0b0"/>
<line x1="249.375" y1="260.6" x2="249.375" y2="261.8" stroke="#888" stroke-width="0.5"/>
<rect x="248.675" y="262.40000000000003" width="1.4" height="1.4" fill="#b0b0b0"/>
<line x1="260.4" y1="260.6" x2="260.4" y2="261.8" stroke="#888" stroke-width="0.5"/>
<rect x="259.7" y="262.40000000000003" width="1.4" height="1.4" fill="#b0b0b0"/>
<ellipse cx="236" cy="253.5" rx="4.8" ry="6.2" fill="none" stroke="#111" stroke-width="1.9"/>
<line x1="240.9" y1="253.6" x2="263.0" y2="253.6" stroke="#111" stroke-width="1.5"/>
<path d="M267.50,253.60 L262.50,256.50 L262.50,250.70Z" fill="#111"/>
<clipPath id="cp34"><rect x="216.60000000000002" y="299.8" width="43.299999999999976" height="42.50000000000002"/></clipPath>
<g clip-path="url(#cp34)">
<rect x="213.5" y="310.0" width="12.5" height="36" rx="4.5" fill="#000" filter="url(#b8)"/>
<path d="M2182 3226h6M2245 3192h6M2207 3303h6M2211 3378h6M2226 3286h6M2249 3129h6M2195 3198h6M2169 3228h6M2196 3289h6M2215 3111h6M2206 3411h6M2222 3165h6M2206 3095h6M2235 3326h6M2248 3300h6M2200 3299h6M2184 3163h6M2201 3328h6M2195 3355h6M2193 3206h6M2222 3373h6M2169 3226h6M2251 3251h6M2185 3371h6M2176 3283h6M2222 3112h6M2236 3159h6M2179 3321h6M2241 3339h6M2262 3244h6M2252 3154h6M2220 3132h6M2205 3125h6M2239 3159h6M2187 3371h6M2245 3218h6M2254 3151h6M2207 3320h6M2235 3272h6M2241 3132h6M2180 3317h6M2264 3318h6M2223 3228h6M2201 3162h6M2245 3334h6M2229 3388h6M2217 3236h6M2187 3247h6M2237 3393h6M2203 3093h6M2212 3325h6M2220 3354h6M2257 3215h6M2200 3228h6M2213 3349h6M2209 3314h6M2220 3312h6M2183 3196h6M2201 3141h6M2203 3206h6M2260 3297h6M2258 3300h6M2182 3175h6M2216 3342h6M2209 3099h6M2248 3179h6M2234 3299h6M2253 3275h6M2260 3328h6M2229 3270h6M2249 3222h6M2253 3322h6M2173 3232h6M2193 3277h6M2188 3247h6M2223 3393h6M2258 3253h6M2194 3140h6M2215 3209h6M2191 3190h6M2211 3291h6M2216 3206h6M2215 3143h6M2187 3123h6M2255 3222h6M2201 3372h6M2214 3409h6M2248 3343h6M2240 3204h6M2209 3144h6M2177 3148h6M2182 3376h6M2184 3227h6M2169 3287h6M2266 3199h6M2265 3233h6M2228 3293h6M2208 3250h6M2220 3382h6M2200 3341h6M2248 3258h6M2182 3313h6M2245 3114h6M2202 3317h6M2244 3289h6M2197 3194h6M2200 3338h6M2192 3357h6M2207 3346h6M2269 3271h6M2201 3294h6M2188 3113h6M2251 3208h6M2205 3141h6M2240 3270h6M2186 3331h6M2179 3266h6M2192 3201h6M2195 3108h6M2194 3143h6M2223 3245h6M2253 3213h6M2205 3303h6M2188 3170h6M2221 3362h6M2193 3276h6M2188 3304h6M2185 3134h6M2207 3206h6M2200 3171h6M2186 3251h6M2261 3297h6M2196 3163h6M2176 3311h6M2251 3383h6M2191 3275h6M2183 3249h6M2186 3409h6M2248 3137h6M2186 3203h6M2257 3187h6M2171 3195h6M2240 3208h6M2234 3304h6M2224 3175h6M2224 3274h6M2173 3181h6M2209 3170h6M2241 3109h6M2204 3103h6M2195 3128h6M2197 3161h6M2244 3235h6M2220 3290h6M2248 3295h6M2197 3318h6M2217 3178h6M2193 3294h6M2213 3235h6M2222 3321h6M2258 3304h6M2239 3254h6M2202 3183h6M2210 3107h6M2245 3324h6M2194 3417h6M2231 3317h6M2182 3263h6M2211 3267h6M2174 3164h6M2247 3323h6M2216 3128h6M2238 3167h6M2191 3185h6M2227 3212h6M2222 3225h6M2208 3168h6M2175 3210h6M2192 3138h6M2241 3405h6M2175 3266h6M2208 3189h6M2239 3313h6M2216 3385h6M2213 3322h6M2194 3244h6M2188 3245h6M2243 3368h6M2231 3097h6M2202 3377h6M2179 3155h6M2280 3288h6M2240 3271h6M2217 3157h6M2230 3365h6M2203 3173h6M2201 3189h6M2259 3214h6M2185 3321h6M2201 3365h6M2196 3305h6M2212 3246h6M2219 3161h6M2224 3368h6M2250 3217h6M2256 3324h6M2181 3257h6M2172 3247h6M2201 3129h6M2250 3181h6M2242 3318h6M2201 3122h6M2245 3356h6M2196 3363h6M2188 3253h6M2191 3221h6M2274 3184h6M2216 3147h6M2243 3153h6M2206 3264h6M2228 3399h6M2247 3144h6M2170 3330h6M2227 3271h6M2247 3198h6M2262 3207h6M2239 3216h6M2246 3276h6M2166 3335h6M2257 3185h6M2243 3240h6M2252 3363h6M2220 3421h6M2188 3340h6M2266 3219h6M2191 3275h6M2229 3201h6M2203 3280h6M2260 3220h6M2208 3278h6M2253 3280h6M2181 3362h6M2239 3200h6M2206 3291h6M2189 3225h6M2212 3365h6M2185 3211h6M2233 3100h6M2256 3200h6M2248 3356h6M2189 3125h6M2220 3214h6M2246 3319h6M2227 3216h6M2221 3192h6M2236 3166h6M2257 3343h6M2264 3213h6M2210 3377h6M2197 3391h6M2180 3273h6M2182 3239h6M2210 3218h6M2243 3275h6M2224 3358h6M2248 3306h6M2211 3156h6M2186 3319h6M2231 3275h6M2267 3261h6M2207 3228h6M2180 3260h6M2220 3353h6M2225 3324h6M2193 3269h6M2178 3148h6M2218 3222h6M2213 3126h6M2205 3151h6M2188 3141h6M2250 3344h6M2218 3376h6M2195 3296h6M2266 3335h6M2193 3105h6M2244 3231h6M2250 3159h6M2198 3341h6M2186 3309h6M2252 3222h6M2217 3175h6M2192 3321h6M2192 3348h6M2202 3160h6M2244 3241h6M2181 3307h6M2224 3106h6M2211 3179h6M2189 3319h6M2245 3234h6M2204 3202h6M2202 3127h6M2261 3278h6M2207 3142h6M2265 3338h6M2225 3098h6M2241 3279h6M2205 3146h6M2213 3150h6M2259 3338h6M2182 3147h6M2235 3149h6M2231 3279h6M2225 3398h6M2178 3306h6M2252 3237h6M2266 3165h6M2232 3281h6M2217 3367h6M2203 3396h6M2225 3392h6M2240 3178h6M2210 3197h6M2231 3212h6M2188 3273h6M2246 3213h6M2276 3265h6M2182 3207h6M2194 3189h6M2207 3187h6M2217 3252h6M2203 3142h6M2223 3227h6M2225 3208h6M2255 3343h6M2199 3402h6M2207 3264h6M2207 3179h6M2236 3261h6M2247 3385h6M2179 3367h6M2169 3162h6M2258 3329h6M2243 3128h6M2240 3372h6M2210 3421h6M2204 3250h6M2212 3194h6M2193 3286h6M2169 3161h6M2247 3205h6M2263 3298h6M2225 3145h6M2201 3126h6M2217 3133h6M2235 3276h6M2221 3324h6M2247 3334h6M2210 3306h6M2198 3321h6M2174 3238h6M2241 3243h6M2207 3346h6M2228 3340h6M2202 3230h6M2261 3223h6M2211 3340h6M2248 3304h6" stroke="#111" stroke-width="6" transform="scale(.1)"/>
<path d="M2261 3184h6M2304 3326h6M2276 3206h6M2260 3279h6M2276 3143h6M2269 3269h6M2278 3175h6M2281 3274h6M2282 3276h6M2285 3203h6M2264 3345h6M2296 3327h6M2269 3283h6M2292 3175h6M2272 3086h6M2309 3368h6M2288 3250h6M2287 3221h6M2255 3228h6M2292 3302h6M2276 3235h6M2250 3365h6M2262 3215h6M2261 3212h6M2282 3320h6M2278 3374h6M2294 3338h6M2268 3222h6M2272 3347h6M2264 3221h6M2277 3260h6M2303 3349h6M2315 3364h6M2270 3392h6M2259 3213h6M2297 3203h6M2256 3248h6M2259 3230h6M2273 3345h6M2267 3209h6M2313 3358h6M2272 3254h6M2294 3223h6M2272 3364h6M2274 3342h6M2293 3216h6M2267 3353h6M2290 3361h6M2281 3220h6M2259 3253h6M2289 3158h6M2271 3211h6M2313 3402h6M2275 3196h6M2257 3298h6M2293 3337h6M2302 3320h6M2299 3319h6M2303 3253h6M2300 3145h6M2264 3231h6M2272 3224h6M2291 3306h6M2309 3370h6M2240 3166h6M2263 3258h6M2312 3143h6M2299 3314h6M2264 3171h6M2289 3254h6M2282 3167h6M2258 3210h6M2256 3349h6M2229 3268h6M2299 3306h6M2275 3260h6M2271 3217h6M2272 3233h6M2292 3177h6M2260 3192h6M2308 3257h6M2289 3293h6M2287 3159h6M2283 3349h6M2276 3310h6M2270 3266h6M2272 3357h6M2262 3175h6M2274 3223h6M2285 3356h6M2271 3280h6M2275 3330h6M2295 3373h6M2302 3237h6M2260 3248h6M2250 3231h6M2272 3223h6M2270 3366h6M2280 3276h6M2284 3280h6M2273 3309h6M2268 3200h6M2308 3260h6M2280 3311h6M2264 3180h6M2291 3320h6M2245 3226h6M2247 3133h6M2268 3394h6M2322 3271h6M2271 3260h6M2256 3308h6M2259 3265h6M2306 3340h6M2274 3380h6M2282 3338h6M2278 3275h6M2281 3213h6M2277 3241h6M2287 3203h6M2260 3307h6M2255 3235h6M2251 3215h6M2248 3352h6M2270 3351h6M2278 3353h6M2284 3340h6M2284 3144h6M2272 3186h6M2281 3308h6M2291 3196h6M2262 3309h6M2265 3232h6M2298 3269h6M2261 3375h6M2262 3241h6M2277 3327h6M2349 3275h6M2324 3220h6M2260 3331h6M2277 3135h6M2285 3303h6M2238 3221h6M2289 3167h6M2285 3355h6M2267 3251h6M2264 3267h6M2263 3304h6M2272 3275h6M2292 3289h6M2294 3171h6M2286 3243h6M2287 3320h6M2309 3267h6M2255 3238h6M2287 3210h6M2292 3264h6M2318 3333h6M2277 3294h6M2283 3345h6M2247 3221h6M2257 3192h6M2248 3280h6M2274 3264h6M2270 3172h6M2270 3243h6M2256 3262h6M2295 3369h6M2261 3192h6M2245 3347h6M2322 3405h6M2280 3344h6M2289 3331h6M2244 3309h6M2295 3287h6M2277 3278h6M2258 3164h6M2283 3263h6M2293 3340h6M2287 3248h6M2267 3279h6M2291 3305h6M2284 3199h6M2277 3213h6M2287 3208h6M2242 3092h6M2250 3226h6M2292 3217h6M2271 3253h6M2272 3315h6M2287 3174h6M2268 3214h6M2283 3340h6M2305 3273h6M2225 3304h6M2294 3313h6M2294 3307h6M2254 3276h6M2294 3165h6M2263 3387h6M2277 3295h6M2267 3388h6M2311 3286h6M2306 3332h6M2283 3342h6M2274 3195h6M2248 3395h6M2262 3243h6M2275 3338h6M2276 3288h6M2277 3221h6M2253 3231h6M2259 3278h6M2253 3380h6M2297 3209h6M2246 3410h6M2293 3282h6M2267 3317h6M2274 3291h6M2253 3202h6M2263 3157h6M2279 3237h6M2242 3301h6M2259 3151h6M2300 3256h6M2234 3400h6M2304 3302h6M2296 3194h6M2278 3337h6M2302 3233h6M2288 3278h6M2298 3286h6M2296 3300h6M2276 3346h6M2272 3333h6M2270 3293h6M2272 3223h6M2294 3308h6M2272 3145h6M2301 3280h6M2281 3250h6M2304 3262h6M2232 3279h6M2244 3247h6M2296 3195h6M2288 3298h6M2273 3288h6M2274 3270h6M2283 3178h6M2231 3325h6M2273 3268h6M2300 3290h6M2283 3291h6M2292 3164h6M2278 3297h6" stroke="#888" stroke-width="6" transform="scale(.1)"/>
<path d="M2313 3177h6M2317 3180h6M2366 3287h6M2256 3170h6M2413 3333h6M2367 3155h6M2353 3203h6M2453 3169h6M2301 3180h6M2355 3218h6M2343 3161h6M2353 3231h6M2346 3285h6M2270 3191h6M2356 3201h6M2330 3200h6M2343 3259h6M2317 3184h6M2378 3201h6M2325 3165h6M2307 3217h6M2397 3258h6M2344 3200h6M2391 3208h6M2422 3127h6M2390 3256h6M2354 3213h6M2283 3176h6M2408 3254h6M2349 3235h6M2366 3187h6M2314 3194h6M2475 3190h6M2326 3159h6M2349 3202h6M2294 3185h6M2350 3265h6M2336 3167h6M2360 3238h6M2289 3195h6M2361 3113h6M2418 3192h6M2302 3154h6M2378 3203h6M2366 3186h6M2371 3133h6M2391 3200h6M2354 3164h6M2306 3188h6M2221 3299h6M2276 3179h6M2243 3224h6M2420 3167h6M2315 3251h6M2350 3148h6M2358 3173h6M2312 3195h6M2453 3111h6M2382 3176h6M2346 3164h6M2335 3306h6M2466 3187h6M2343 3198h6M2370 3161h6M2328 3141h6M2406 3228h6M2348 3182h6M2341 3121h6M2323 3183h6M2423 3245h6M2322 3059h6M2320 3254h6M2427 3239h6M2341 3182h6M2360 3105h6M2331 3185h6M2396 3212h6M2366 3060h6M2374 3214h6M2359 3134h6M2383 3164h6M2320 3136h6M2414 3176h6M2392 3102h6M2378 3184h6M2374 3118h6M2293 3169h6M2328 3224h6M2384 3057h6M2400 3230h6M2281 3178h6M2401 3193h6M2310 3106h6M2436 3128h6M2306 3211h6M2415 3149h6M2333 3220h6M2423 3228h6M2390 3193h6M2360 3309h6M2312 3217h6M2298 3201h6M2375 3210h6M2297 3167h6M2341 3151h6M2402 3086h6M2299 3141h6M2386 3209h6M2373 3229h6M2407 3208h6M2381 3163h6M2437 3217h6M2317 3183h6M2379 3217h6M2312 3133h6M2291 3232h6M2355 3142h6M2300 3145h6M2371 3233h6M2447 3125h6M2244 3152h6M2374 3297h6M2457 3136h6M2384 3216h6M2396 3113h6M2366 3154h6M2398 3186h6M2350 3230h6M2403 3173h6M2446 3150h6M2405 3179h6M2253 3233h6M2419 3216h6M2377 3087h6M2351 3284h6M2302 3172h6M2402 3131h6M2446 3208h6M2363 3264h6M2239 3211h6M2264 3220h6M2426 3219h6M2254 3164h6M2312 3230h6M2362 3202h6M2349 3194h6M2440 3124h6M2343 3176h6M2350 3199h6M2378 3156h6M2313 3215h6M2365 3183h6M2418 3227h6M2328 3158h6M2369 3165h6M2378 3216h6M2339 3256h6M2428 3238h6M2355 3244h6M2330 3182h6M2330 3314h6M2398 3190h6M2289 3188h6M2301 3129h6M2332 3134h6M2380 3280h6M2369 3190h6M2378 3160h6M2383 3170h6M2365 3224h6M2324 3163h6M2407 3188h6M2385 3192h6M2265 3085h6M2379 3210h6M2315 3071h6M2298 3149h6M2352 3143h6M2336 3203h6M2389 3256h6M2356 3176h6M2481 3209h6M2391 3184h6M2371 3112h6M2310 3086h6M2229 3116h6M2471 3174h6M2321 3149h6M2444 3127h6M2354 3218h6M2426 3196h6M2348 3240h6M2402 3283h6M2357 3196h6M2346 3200h6M2357 3163h6M2392 3172h6M2383 3179h6M2288 3287h6M2369 3172h6M2444 3144h6M2352 3239h6M2313 3115h6M2291 3174h6M2346 3106h6M2380 3270h6M2342 3268h6M2426 3189h6M2368 3202h6M2371 3168h6M2310 3192h6M2413 3150h6M2375 3202h6M2317 3130h6M2462 3248h6M2342 3076h6M2369 3120h6M2337 3216h6M2339 3160h6M2435 3201h6M2443 3250h6M2374 3190h6M2374 3068h6M2232 3179h6M2323 3219h6M2450 3159h6M2345 3286h6M2395 3232h6M2354 3116h6M2319 3136h6M2353 3168h6M2301 3170h6M2329 3347h6M2312 3167h6M2359 3206h6M2450 3211h6M2310 3184h6M2370 3203h6M2331 3186h6M2289 3176h6M2352 3204h6M2285 3234h6M2319 3189h6M2258 3204h6M2342 3217h6M2341 3151h6M2462 3159h6M2356 3197h6M2341 3230h6M2329 3184h6M2286 3150h6M2385 3207h6M2385 3157h6M2323 3192h6M2315 3169h6M2350 3212h6M2299 3043h6M2331 3136h6M2385 3126h6M2355 3116h6M2274 3191h6M2339 3216h6M2423 3176h6M2350 3185h6M2307 3274h6M2305 3266h6M2329 3178h6M2294 3199h6M2326 3255h6M2312 3194h6M2476 3306h6M2360 3122h6M2351 3197h6M2371 3171h6M2296 3101h6M2327 3142h6M2340 3186h6M2360 3202h6M2338 3242h6M2424 3094h6M2297 3151h6M2345 3142h6M2374 3164h6M2392 3205h6M2376 3103h6M2344 3192h6M2314 3319h6M2293 3206h6M2311 3246h6M2299 3176h6M2202 3256h6M2341 3145h6M2384 3100h6M2399 3172h6M2360 3260h6M2346 3268h6M2347 3185h6M2366 3155h6M2432 3220h6M2379 3123h6M2398 3181h6M2372 3200h6M2352 3185h6M2328 3179h6M2415 3091h6M2348 3265h6M2387 3189h6M2373 3161h6M2332 3140h6M2300 3191h6M2379 3229h6M2441 3132h6M2318 3171h6M2391 3110h6M2447 3233h6M2368 3251h6M2410 3280h6M2413 3125h6M2413 3150h6M2332 3160h6M2322 3173h6M2329 3146h6M2408 3115h6M2254 3173h6M2352 3102h6M2359 3383h6M2323 3395h6M2282 3222h6M2236 3204h6M2336 3166h6M2348 3184h6M2332 3199h6M2303 3174h6M2405 3220h6M2326 3217h6M2350 3140h6M2324 3221h6M2317 3200h6M2378 3142h6M2314 3208h6M2397 3196h6M2352 3207h6M2392 3278h6M2402 3194h6M2313 3177h6M2251 3184h6M2362 3096h6M2300 3101h6M2374 3220h6M2287 3269h6M2352 3263h6M2308 3223h6M2388 3113h6M2360 3176h6M2438 3188h6M2380 3223h6M2343 3170h6M2293 3110h6M2384 3220h6M2285 3168h6M2300 3277h6M2387 3131h6M2377 3100h6M2406 3267h6M2350 3164h6M2340 3209h6M2437 3086h6M2356 3207h6M2395 3173h6M2325 3138h6M2456 3230h6M2388 3175h6M2415 3235h6M2361 3250h6M2290 3156h6M2372 3195h6M2319 3195h6M2341 3148h6M2442 3189h6M2268 3187h6M2345 3156h6M2337 3214h6M2408 3273h6M2404 3185h6M2334 3147h6M2386 3209h6M2390 3253h6M2329 3256h6M2404 3206h6M2400 3202h6M2419 3220h6M2419 3178h6M2350 3189h6M2346 3161h6M2317 3315h6M2458 3235h6M2369 3189h6M2385 3148h6M2372 3163h6M2398 3128h6M2384 3098h6M2441 3190h6M2381 3130h6M2430 3280h6M2371 3212h6M2357 3172h6M2344 3170h6M2339 3126h6M2376 3241h6M2357 3241h6M2304 3201h6M2296 3208h6M2355 3267h6M2340 3221h6M2370 3148h6M2450 3182h6M2423 3201h6M2317 3208h6M2371 3289h6M2367 3243h6M2430 3245h6M2409 3175h6M2249 3147h6M2349 3201h6M2325 3221h6M2348 3173h6M2346 3168h6M2408 3175h6M2394 3092h6M2353 3234h6M2423 3153h6M2449 3243h6M2424 3161h6M2385 3145h6M2289 3271h6M2337 3178h6M2411 3230h6M2390 3168h6M2356 3148h6M2391 3251h6M2295 3130h6M2426 3213h6M2387 3208h6M2351 3185h6M2416 3143h6M2342 3186h6M2268 3264h6M2361 3143h6M2444 3149h6M2353 3198h6M2348 3228h6M2331 3184h6M2272 3202h6M2450 3228h6M2312 3187h6M2415 3212h6M2274 3133h6M2378 3146h6M2343 3203h6M2381 3052h6M2354 3207h6M2420 3172h6M2389 3123h6M2367 3086h6M2336 3298h6M2410 3124h6M2332 3120h6M2382 3256h6M2298 3205h6M2396 3184h6M2346 3218h6M2329 3277h6M2465 3205h6M2360 3190h6M2365 3090h6M2439 3157h6M2367 3258h6M2463 3176h6M2342 3181h6M2361 3271h6M2305 3217h6M2407 3112h6M2329 3134h6M2337 3248h6M2391 3229h6M2327 3162h6M2378 3240h6M2382 3154h6M2279 3279h6M2348 3271h6M2317 3302h6M2327 3166h6M2272 3233h6M2328 3203h6M2332 3171h6M2320 3248h6M2302 3116h6M2291 3212h6M2321 3144h6M2376 3143h6M2386 3265h6M2430 3320h6M2392 3293h6M2308 3211h6M2391 3158h6M2348 3283h6M2332 3145h6M2345 3248h6M2386 3296h6M2288 3156h6M2341 3212h6M2310 3200h6M2302 3231h6M2370 3189h6M2330 3150h6M2410 3163h6M2229 3189h6M2367 3103h6M2369 3298h6M2382 3141h6M2377 3108h6M2353 3140h6M2375 3208h6M2338 3242h6M2356 3184h6M2406 3174h6M2308 3154h6M2405 3112h6M2342 3127h6M2342 3141h6M2345 3152h6M2463 3163h6M2422 3183h6M2282 3214h6M2343 3158h6M2416 3219h6M2210 3233h6M2368 3197h6M2334 3219h6M2289 3151h6M2382 3188h6M2313 3224h6M2393 3188h6M2341 3179h6M2371 3179h6M2322 3215h6M2339 3195h6M2420 3294h6M2373 3260h6M2382 3165h6M2317 3170h6M2359 3207h6M2395 3209h6M2383 3139h6M2272 3160h6M2389 3203h6M2486 3234h6M2313 3228h6M2331 3160h6M2333 3258h6M2430 3159h6M2245 3082h6M2364 3277h6M2426 3144h6M2451 3236h6M2253 3232h6M2444 3214h6M2384 3124h6M2306 3121h6M2343 3313h6M2329 3192h6M2329 3156h6M2317 3154h6M2408 3078h6M2410 3211h6M2324 3193h6M2459 3181h6M2283 3121h6M2300 3185h6M2259 3232h6M2341 3161h6M2393 3182h6M2283 3171h6M2391 3133h6M2399 3128h6M2377 3187h6M2403 3237h6M2345 3288h6M2385 3170h6M2421 3152h6M2276 3202h6M2386 3194h6M2366 3149h6M2429 3106h6M2276 3100h6M2394 3185h6M2282 3291h6M2350 3162h6M2392 3145h6M2348 3219h6M2343 3197h6M2345 3178h6M2396 3196h6M2366 3181h6M2337 3166h6M2372 3221h6M2329 3185h6M2368 3187h6M2416 3154h6M2424 3270h6M2298 3168h6M2379 3269h6M2318 3160h6M2416 3205h6M2397 3243h6M2411 3195h6M2400 3149h6M2348 3205h6M2338 3211h6M2392 3077h6M2314 3196h6M2306 3177h6M2412 3231h6M2410 3213h6M2334 3194h6M2319 3223h6M2328 3189h6M2301 3259h6M2415 3204h6M2317 3292h6M2332 3223h6M2415 3218h6M2324 3198h6M2305 3196h6M2305 3164h6M2442 3171h6M2339 3190h6M2310 3202h6M2391 3148h6M2391 3198h6M2307 3213h6M2342 3189h6M2309 3200h6M2314 3164h6M2321 3215h6M2451 3129h6M2377 3125h6M2295 3168h6M2334 3212h6M2324 3227h6M2401 3126h6M2314 3196h6M2400 3099h6M2383 3191h6M2350 3155h6M2396 3213h6M2370 3138h6M2356 3309h6M2278 3122h6M2330 3176h6M2463 3203h6M2364 3131h6M2404 3266h6M2418 3155h6M2345 3243h6M2363 3169h6M2371 3225h6M2336 3120h6M2387 3215h6M2256 3200h6M2398 3182h6M2323 3175h6M2316 3105h6M2357 3171h6M2365 3191h6M2366 3232h6M2369 3214h6M2277 3189h6M2344 3096h6M2322 3260h6M2427 3263h6M2367 3228h6M2312 3241h6M2501 3084h6M2406 3201h6M2446 3225h6M2420 3284h6M2340 3188h6M2420 3182h6M2329 3168h6M2362 3198h6M2405 3255h6M2393 3143h6M2334 3129h6M2313 3130h6M2335 3139h6M2334 3123h6M2292 3137h6M2365 3201h6M2369 3313h6M2401 3185h6M2347 3186h6M2357 3211h6M2277 3215h6M2324 3195h6M2355 3242h6M2403 3185h6M2347 3222h6M2363 3254h6M2431 3211h6M2397 3184h6M2286 3115h6M2296 3251h6M2397 3203h6M2324 3145h6M2467 3264h6M2379 3136h6M2441 3123h6M2302 3263h6M2349 3158h6M2344 3263h6M2400 3159h6M2422 3273h6M2365 3160h6M2407 3185h6M2259 3259h6M2361 3210h6M2394 3251h6M2401 3202h6M2309 3088h6M2404 3174h6M2459 3206h6M2461 3219h6M2354 3190h6M2451 3181h6M2457 3223h6M2351 3229h6M2282 3190h6M2399 3112h6M2344 3202h6M2329 3162h6M2350 3181h6M2250 3188h6M2335 3243h6M2421 3160h6M2342 3197h6M2372 3147h6M2408 3182h6M2371 3185h6M2427 3192h6M2401 3342h6M2384 3213h6M2414 3252h6M2275 3184h6M2463 3159h6M2381 3133h6M2339 3092h6M2385 3202h6M2372 3186h6M2382 3151h6M2361 3187h6M2404 3128h6M2295 3229h6M2315 3263h6M2384 3232h6M2508 3130h6M2350 3199h6M2250 3197h6M2400 3232h6M2346 3239h6M2368 3051h6M2351 3207h6M2331 3169h6M2419 3299h6M2377 3182h6M2367 3181h6M2293 3198h6M2385 3246h6M2441 3211h6M2343 3134h6M2310 3151h6M2319 3129h6M2386 3161h6M2445 3231h6M2334 3192h6M2324 3223h6M2437 3103h6M2376 3145h6M2328 3218h6M2379 3199h6M2372 3135h6M2324 3199h6M2331 3235h6M2395 3141h6M2441 3136h6M2394 3199h6M2427 3187h6M2422 3246h6M2469 3241h6M2340 3223h6M2392 3295h6M2374 3172h6M2420 3197h6M2363 3238h6M2337 3244h6M2326 3158h6M2413 3151h6M2373 3244h6M2294 3287h6M2382 3144h6M2388 3255h6M2408 3142h6M2368 3262h6M2285 3203h6M2255 3155h6M2359 3177h6M2383 3290h6M2328 3140h6M2410 3209h6M2447 3140h6M2296 3240h6M2268 3137h6M2318 3214h6M2327 3186h6M2384 3241h6M2397 3166h6M2373 3250h6M2388 3199h6M2374 3279h6M2447 3222h6M2395 3170h6M2402 3144h6M2333 3188h6M2459 3177h6M2352 3180h6M2335 3175h6M2341 3183h6M2374 3229h6M2391 3211h6M2341 3092h6M2336 3244h6M2445 3248h6M2336 3150h6M2369 3258h6M2342 3296h6M2406 3230h6M2403 3158h6M2302 3206h6M2338 3230h6M2321 3171h6M2308 3245h6M2358 3116h6M2384 3221h6M2341 3176h6M2314 3240h6M2350 3216h6M2290 3171h6M2384 3127h6M2449 3207h6M2374 3207h6M2358 3201h6M2373 3292h6M2335 3215h6M2312 3174h6M2288 3191h6M2385 3212h6M2297 3169h6M2403 3209h6M2388 3123h6M2342 3232h6M2316 3201h6M2420 3186h6M2354 3289h6M2309 3190h6M2352 3123h6M2348 3153h6M2377 3218h6M2441 3206h6M2392 3191h6M2286 3209h6M2246 3273h6M2450 3205h6M2249 3174h6M2327 3166h6M2371 3196h6M2394 3221h6M2249 3111h6M2293 3208h6M2331 3207h6M2392 3130h6M2274 3170h6M2368 3218h6M2294 3206h6M2362 3114h6M2301 3275h6M2357 3226h6M2421 3174h6M2327 3157h6M2286 3123h6M2336 3211h6" stroke="#7a7a7a" stroke-width="6" transform="scale(.1)"/>
<path d="M2346 3170h6M2363 3139h6M2351 3188h6M2394 3204h6M2377 3186h6M2469 3172h6M2359 3177h6M2387 3201h6M2387 3174h6M2375 3192h6M2353 3200h6M2418 3225h6M2371 3182h6M2350 3198h6M2340 3193h6M2418 3168h6M2380 3155h6M2438 3197h6M2430 3171h6M2404 3162h6M2353 3153h6M2425 3234h6M2399 3207h6M2366 3170h6M2386 3180h6M2396 3175h6M2364 3194h6M2371 3165h6M2398 3210h6M2402 3136h6M2342 3181h6M2355 3200h6M2376 3214h6M2386 3210h6M2370 3186h6M2385 3157h6M2374 3156h6M2326 3140h6M2372 3180h6M2348 3144h6M2395 3147h6M2379 3171h6M2353 3202h6M2376 3186h6M2390 3164h6M2360 3183h6M2396 3195h6M2386 3150h6M2372 3203h6M2365 3182h6M2345 3168h6M2391 3201h6M2370 3165h6M2389 3176h6M2388 3215h6M2374 3176h6M2396 3213h6M2392 3203h6M2374 3164h6M2406 3207h6M2398 3210h6M2359 3124h6M2377 3205h6M2396 3171h6M2409 3173h6M2413 3168h6M2418 3164h6M2374 3155h6M2310 3187h6M2383 3179h6M2406 3138h6M2437 3215h6M2398 3206h6M2362 3217h6M2369 3115h6M2362 3176h6M2346 3174h6M2395 3198h6M2379 3180h6M2397 3158h6M2392 3185h6M2353 3150h6M2385 3201h6M2418 3140h6M2405 3209h6M2378 3244h6M2370 3193h6M2382 3227h6M2358 3167h6M2376 3243h6M2374 3225h6M2391 3179h6M2345 3217h6M2364 3152h6M2402 3224h6M2381 3194h6M2382 3201h6M2339 3211h6M2363 3146h6M2355 3202h6M2364 3188h6M2393 3161h6M2393 3167h6M2385 3176h6M2383 3181h6M2412 3206h6M2381 3173h6M2398 3181h6M2370 3240h6M2402 3182h6M2350 3221h6M2340 3178h6M2412 3137h6M2389 3167h6M2389 3175h6M2391 3191h6M2391 3149h6M2398 3198h6M2409 3171h6M2336 3206h6M2402 3208h6M2358 3188h6M2431 3156h6M2371 3194h6M2360 3177h6M2363 3172h6M2336 3206h6M2389 3138h6M2354 3137h6M2388 3190h6M2372 3176h6M2421 3175h6M2378 3160h6M2361 3222h6M2401 3185h6M2404 3135h6M2394 3139h6M2403 3207h6M2376 3196h6M2381 3207h6M2380 3197h6M2376 3189h6M2358 3133h6M2394 3200h6M2404 3219h6M2412 3193h6M2408 3192h6M2351 3194h6M2373 3158h6M2385 3192h6M2335 3208h6M2392 3189h6M2353 3153h6M2409 3207h6M2412 3158h6M2367 3194h6M2398 3116h6M2355 3181h6M2387 3201h6M2398 3195h6M2339 3157h6M2391 3234h6M2364 3190h6M2373 3204h6M2437 3159h6M2377 3170h6M2352 3195h6M2369 3128h6M2399 3196h6M2373 3206h6M2394 3142h6M2383 3126h6M2365 3181h6M2391 3149h6M2348 3164h6M2375 3161h6M2335 3207h6M2395 3199h6M2414 3145h6M2332 3147h6M2401 3145h6M2364 3158h6M2400 3174h6M2402 3208h6M2365 3184h6M2336 3157h6M2364 3177h6M2369 3165h6M2436 3182h6M2416 3138h6M2374 3165h6M2381 3157h6M2360 3150h6M2382 3181h6M2408 3211h6M2324 3202h6M2410 3179h6M2389 3210h6M2418 3202h6M2453 3136h6M2341 3152h6M2411 3186h6M2380 3143h6M2368 3178h6M2362 3186h6M2398 3204h6M2384 3199h6M2369 3162h6M2399 3191h6M2396 3155h6M2372 3175h6M2421 3211h6M2363 3178h6M2327 3188h6M2396 3169h6M2371 3178h6M2378 3197h6M2394 3190h6M2336 3163h6M2428 3209h6M2402 3192h6M2380 3198h6M2377 3192h6M2417 3165h6M2371 3229h6M2358 3181h6M2343 3223h6M2331 3183h6M2331 3164h6M2361 3173h6M2427 3148h6M2398 3156h6M2384 3158h6M2368 3193h6M2381 3151h6M2378 3179h6M2392 3175h6M2396 3125h6M2360 3204h6M2362 3131h6M2362 3161h6M2348 3172h6M2352 3229h6M2409 3175h6M2409 3172h6M2359 3189h6M2390 3143h6M2382 3185h6M2391 3182h6M2393 3195h6M2362 3178h6M2389 3199h6M2381 3163h6M2378 3145h6M2376 3189h6M2388 3155h6M2349 3154h6M2399 3171h6M2367 3188h6M2350 3195h6M2382 3188h6M2359 3146h6M2411 3151h6M2386 3190h6M2389 3208h6M2369 3151h6M2395 3183h6M2345 3210h6M2342 3157h6M2379 3172h6M2401 3168h6M2417 3205h6M2395 3217h6M2297 3201h6M2374 3178h6M2367 3169h6M2410 3225h6M2369 3182h6M2377 3184h6M2365 3167h6M2356 3222h6M2426 3176h6M2391 3124h6M2349 3150h6M2341 3209h6M2383 3180h6M2382 3186h6M2364 3186h6M2382 3197h6M2363 3185h6M2403 3156h6M2368 3211h6M2387 3166h6M2302 3196h6M2392 3185h6M2359 3153h6M2404 3172h6M2342 3165h6M2371 3151h6M2386 3147h6M2371 3175h6M2343 3237h6M2375 3204h6M2317 3166h6M2418 3175h6M2367 3153h6M2414 3159h6M2374 3172h6M2364 3194h6M2329 3153h6M2369 3166h6M2420 3174h6M2406 3201h6M2341 3132h6M2358 3173h6M2392 3159h6M2357 3176h6M2392 3190h6M2382 3138h6M2354 3145h6M2368 3131h6M2356 3205h6M2383 3227h6M2351 3161h6M2370 3179h6M2414 3189h6M2327 3152h6M2377 3181h6M2400 3183h6M2417 3150h6" stroke="#333" stroke-width="6" transform="scale(.1)"/>
<path d="M2348 3360h6M2362 3305h6M2402 3366h6M2381 3376h6M2346 3360h6M2339 3350h6M2382 3363h6M2323 3353h6M2361 3336h6M2395 3333h6M2357 3338h6M2337 3388h6M2346 3323h6M2391 3400h6M2359 3325h6M2390 3318h6M2399 3345h6M2333 3358h6M2385 3367h6M2364 3374h6M2397 3388h6M2381 3373h6M2349 3341h6M2351 3343h6M2352 3319h6M2371 3332h6M2373 3383h6M2366 3347h6M2399 3336h6M2370 3344h6M2361 3346h6M2366 3377h6M2399 3338h6M2336 3354h6M2336 3326h6M2349 3380h6M2379 3351h6M2409 3362h6M2386 3348h6M2360 3347h6M2366 3359h6M2386 3368h6M2397 3359h6M2347 3364h6M2366 3326h6M2363 3352h6M2322 3342h6M2328 3343h6M2380 3365h6M2365 3325h6M2353 3377h6M2335 3392h6M2385 3320h6M2353 3397h6M2348 3366h6M2387 3330h6M2359 3382h6M2360 3407h6M2394 3358h6M2386 3377h6M2377 3401h6M2378 3363h6M2381 3362h6M2375 3363h6M2348 3392h6M2397 3373h6M2388 3357h6M2396 3359h6M2358 3404h6M2365 3322h6M2350 3331h6M2365 3364h6M2359 3353h6M2374 3385h6M2370 3356h6M2331 3331h6M2337 3381h6M2350 3370h6M2364 3385h6M2333 3369h6M2395 3362h6M2371 3322h6M2338 3367h6M2364 3387h6M2360 3366h6M2329 3352h6M2368 3403h6M2371 3371h6M2350 3303h6M2373 3370h6M2390 3375h6M2390 3331h6M2348 3333h6M2359 3335h6M2337 3342h6M2355 3352h6M2352 3354h6M2396 3360h6M2343 3391h6M2336 3377h6M2364 3350h6M2350 3342h6M2384 3349h6M2374 3376h6M2369 3339h6M2362 3352h6M2388 3348h6M2387 3311h6M2359 3383h6M2328 3371h6M2372 3375h6M2376 3395h6M2367 3386h6M2367 3349h6M2351 3388h6M2366 3376h6M2368 3404h6M2356 3387h6M2362 3414h6M2330 3366h6M2345 3361h6M2396 3372h6M2356 3408h6M2350 3353h6M2349 3373h6M2376 3364h6M2396 3342h6M2371 3332h6M2377 3324h6M2337 3364h6M2362 3352h6M2407 3375h6M2356 3316h6M2356 3360h6M2385 3308h6M2374 3357h6M2398 3341h6M2369 3403h6M2331 3364h6M2400 3349h6M2365 3362h6M2357 3378h6M2381 3355h6M2373 3334h6M2364 3310h6M2391 3372h6M2360 3365h6M2407 3352h6M2383 3405h6M2357 3368h6M2366 3373h6M2341 3346h6M2370 3330h6M2344 3383h6M2327 3371h6M2353 3383h6M2370 3330h6M2370 3354h6M2387 3382h6M2381 3384h6M2354 3357h6M2378 3392h6M2356 3342h6M2333 3401h6M2402 3386h6M2355 3331h6M2371 3314h6M2376 3357h6M2377 3389h6M2372 3374h6M2367 3329h6M2368 3357h6M2358 3382h6M2335 3387h6M2359 3352h6M2342 3373h6M2350 3369h6M2388 3366h6M2338 3342h6M2365 3337h6M2377 3361h6M2374 3355h6M2367 3335h6M2333 3338h6M2359 3365h6M2373 3362h6M2373 3364h6M2330 3353h6M2396 3324h6M2373 3350h6M2370 3341h6M2357 3355h6M2330 3385h6M2339 3360h6M2384 3329h6M2357 3342h6M2327 3338h6M2401 3333h6M2381 3324h6M2355 3337h6M2371 3362h6M2350 3369h6M2373 3346h6M2360 3379h6M2386 3389h6M2387 3347h6M2369 3385h6M2359 3362h6M2352 3363h6M2367 3317h6M2364 3369h6M2385 3358h6M2328 3374h6M2358 3368h6M2336 3344h6M2378 3331h6M2357 3363h6M2363 3363h6M2333 3385h6M2358 3379h6M2339 3394h6M2387 3397h6M2364 3392h6M2370 3392h6M2347 3406h6M2367 3310h6M2381 3329h6M2324 3345h6M2351 3331h6M2351 3407h6M2374 3353h6M2366 3377h6M2338 3315h6M2379 3356h6M2345 3345h6M2345 3384h6M2358 3356h6M2382 3401h6M2398 3367h6M2377 3353h6M2363 3345h6M2360 3348h6M2391 3370h6M2347 3351h6M2346 3334h6M2341 3339h6M2352 3316h6M2362 3375h6M2408 3379h6M2375 3379h6M2345 3354h6" stroke="#555" stroke-width="6" transform="scale(.1)"/>
</g>
<rect x="216.3" y="299.5" width="43.89999999999998" height="43.10000000000002" fill="none" stroke="#858585" stroke-width="0.8"/>
<line x1="215.10000000000002" y1="299.5" x2="216.3" y2="299.5" stroke="#888" stroke-width="0.5"/>
<rect x="212.9" y="298.8" width="1.4" height="1.4" fill="#b0b0b0"/>
<line x1="215.10000000000002" y1="310.275" x2="216.3" y2="310.275" stroke="#888" stroke-width="0.5"/>
<rect x="212.9" y="309.575" width="1.4" height="1.4" fill="#b0b0b0"/>
<line x1="215.10000000000002" y1="321.05" x2="216.3" y2="321.05" stroke="#888" stroke-width="0.5"/>
<rect x="212.9" y="320.35" width="1.4" height="1.4" fill="#b0b0b0"/>
<line x1="215.10000000000002" y1="331.82500000000005" x2="216.3" y2="331.82500000000005" stroke="#888" stroke-width="0.5"/>
<rect x="212.9" y="331.12500000000006" width="1.4" height="1.4" fill="#b0b0b0"/>
<line x1="215.10000000000002" y1="342.6" x2="216.3" y2="342.6" stroke="#888" stroke-width="0.5"/>
<rect x="212.9" y="341.90000000000003" width="1.4" height="1.4" fill="#b0b0b0"/>
<line x1="216.3" y1="342.6" x2="216.3" y2="343.8" stroke="#888" stroke-width="0.5"/>
<rect x="215.60000000000002" y="344.40000000000003" width="1.4" height="1.4" fill="#b0b0b0"/>
<line x1="227.275" y1="342.6" x2="227.275" y2="343.8" stroke="#888" stroke-width="0.5"/>
<rect x="226.57500000000002" y="344.40000000000003" width="1.4" height="1.4" fill="#b0b0b0"/>
<line x1="238.25" y1="342.6" x2="238.25" y2="343.8" stroke="#888" stroke-width="0.5"/>
<rect x="237.55" y="344.40000000000003" width="1.4" height="1.4" fill="#b0b0b0"/>
<line x1="249.225" y1="342.6" x2="249.225" y2="343.8" stroke="#888" stroke-width="0.5"/>
<rect x="248.525" y="344.40000000000003" width="1.4" height="1.4" fill="#b0b0b0"/>
<line x1="260.2" y1="342.6" x2="260.2" y2="343.8" stroke="#888" stroke-width="0.5"/>
<rect x="259.5" y="344.40000000000003" width="1.4" height="1.4" fill="#b0b0b0"/>
<ellipse cx="236.4" cy="335.9" rx="4.85" ry="5.75" fill="none" stroke="#111" stroke-width="1.9"/>
<line x1="241.3" y1="336.2" x2="263.2" y2="336.2" stroke="#111" stroke-width="1.5"/>
<path d="M267.70,336.20 L262.70,339.10 L262.70,333.30Z" fill="#111"/>
<clipPath id="cp35"><rect x="404.6" y="217.5" width="43.299999999999976" height="43.30000000000003"/></clipPath>
<g clip-path="url(#cp35)">
<ellipse cx="409.8" cy="240.3" rx="4.3" ry="6.0" fill="#000" opacity="1" filter="url(#b7)"/>
<ellipse cx="409.8" cy="256.3" rx="4.3" ry="4.2" fill="#000" opacity="1" filter="url(#b7)"/>
<path d="M4057 2375h6M4079 2464h6M4098 2342h6M4090 2349h6M4100 2396h6M4140 2412h6M4091 2424h6M4105 2392h6M4133 2365h6M4066 2406h6M4049 2365h6M4129 2358h6M4124 2420h6M4085 2373h6M4115 2345h6M4139 2442h6M4132 2371h6M4106 2378h6M4075 2418h6M4057 2395h6M4081 2381h6M4095 2385h6M4059 2416h6M4133 2372h6M4110 2365h6M4079 2407h6M4093 2473h6M4095 2372h6M4055 2403h6M4132 2384h6M4139 2392h6M4080 2427h6M4069 2399h6M4061 2411h6M4093 2399h6M4068 2435h6M4077 2429h6M4079 2467h6M4094 2353h6M4114 2369h6M4094 2382h6M4102 2364h6M4118 2430h6M4079 2391h6M4111 2369h6M4128 2444h6M4111 2444h6M4105 2405h6M4125 2459h6M4085 2408h6M4086 2399h6M4089 2382h6M4101 2413h6M4094 2422h6M4064 2387h6M4096 2360h6M4069 2447h6M4088 2462h6M4111 2465h6M4106 2431h6M4107 2468h6M4079 2464h6M4119 2454h6M4122 2432h6M4145 2383h6M4125 2387h6M4118 2409h6M4101 2389h6M4132 2446h6M4099 2408h6M4070 2407h6M4128 2407h6M4062 2402h6M4065 2393h6M4064 2361h6M4105 2460h6M4123 2422h6M4081 2340h6M4096 2380h6M4105 2429h6M4068 2391h6M4082 2361h6M4133 2437h6M4115 2362h6M4107 2446h6M4132 2405h6M4111 2338h6M4125 2352h6M4113 2419h6M4064 2377h6M4104 2395h6M4116 2465h6M4048 2414h6M4157 2385h6M4113 2414h6M4091 2414h6M4083 2411h6M4086 2396h6M4071 2350h6M4138 2410h6M4075 2358h6M4135 2409h6M4111 2417h6M4111 2401h6M4089 2346h6M4057 2383h6M4068 2431h6M4074 2416h6M4122 2429h6M4092 2348h6M4133 2400h6M4131 2435h6M4122 2383h6M4128 2379h6M4062 2419h6M4132 2388h6M4101 2350h6M4087 2364h6M4138 2421h6M4086 2381h6M4098 2464h6M4087 2417h6M4074 2414h6M4058 2460h6M4075 2419h6M4130 2433h6M4118 2445h6M4052 2403h6M4073 2458h6M4051 2374h6M4120 2347h6M4116 2376h6M4118 2378h6M4148 2429h6M4112 2401h6M4060 2423h6M4120 2417h6M4123 2414h6M4104 2341h6M4076 2438h6M4088 2375h6M4115 2442h6M4129 2383h6M4067 2432h6M4122 2382h6M4062 2406h6M4062 2353h6M4111 2354h6M4080 2454h6M4103 2380h6M4142 2435h6M4121 2417h6M4077 2418h6M4100 2348h6M4123 2460h6M4080 2403h6M4073 2357h6M4133 2403h6M4094 2425h6M4091 2412h6M4129 2455h6M4080 2390h6M4144 2375h6M4111 2421h6M4098 2375h6M4058 2402h6M4052 2407h6M4074 2378h6M4079 2400h6M4110 2432h6M4109 2393h6M4127 2382h6M4101 2406h6M4114 2380h6M4116 2368h6M4110 2332h6M4096 2367h6M4075 2446h6M4078 2414h6M4100 2416h6M4116 2406h6M4087 2384h6M4133 2389h6M4093 2399h6M4110 2378h6M4125 2441h6M4113 2405h6M4098 2388h6M4094 2364h6M4088 2349h6M4063 2423h6M4120 2428h6M4123 2389h6M4099 2424h6M4072 2436h6M4107 2416h6M4108 2439h6M4072 2396h6M4109 2347h6M4062 2420h6M4091 2437h6M4145 2440h6M4069 2444h6M4113 2400h6M4072 2411h6M4129 2418h6M4116 2366h6M4108 2407h6M4076 2449h6M4123 2412h6M4121 2373h6M4067 2361h6M4144 2424h6M4075 2425h6M4118 2360h6M4106 2453h6M4111 2391h6M4104 2451h6M4083 2420h6M4108 2342h6M4071 2431h6M4111 2414h6M4063 2435h6M4061 2419h6M4082 2443h6M4090 2398h6M4088 2410h6M4098 2469h6M4080 2351h6M4103 2397h6M4075 2468h6M4082 2348h6M4132 2401h6M4094 2342h6M4125 2427h6M4123 2370h6M4057 2431h6M4104 2430h6M4134 2386h6M4051 2427h6M4136 2384h6M4105 2451h6M4082 2466h6M4137 2391h6M4051 2400h6M4098 2355h6M4079 2414h6M4137 2429h6M4066 2403h6M4077 2344h6M4140 2418h6M4080 2398h6M4085 2408h6M4092 2364h6M4108 2447h6M4103 2393h6M4061 2398h6M4107 2381h6M4078 2370h6M4083 2415h6M4130 2401h6M4136 2395h6M4098 2428h6M4067 2360h6M4106 2375h6M4062 2414h6M4136 2387h6M4058 2371h6M4081 2401h6M4079 2351h6M4111 2421h6M4117 2432h6M4073 2432h6M4131 2442h6M4129 2383h6M4114 2402h6M4123 2396h6M4093 2378h6M4084 2395h6M4091 2452h6M4109 2395h6M4110 2421h6M4070 2363h6M4081 2363h6M4065 2370h6M4104 2330h6M4055 2407h6M4077 2427h6M4082 2337h6M4123 2401h6M4102 2349h6M4108 2437h6M4124 2413h6M4100 2355h6M4076 2446h6M4096 2338h6M4090 2457h6M4106 2371h6M4056 2436h6" stroke="#111" stroke-width="6" transform="scale(.1)"/>
<path d="M4127 2596h6M4111 2521h6M4075 2543h6M4123 2531h6M4077 2563h6M4109 2527h6M4110 2540h6M4098 2568h6M4069 2547h6M4129 2600h6M4075 2585h6M4095 2566h6M4089 2553h6M4101 2540h6M4109 2589h6M4078 2594h6M4062 2564h6M4068 2547h6M4116 2594h6M4123 2542h6M4104 2521h6M4051 2555h6M4105 2561h6M4070 2594h6M4050 2590h6M4096 2566h6M4116 2575h6M4128 2546h6M4131 2578h6M4102 2586h6M4108 2580h6M4134 2535h6M4081 2566h6M4145 2559h6M4107 2558h6M4084 2589h6M4130 2526h6M4103 2552h6M4051 2587h6M4093 2576h6M4087 2576h6M4087 2532h6M4084 2559h6M4086 2603h6M4090 2581h6M4067 2596h6M4081 2550h6M4075 2602h6M4094 2532h6M4109 2580h6M4150 2574h6M4055 2553h6M4065 2519h6M4051 2567h6M4088 2581h6M4098 2508h6M4095 2550h6M4097 2548h6M4108 2570h6M4096 2605h6M4142 2552h6M4096 2573h6M4095 2566h6M4122 2586h6M4110 2545h6M4111 2533h6M4108 2529h6M4086 2563h6M4058 2559h6M4121 2564h6M4103 2527h6M4086 2550h6M4054 2542h6M4132 2540h6M4079 2559h6M4114 2564h6M4126 2566h6M4059 2547h6M4113 2528h6M4086 2596h6M4126 2589h6M4112 2532h6M4110 2578h6M4080 2574h6M4079 2521h6M4081 2567h6M4121 2553h6M4095 2564h6M4097 2587h6M4083 2581h6M4076 2582h6M4092 2551h6M4066 2541h6M4091 2563h6M4145 2567h6M4083 2532h6M4090 2527h6M4055 2568h6M4052 2551h6M4131 2580h6M4065 2557h6M4121 2550h6M4135 2593h6M4077 2540h6M4085 2523h6M4087 2562h6M4107 2588h6M4071 2563h6M4116 2538h6M4068 2582h6M4095 2533h6M4138 2551h6M4105 2570h6M4079 2595h6M4054 2564h6M4066 2586h6M4103 2560h6M4079 2603h6M4135 2570h6M4088 2527h6M4100 2556h6M4113 2560h6M4086 2520h6M4099 2552h6M4122 2572h6M4105 2581h6M4111 2528h6M4098 2558h6M4094 2577h6M4081 2566h6M4053 2565h6M4135 2567h6M4088 2564h6M4100 2568h6M4064 2562h6M4052 2555h6M4095 2516h6M4084 2561h6M4090 2590h6M4139 2565h6M4115 2547h6M4071 2561h6M4060 2591h6M4059 2587h6M4101 2527h6M4119 2592h6M4090 2533h6M4104 2517h6M4082 2586h6M4059 2550h6M4127 2589h6M4076 2537h6M4093 2557h6M4096 2570h6M4087 2545h6M4097 2573h6M4112 2540h6M4142 2573h6M4118 2520h6M4068 2546h6M4079 2597h6M4097 2571h6M4126 2539h6M4098 2562h6M4072 2542h6M4065 2546h6M4111 2580h6M4124 2523h6M4086 2532h6M4106 2571h6M4078 2571h6M4064 2587h6M4072 2580h6M4113 2565h6M4115 2524h6M4090 2573h6M4112 2595h6M4120 2569h6M4137 2560h6M4104 2577h6M4051 2555h6M4091 2578h6M4056 2594h6M4081 2551h6M4125 2537h6M4111 2575h6M4107 2590h6M4098 2595h6M4130 2544h6M4090 2547h6M4074 2528h6M4125 2547h6M4094 2584h6M4078 2564h6M4137 2589h6M4113 2592h6M4080 2532h6M4073 2594h6M4093 2583h6M4113 2554h6M4109 2579h6M4065 2568h6M4122 2589h6M4076 2551h6M4078 2565h6M4111 2565h6M4140 2561h6M4129 2593h6M4132 2584h6M4059 2574h6M4130 2562h6M4108 2539h6M4085 2527h6M4109 2557h6M4107 2566h6M4094 2532h6M4140 2545h6M4107 2604h6M4114 2569h6M4089 2531h6M4091 2568h6M4131 2590h6M4090 2563h6M4100 2572h6M4110 2587h6M4076 2564h6M4116 2528h6M4081 2518h6M4069 2592h6M4118 2590h6M4107 2567h6M4080 2586h6M4132 2526h6M4084 2554h6M4069 2573h6M4114 2579h6M4050 2561h6M4128 2578h6M4121 2549h6M4114 2534h6M4073 2559h6M4087 2566h6M4101 2561h6M4071 2572h6M4082 2572h6M4106 2521h6M4095 2566h6M4102 2569h6M4084 2588h6M4065 2580h6M4060 2581h6M4109 2560h6M4102 2556h6M4082 2583h6M4090 2532h6M4077 2593h6M4122 2534h6M4077 2546h6M4083 2550h6M4088 2516h6M4142 2549h6M4125 2581h6M4096 2518h6M4110 2556h6M4125 2574h6M4068 2599h6M4077 2548h6M4096 2556h6M4106 2545h6M4065 2597h6M4067 2562h6M4098 2602h6M4136 2549h6M4082 2566h6M4108 2527h6M4136 2558h6M4091 2600h6" stroke="#111" stroke-width="6" transform="scale(.1)"/>
<path d="M4066 2491h6M4078 2481h6M4064 2510h6M4117 2477h6M4097 2502h6M4118 2508h6M4099 2461h6M4103 2475h6M4116 2506h6M4133 2501h6M4075 2483h6M4120 2453h6M4124 2496h6M4120 2470h6M4073 2493h6M4127 2492h6M4093 2490h6M4088 2508h6M4101 2496h6M4072 2481h6M4111 2502h6M4081 2500h6M4088 2491h6M4099 2501h6M4114 2495h6M4081 2498h6M4083 2483h6M4117 2515h6M4108 2485h6M4108 2507h6M4088 2499h6M4147 2460h6M4087 2503h6M4055 2496h6M4097 2480h6M4111 2501h6M4109 2484h6M4101 2498h6M4089 2495h6M4099 2477h6M4115 2477h6M4072 2473h6M4114 2491h6M4135 2478h6M4091 2490h6M4097 2487h6M4117 2476h6M4091 2511h6M4080 2486h6M4068 2508h6M4114 2483h6M4071 2484h6M4103 2488h6M4091 2476h6M4090 2481h6M4090 2478h6M4097 2487h6M4076 2519h6M4109 2498h6M4098 2519h6M4124 2492h6M4094 2511h6M4074 2466h6M4113 2484h6M4117 2478h6M4057 2479h6M4065 2472h6M4087 2493h6M4079 2490h6M4083 2481h6M4071 2519h6M4114 2498h6M4083 2480h6M4064 2486h6M4097 2479h6M4124 2459h6M4099 2473h6M4062 2511h6M4095 2507h6M4099 2497h6M4095 2504h6M4124 2490h6M4078 2499h6M4079 2491h6M4078 2513h6M4110 2489h6M4129 2483h6M4082 2472h6M4094 2482h6M4100 2483h6M4091 2508h6M4091 2501h6M4104 2494h6M4107 2488h6M4096 2486h6M4109 2514h6M4070 2487h6M4095 2484h6M4127 2509h6M4101 2483h6M4083 2507h6M4087 2504h6M4078 2471h6M4098 2500h6M4103 2492h6M4088 2483h6M4086 2485h6M4110 2511h6M4097 2512h6M4089 2519h6M4143 2518h6M4058 2483h6M4108 2484h6M4098 2504h6M4089 2501h6M4125 2500h6M4102 2507h6M4120 2483h6M4113 2498h6M4117 2495h6M4099 2479h6M4075 2493h6M4105 2488h6M4051 2481h6M4081 2495h6M4111 2503h6M4107 2470h6M4148 2475h6M4109 2476h6M4112 2504h6M4115 2493h6M4102 2483h6M4090 2474h6M4095 2494h6M4114 2465h6M4112 2471h6M4050 2494h6M4086 2488h6" stroke="#666" stroke-width="6" transform="scale(.1)"/>
<path d="M4236 2353h6M4198 2368h6M4225 2409h6M4215 2374h6M4272 2462h6M4182 2383h6M4290 2369h6M4087 2420h6M4322 2474h6M4212 2382h6M4239 2379h6M4224 2409h6M4294 2387h6M4266 2344h6M4213 2420h6M4305 2429h6M4277 2399h6M4188 2340h6M4222 2383h6M4216 2361h6M4152 2417h6M4202 2447h6M4195 2441h6M4238 2437h6M4225 2425h6M4322 2446h6M4260 2382h6M4165 2408h6M4281 2427h6M4284 2454h6M4280 2404h6M4159 2368h6M4312 2385h6M4283 2393h6M4218 2354h6M4175 2408h6M4297 2355h6M4203 2395h6M4337 2322h6M4226 2474h6M4198 2373h6M4332 2423h6M4320 2454h6M4160 2366h6M4268 2466h6M4168 2378h6M4221 2408h6M4284 2395h6M4221 2398h6M4228 2353h6M4242 2347h6M4216 2457h6M4246 2424h6M4230 2465h6M4206 2424h6M4206 2337h6M4262 2425h6M4206 2400h6M4168 2277h6M4266 2445h6M4262 2391h6M4339 2386h6M4282 2425h6M4263 2343h6M4261 2380h6M4236 2370h6M4205 2368h6M4228 2423h6M4185 2416h6M4218 2374h6M4258 2414h6M4239 2376h6M4187 2424h6M4127 2313h6M4297 2364h6M4251 2364h6M4222 2397h6M4233 2408h6M4296 2481h6M4192 2401h6M4219 2384h6M4269 2353h6M4203 2394h6M4217 2409h6M4232 2438h6M4267 2384h6M4244 2431h6M4248 2290h6M4247 2394h6M4262 2394h6M4240 2431h6M4158 2440h6M4252 2418h6M4270 2385h6M4191 2450h6M4203 2444h6M4187 2382h6M4272 2386h6M4211 2402h6M4199 2409h6M4219 2393h6M4234 2424h6M4259 2356h6M4169 2448h6M4248 2353h6M4216 2373h6M4161 2365h6M4189 2433h6M4191 2439h6M4197 2339h6M4241 2328h6M4167 2393h6M4291 2416h6M4253 2343h6M4296 2466h6M4247 2456h6M4161 2380h6M4233 2373h6M4204 2359h6M4234 2363h6M4167 2356h6M4245 2388h6M4266 2362h6M4199 2442h6M4237 2388h6M4195 2438h6M4275 2383h6M4226 2405h6M4248 2362h6M4314 2409h6M4227 2325h6M4276 2392h6M4213 2279h6M4182 2450h6M4125 2396h6M4219 2364h6M4230 2349h6M4267 2473h6M4172 2418h6M4174 2487h6M4085 2327h6M4292 2358h6M4230 2383h6M4239 2412h6M4289 2379h6M4291 2406h6M4230 2435h6M4259 2365h6M4262 2403h6M4222 2378h6M4239 2431h6M4288 2364h6M4153 2426h6M4193 2363h6M4273 2395h6M4264 2436h6M4199 2383h6M4144 2477h6M4253 2391h6M4261 2463h6M4174 2437h6M4267 2403h6M4312 2323h6M4262 2375h6M4189 2342h6M4216 2425h6M4203 2526h6M4351 2422h6M4165 2333h6M4256 2335h6M4242 2466h6M4215 2520h6M4212 2335h6M4267 2421h6M4250 2405h6M4242 2413h6M4231 2404h6M4294 2396h6M4204 2458h6M4250 2383h6M4268 2414h6M4192 2429h6M4192 2344h6M4193 2373h6M4264 2450h6M4203 2396h6M4284 2441h6M4206 2408h6M4198 2339h6M4222 2360h6M4279 2423h6M4223 2422h6M4167 2391h6M4226 2402h6M4255 2364h6M4236 2411h6M4335 2404h6M4239 2384h6M4254 2487h6M4250 2369h6M4253 2473h6M4294 2433h6M4211 2401h6M4125 2411h6M4238 2321h6M4197 2483h6M4279 2406h6M4196 2505h6M4188 2392h6M4292 2412h6M4256 2424h6M4305 2326h6M4181 2362h6M4221 2379h6M4172 2447h6M4261 2422h6M4233 2467h6M4224 2399h6M4260 2451h6M4273 2409h6M4207 2427h6M4252 2339h6M4282 2316h6M4206 2445h6M4205 2417h6M4239 2397h6M4277 2484h6M4313 2393h6M4247 2481h6M4216 2339h6M4194 2451h6M4087 2348h6M4234 2416h6M4215 2398h6M4274 2322h6M4302 2317h6M4285 2432h6M4210 2350h6M4234 2367h6M4233 2419h6M4266 2315h6M4241 2359h6M4209 2479h6M4228 2402h6M4158 2393h6M4196 2320h6M4229 2436h6M4235 2332h6M4237 2374h6M4208 2357h6M4235 2426h6M4213 2486h6M4272 2361h6M4258 2412h6M4233 2403h6M4212 2426h6M4202 2361h6M4240 2413h6M4145 2358h6M4285 2434h6M4239 2322h6M4244 2448h6M4327 2387h6M4228 2308h6M4302 2368h6M4351 2443h6M4249 2370h6M4228 2393h6M4265 2380h6M4250 2433h6M4174 2496h6M4236 2319h6M4232 2343h6M4207 2425h6M4286 2360h6M4179 2316h6M4180 2424h6M4195 2364h6M4186 2454h6M4187 2423h6M4222 2420h6M4185 2382h6M4160 2434h6M4302 2331h6M4241 2404h6M4172 2421h6M4205 2361h6M4340 2358h6M4189 2344h6M4204 2430h6M4173 2321h6M4248 2409h6M4184 2326h6M4222 2483h6M4250 2368h6M4166 2343h6M4204 2441h6M4137 2353h6M4218 2403h6M4140 2407h6M4267 2482h6M4281 2396h6M4210 2408h6M4284 2330h6M4263 2344h6M4232 2456h6M4252 2411h6M4279 2459h6M4235 2389h6M4182 2439h6M4233 2441h6M4302 2378h6M4288 2493h6M4176 2339h6M4259 2417h6M4190 2370h6M4251 2475h6M4231 2339h6M4151 2352h6M4251 2461h6M4302 2469h6M4227 2350h6M4155 2363h6M4306 2334h6M4260 2379h6M4293 2359h6M4217 2462h6M4224 2355h6M4185 2401h6M4222 2390h6M4134 2315h6M4270 2354h6M4202 2481h6M4301 2360h6M4218 2450h6M4202 2388h6M4233 2453h6M4296 2455h6M4237 2399h6M4214 2483h6M4132 2331h6M4259 2477h6M4236 2362h6M4290 2288h6M4158 2410h6M4203 2428h6M4205 2342h6M4223 2406h6M4227 2418h6M4287 2413h6M4196 2401h6M4243 2378h6M4131 2410h6M4134 2436h6M4206 2381h6M4214 2394h6M4288 2347h6M4203 2407h6M4131 2407h6M4172 2364h6M4206 2417h6M4229 2372h6M4213 2333h6M4262 2412h6M4228 2318h6M4209 2369h6M4223 2405h6M4151 2440h6M4246 2432h6M4215 2501h6M4316 2397h6M4191 2334h6M4191 2413h6M4281 2427h6M4233 2383h6M4225 2370h6M4147 2402h6M4165 2426h6M4209 2394h6M4157 2333h6M4200 2349h6M4216 2406h6M4235 2395h6M4271 2382h6M4179 2433h6M4245 2418h6M4279 2418h6M4196 2398h6M4163 2452h6M4233 2499h6M4303 2394h6M4285 2380h6M4222 2310h6M4198 2444h6M4190 2428h6M4234 2333h6M4189 2415h6M4233 2359h6M4199 2396h6M4141 2395h6M4276 2378h6M4239 2285h6M4246 2490h6M4251 2325h6M4213 2375h6M4241 2390h6M4139 2316h6M4234 2416h6M4205 2405h6M4218 2443h6M4216 2337h6M4281 2435h6M4192 2391h6M4211 2393h6M4292 2419h6M4205 2399h6M4170 2345h6M4164 2407h6M4214 2443h6M4317 2371h6M4187 2400h6M4324 2401h6M4236 2319h6M4162 2383h6M4192 2353h6M4234 2399h6M4149 2458h6M4231 2423h6M4212 2419h6M4176 2369h6M4239 2382h6M4166 2343h6M4251 2413h6M4160 2384h6M4224 2402h6M4210 2422h6M4212 2445h6M4231 2387h6M4214 2396h6M4246 2436h6M4243 2379h6M4211 2411h6M4255 2399h6M4297 2430h6M4273 2379h6M4276 2378h6M4191 2295h6M4287 2363h6M4289 2479h6M4262 2464h6M4243 2445h6M4274 2439h6M4277 2494h6M4286 2466h6M4166 2394h6M4249 2485h6M4168 2390h6M4215 2459h6M4238 2398h6M4201 2387h6M4256 2376h6M4181 2380h6M4310 2317h6M4287 2434h6M4259 2350h6M4357 2412h6M4209 2417h6M4246 2354h6M4277 2320h6M4278 2441h6M4206 2364h6M4188 2414h6M4277 2379h6M4244 2443h6M4198 2371h6M4254 2368h6M4192 2412h6M4257 2338h6M4201 2261h6M4239 2402h6M4135 2338h6M4208 2378h6M4230 2265h6M4263 2374h6M4197 2391h6M4237 2448h6M4202 2406h6M4209 2338h6M4207 2433h6M4206 2379h6M4313 2367h6M4242 2357h6M4307 2345h6M4292 2342h6M4230 2456h6M4246 2520h6M4180 2441h6M4175 2401h6M4212 2423h6M4252 2381h6M4237 2413h6M4203 2347h6M4188 2417h6M4264 2358h6M4197 2384h6M4285 2450h6M4182 2448h6M4233 2396h6M4176 2378h6M4236 2446h6M4248 2430h6M4173 2422h6M4310 2428h6M4156 2351h6M4216 2473h6M4155 2397h6M4242 2369h6M4221 2356h6M4168 2352h6M4243 2459h6M4173 2466h6M4199 2452h6M4130 2353h6M4218 2335h6M4261 2411h6M4268 2361h6M4253 2449h6M4161 2308h6M4304 2455h6M4295 2386h6M4295 2430h6M4239 2463h6M4196 2402h6M4316 2444h6M4243 2441h6M4247 2406h6M4220 2468h6M4258 2386h6M4200 2435h6M4189 2373h6M4302 2363h6M4224 2509h6M4180 2397h6M4212 2437h6M4262 2394h6M4227 2338h6M4198 2445h6M4276 2433h6M4268 2373h6M4240 2368h6M4122 2389h6M4233 2376h6M4219 2359h6M4241 2371h6M4265 2384h6M4266 2352h6M4231 2428h6M4198 2423h6M4255 2322h6M4203 2437h6M4224 2388h6M4205 2401h6M4185 2365h6M4289 2410h6M4254 2386h6M4194 2408h6M4230 2402h6M4221 2300h6M4248 2342h6M4305 2349h6M4225 2375h6M4230 2431h6M4133 2352h6M4204 2385h6M4241 2425h6M4259 2363h6M4229 2378h6M4305 2453h6M4190 2398h6M4259 2364h6M4286 2351h6M4255 2475h6M4239 2375h6M4200 2398h6M4262 2415h6M4218 2458h6M4230 2431h6M4202 2437h6M4279 2410h6M4178 2343h6M4227 2364h6M4334 2393h6M4168 2395h6M4248 2379h6M4286 2493h6M4204 2366h6M4322 2455h6M4228 2396h6M4201 2464h6M4181 2399h6" stroke="#888" stroke-width="6" transform="scale(.1)"/>
<path d="M4230 2375h6M4231 2392h6M4231 2380h6M4275 2384h6M4214 2389h6M4232 2342h6M4228 2410h6M4220 2375h6M4219 2383h6M4235 2373h6M4234 2363h6M4203 2397h6M4251 2391h6M4223 2402h6M4211 2414h6M4262 2386h6M4239 2403h6M4256 2387h6M4248 2345h6M4264 2378h6M4221 2388h6M4258 2377h6M4225 2382h6M4203 2387h6M4240 2404h6M4226 2388h6M4245 2398h6M4223 2390h6M4254 2388h6M4249 2389h6M4221 2380h6M4272 2392h6M4193 2383h6M4217 2357h6M4248 2396h6M4226 2386h6M4226 2357h6M4226 2352h6M4256 2357h6M4240 2396h6M4220 2380h6M4284 2385h6M4240 2411h6M4267 2400h6M4261 2358h6M4226 2396h6M4207 2406h6M4225 2380h6M4277 2358h6M4249 2365h6M4245 2361h6M4198 2387h6M4212 2421h6M4257 2391h6M4289 2386h6M4239 2384h6M4256 2419h6M4239 2378h6M4239 2377h6M4228 2362h6M4221 2405h6M4219 2375h6M4214 2372h6M4224 2383h6M4235 2367h6M4243 2374h6M4207 2356h6M4227 2392h6M4266 2417h6M4233 2387h6M4226 2391h6M4245 2373h6M4246 2408h6M4249 2388h6M4212 2411h6M4242 2364h6M4223 2381h6M4227 2402h6M4249 2386h6M4235 2364h6M4228 2382h6M4260 2410h6M4236 2371h6M4225 2382h6M4241 2352h6M4240 2404h6M4227 2406h6M4246 2381h6M4238 2397h6M4243 2366h6M4259 2387h6M4257 2380h6M4237 2402h6M4229 2413h6M4225 2399h6M4252 2368h6M4250 2403h6M4216 2389h6M4237 2381h6M4244 2388h6M4238 2390h6M4230 2396h6M4248 2401h6M4240 2373h6M4241 2414h6M4225 2389h6M4256 2388h6M4215 2398h6M4228 2393h6M4231 2350h6M4267 2385h6M4241 2413h6M4228 2395h6M4242 2405h6M4259 2403h6M4247 2367h6M4255 2397h6M4241 2395h6M4266 2417h6M4238 2380h6M4218 2390h6M4240 2381h6M4201 2397h6M4248 2388h6M4244 2379h6M4244 2379h6M4245 2377h6M4268 2381h6M4233 2400h6M4237 2391h6M4263 2367h6M4279 2403h6M4190 2397h6M4215 2373h6M4255 2367h6M4261 2369h6M4231 2369h6M4227 2371h6M4237 2389h6M4251 2408h6M4246 2377h6M4224 2392h6M4265 2397h6M4243 2372h6M4254 2372h6M4230 2371h6M4232 2398h6M4256 2351h6M4254 2356h6M4245 2384h6M4246 2395h6M4247 2376h6M4235 2385h6M4241 2413h6M4234 2377h6M4241 2382h6M4248 2367h6M4235 2389h6M4230 2373h6M4234 2403h6M4211 2395h6M4231 2369h6M4220 2387h6M4229 2355h6M4231 2394h6M4239 2386h6M4234 2368h6M4219 2375h6M4252 2394h6M4240 2419h6M4257 2381h6M4239 2365h6M4246 2395h6M4220 2409h6M4194 2378h6M4224 2378h6M4239 2392h6M4249 2369h6M4240 2369h6M4238 2339h6M4221 2389h6M4263 2393h6M4233 2363h6M4266 2362h6M4223 2372h6M4246 2395h6M4231 2377h6M4238 2357h6M4211 2388h6M4256 2379h6M4215 2382h6M4237 2391h6M4264 2373h6M4249 2393h6M4254 2417h6M4229 2352h6M4229 2403h6M4245 2373h6M4271 2379h6M4199 2368h6" stroke="#333" stroke-width="6" transform="scale(.1)"/>
<path d="M4201 2543h6M4193 2557h6M4223 2559h6M4211 2598h6M4237 2595h6M4188 2602h6M4235 2562h6M4217 2575h6M4214 2586h6M4207 2603h6M4204 2585h6M4234 2566h6M4210 2535h6M4209 2549h6M4246 2593h6M4193 2573h6M4221 2557h6M4219 2588h6M4245 2568h6M4175 2563h6M4213 2577h6M4215 2578h6M4214 2529h6M4212 2573h6M4228 2575h6M4229 2594h6M4244 2571h6M4208 2579h6M4225 2601h6M4211 2555h6M4169 2571h6M4175 2562h6M4242 2559h6M4220 2573h6M4201 2557h6M4252 2589h6M4246 2586h6M4218 2541h6M4223 2562h6M4198 2568h6M4218 2526h6M4209 2582h6M4225 2601h6M4232 2559h6M4205 2567h6M4216 2593h6M4209 2570h6M4254 2538h6M4200 2563h6M4223 2594h6M4204 2595h6M4196 2584h6M4208 2599h6M4190 2588h6M4192 2600h6M4195 2602h6M4225 2564h6M4236 2588h6M4215 2555h6M4227 2553h6M4187 2579h6M4228 2582h6M4223 2583h6M4183 2570h6M4223 2548h6M4228 2594h6M4222 2594h6M4200 2565h6M4234 2542h6M4221 2574h6M4218 2576h6M4196 2585h6M4213 2551h6M4195 2582h6M4230 2570h6M4204 2606h6M4216 2596h6M4257 2570h6M4202 2549h6M4196 2578h6M4212 2587h6M4183 2562h6M4231 2595h6M4262 2554h6M4195 2573h6M4211 2562h6M4232 2566h6M4196 2536h6M4224 2589h6M4228 2540h6M4199 2588h6M4243 2537h6M4208 2545h6M4223 2561h6M4202 2553h6M4246 2567h6M4188 2578h6M4214 2592h6M4221 2533h6M4213 2587h6M4234 2556h6M4201 2557h6M4229 2558h6M4188 2535h6M4195 2587h6M4237 2579h6M4196 2563h6M4216 2554h6M4222 2586h6M4201 2578h6M4202 2554h6M4196 2584h6M4202 2558h6M4224 2582h6M4225 2581h6M4238 2585h6M4247 2581h6M4200 2570h6M4175 2593h6M4230 2561h6M4232 2553h6M4212 2576h6M4226 2597h6M4227 2587h6M4185 2583h6M4206 2565h6M4225 2553h6M4229 2604h6M4246 2556h6M4190 2580h6M4223 2535h6M4209 2559h6M4223 2596h6M4204 2548h6M4176 2582h6M4193 2568h6M4227 2581h6M4217 2600h6M4235 2591h6M4228 2561h6M4254 2583h6M4186 2573h6M4217 2529h6M4228 2539h6M4214 2566h6M4221 2600h6M4239 2574h6M4199 2580h6M4198 2545h6M4178 2567h6M4220 2568h6M4193 2588h6" stroke="#777" stroke-width="6" transform="scale(.1)"/>
</g>
<rect x="404.3" y="217.2" width="43.89999999999998" height="43.900000000000034" fill="none" stroke="#858585" stroke-width="0.8"/>
<line x1="403.1" y1="217.2" x2="404.3" y2="217.2" stroke="#888" stroke-width="0.5"/>
<rect x="400.90000000000003" y="216.5" width="1.4" height="1.4" fill="#b0b0b0"/>
<line x1="403.1" y1="228.175" x2="404.3" y2="228.175" stroke="#888" stroke-width="0.5"/>
<rect x="400.90000000000003" y="227.47500000000002" width="1.4" height="1.4" fill="#b0b0b0"/>
<line x1="403.1" y1="239.15" x2="404.3" y2="239.15" stroke="#888" stroke-width="0.5"/>
<rect x="400.90000000000003" y="238.45000000000002" width="1.4" height="1.4" fill="#b0b0b0"/>
<line x1="403.1" y1="250.125" x2="404.3" y2="250.125" stroke="#888" stroke-width="0.5"/>
<rect x="400.90000000000003" y="249.425" width="1.4" height="1.4" fill="#b0b0b0"/>
<line x1="403.1" y1="261.1" x2="404.3" y2="261.1" stroke="#888" stroke-width="0.5"/>
<rect x="400.90000000000003" y="260.40000000000003" width="1.4" height="1.4" fill="#b0b0b0"/>
<line x1="404.3" y1="261.1" x2="404.3" y2="262.3" stroke="#888" stroke-width="0.5"/>
<rect x="403.6" y="262.90000000000003" width="1.4" height="1.4" fill="#b0b0b0"/>
<line x1="415.275" y1="261.1" x2="415.275" y2="262.3" stroke="#888" stroke-width="0.5"/>
<rect x="414.575" y="262.90000000000003" width="1.4" height="1.4" fill="#b0b0b0"/>
<line x1="426.25" y1="261.1" x2="426.25" y2="262.3" stroke="#888" stroke-width="0.5"/>
<rect x="425.55" y="262.90000000000003" width="1.4" height="1.4" fill="#b0b0b0"/>
<line x1="437.225" y1="261.1" x2="437.225" y2="262.3" stroke="#888" stroke-width="0.5"/>
<rect x="436.52500000000003" y="262.90000000000003" width="1.4" height="1.4" fill="#b0b0b0"/>
<line x1="448.2" y1="261.1" x2="448.2" y2="262.3" stroke="#888" stroke-width="0.5"/>
<rect x="447.5" y="262.90000000000003" width="1.4" height="1.4" fill="#b0b0b0"/>
<ellipse cx="421.8" cy="257" rx="5.05" ry="4.6" fill="none" stroke="#111" stroke-width="1.9"/>
<line x1="426.9" y1="256.6" x2="452.7" y2="256.6" stroke="#111" stroke-width="1.5"/>
<path d="M457.20,256.60 L452.20,259.50 L452.20,253.70Z" fill="#111"/>
<clipPath id="cp36"><rect x="404.6" y="299.8" width="43.299999999999976" height="42.50000000000002"/></clipPath>
<g clip-path="url(#cp36)">
<ellipse cx="409.6" cy="323" rx="4.3" ry="5.3" fill="#000" opacity="1" filter="url(#b7)"/>
<ellipse cx="409.6" cy="337.7" rx="4.3" ry="4.2" fill="#000" opacity="1" filter="url(#b7)"/>
<ellipse cx="424.8" cy="321.8" rx="4.4" ry="4.0" fill="#000" opacity="0.95" filter="url(#b7)"/>
<path d="M4083 3279h6M4114 3176h6M4090 3282h6M4067 3206h6M4075 3270h6M4120 3251h6M4107 3283h6M4103 3277h6M4121 3274h6M4121 3259h6M4131 3219h6M4083 3206h6M4098 3254h6M4103 3260h6M4080 3213h6M4092 3213h6M4087 3202h6M4114 3195h6M4096 3257h6M4050 3214h6M4129 3257h6M4092 3282h6M4083 3223h6M4122 3269h6M4068 3211h6M4066 3232h6M4083 3238h6M4058 3262h6M4067 3196h6M4137 3211h6M4047 3216h6M4072 3187h6M4086 3228h6M4061 3244h6M4084 3217h6M4086 3182h6M4069 3258h6M4065 3189h6M4122 3186h6M4088 3210h6M4087 3199h6M4097 3215h6M4117 3206h6M4113 3212h6M4126 3217h6M4122 3233h6M4125 3243h6M4080 3251h6M4111 3283h6M4123 3272h6M4076 3204h6M4092 3218h6M4114 3212h6M4080 3275h6M4070 3173h6M4106 3229h6M4050 3241h6M4080 3281h6M4132 3242h6M4105 3261h6M4106 3220h6M4079 3200h6M4128 3234h6M4104 3193h6M4086 3225h6M4083 3233h6M4086 3245h6M4098 3226h6M4076 3214h6M4092 3206h6M4099 3225h6M4126 3236h6M4106 3251h6M4136 3230h6M4095 3171h6M4098 3184h6M4075 3175h6M4118 3234h6M4139 3227h6M4075 3275h6M4105 3233h6M4095 3175h6M4072 3195h6M4077 3203h6M4062 3249h6M4135 3255h6M4093 3222h6M4073 3209h6M4092 3193h6M4100 3202h6M4114 3238h6M4072 3212h6M4072 3219h6M4065 3209h6M4084 3254h6M4119 3268h6M4068 3232h6M4117 3229h6M4063 3234h6M4121 3249h6M4087 3235h6M4082 3186h6M4133 3196h6M4121 3183h6M4139 3207h6M4107 3200h6M4110 3217h6M4134 3199h6M4103 3210h6M4097 3280h6M4112 3281h6M4082 3237h6M4072 3279h6M4064 3266h6M4076 3212h6M4101 3186h6M4106 3179h6M4100 3182h6M4090 3171h6M4111 3242h6M4110 3213h6M4098 3244h6M4072 3207h6M4074 3183h6M4089 3188h6M4060 3200h6M4120 3214h6M4072 3227h6M4111 3187h6M4110 3171h6M4095 3187h6M4115 3245h6M4100 3223h6M4128 3219h6M4110 3270h6M4062 3196h6M4129 3197h6M4083 3268h6M4136 3206h6M4090 3234h6M4059 3252h6M4067 3261h6M4092 3227h6M4113 3262h6M4143 3269h6M4047 3216h6M4046 3211h6M4139 3208h6M4080 3179h6M4119 3215h6M4128 3250h6M4095 3236h6M4123 3186h6M4125 3252h6M4113 3218h6M4123 3247h6M4096 3221h6M4132 3199h6M4071 3223h6M4083 3246h6M4087 3242h6M4079 3188h6M4127 3252h6M4136 3231h6M4105 3285h6M4090 3215h6M4082 3184h6M4052 3224h6M4081 3248h6M4108 3234h6M4086 3211h6M4119 3184h6M4131 3205h6M4091 3235h6M4123 3236h6M4130 3206h6M4126 3258h6M4106 3239h6M4099 3199h6M4075 3179h6M4130 3260h6M4139 3249h6M4050 3230h6M4068 3180h6M4097 3280h6M4066 3195h6M4085 3242h6M4129 3237h6M4127 3223h6M4111 3280h6M4080 3278h6M4137 3229h6M4097 3249h6M4082 3246h6M4104 3257h6M4116 3243h6M4130 3208h6M4098 3218h6M4081 3248h6M4105 3226h6M4098 3209h6M4130 3201h6M4103 3241h6M4117 3228h6M4102 3195h6M4110 3224h6M4098 3220h6M4081 3172h6M4124 3233h6M4048 3234h6M4142 3209h6M4120 3181h6M4102 3247h6M4096 3230h6M4058 3251h6M4121 3217h6M4050 3223h6M4086 3196h6M4062 3260h6M4118 3262h6M4117 3221h6M4092 3237h6M4121 3192h6M4079 3245h6M4051 3211h6M4100 3227h6M4073 3182h6M4125 3225h6M4146 3199h6M4111 3270h6M4131 3212h6M4060 3215h6M4099 3200h6M4057 3227h6M4117 3239h6M4103 3266h6M4059 3261h6M4090 3172h6M4085 3274h6M4071 3220h6M4084 3226h6M4102 3174h6M4060 3222h6M4067 3197h6M4053 3216h6M4051 3236h6M4122 3273h6M4055 3243h6M4073 3232h6M4064 3219h6M4125 3262h6M4122 3245h6M4135 3253h6M4118 3247h6M4069 3186h6M4108 3248h6M4102 3202h6M4088 3215h6M4143 3202h6M4127 3229h6M4095 3162h6M4105 3256h6M4101 3263h6M4093 3274h6M4084 3267h6M4075 3226h6M4048 3224h6M4125 3201h6M4083 3271h6M4049 3255h6M4128 3253h6M4130 3202h6M4091 3227h6M4079 3189h6M4100 3235h6M4101 3272h6M4101 3250h6M4106 3255h6M4091 3216h6M4075 3202h6M4057 3222h6M4107 3216h6M4114 3205h6M4096 3240h6M4052 3215h6M4063 3233h6M4100 3227h6M4068 3202h6M4103 3249h6M4124 3199h6M4047 3235h6M4075 3234h6M4063 3188h6M4110 3190h6M4116 3224h6M4096 3259h6M4054 3227h6M4090 3241h6M4088 3207h6" stroke="#111" stroke-width="6" transform="scale(.1)"/>
<path d="M4110 3373h6M4063 3397h6M4112 3375h6M4073 3371h6M4075 3351h6M4119 3387h6M4134 3388h6M4096 3351h6M4054 3352h6M4092 3380h6M4086 3371h6M4113 3343h6M4135 3369h6M4120 3374h6M4079 3371h6M4050 3362h6M4123 3332h6M4138 3375h6M4060 3400h6M4093 3344h6M4139 3384h6M4104 3388h6M4106 3392h6M4094 3330h6M4102 3352h6M4091 3326h6M4095 3364h6M4071 3389h6M4098 3379h6M4119 3341h6M4058 3352h6M4136 3377h6M4097 3344h6M4100 3387h6M4073 3390h6M4109 3360h6M4099 3420h6M4123 3410h6M4096 3329h6M4071 3369h6M4140 3356h6M4138 3387h6M4137 3391h6M4082 3393h6M4104 3378h6M4108 3387h6M4073 3397h6M4057 3375h6M4114 3363h6M4144 3362h6M4106 3392h6M4112 3384h6M4093 3403h6M4079 3406h6M4128 3375h6M4051 3359h6M4106 3414h6M4062 3346h6M4128 3362h6M4096 3391h6M4079 3383h6M4082 3392h6M4085 3367h6M4088 3386h6M4102 3364h6M4093 3400h6M4112 3376h6M4128 3364h6M4076 3362h6M4122 3368h6M4068 3374h6M4050 3350h6M4107 3371h6M4064 3365h6M4080 3340h6M4055 3384h6M4105 3363h6M4085 3359h6M4078 3364h6M4088 3380h6M4092 3391h6M4110 3404h6M4068 3362h6M4118 3353h6M4088 3356h6M4120 3353h6M4131 3383h6M4088 3412h6M4067 3341h6M4109 3377h6M4110 3371h6M4097 3395h6M4102 3376h6M4058 3410h6M4099 3382h6M4125 3337h6M4128 3410h6M4092 3406h6M4060 3399h6M4082 3407h6M4116 3409h6M4047 3370h6M4093 3348h6M4141 3353h6M4110 3383h6M4051 3388h6M4097 3323h6M4086 3366h6M4061 3411h6M4096 3361h6M4101 3364h6M4140 3359h6M4082 3340h6M4093 3351h6M4103 3413h6M4100 3357h6M4099 3373h6M4107 3406h6M4101 3337h6M4105 3386h6M4131 3353h6M4081 3341h6M4074 3374h6M4134 3353h6M4105 3371h6M4088 3347h6M4111 3376h6M4086 3361h6M4099 3377h6M4082 3344h6M4123 3374h6M4117 3396h6M4113 3340h6M4065 3341h6M4123 3386h6M4070 3359h6M4075 3376h6M4066 3380h6M4121 3343h6M4091 3386h6M4108 3344h6M4065 3345h6M4099 3386h6M4121 3371h6M4077 3378h6M4084 3353h6M4093 3415h6M4096 3365h6M4093 3383h6M4081 3401h6M4097 3365h6M4119 3367h6M4083 3364h6M4085 3326h6M4116 3365h6M4114 3381h6M4116 3341h6M4069 3419h6M4122 3396h6M4097 3404h6M4101 3385h6M4104 3351h6M4098 3419h6M4069 3418h6M4078 3395h6M4096 3360h6M4087 3393h6M4060 3405h6M4121 3397h6M4076 3325h6M4129 3374h6M4139 3403h6M4097 3356h6M4088 3369h6M4078 3342h6M4060 3384h6M4119 3335h6M4103 3367h6M4091 3333h6M4091 3387h6M4112 3381h6M4121 3355h6M4062 3364h6M4111 3362h6M4133 3417h6M4089 3362h6M4114 3349h6M4122 3395h6M4090 3383h6M4117 3359h6M4113 3360h6M4083 3385h6M4095 3358h6M4109 3412h6M4091 3400h6M4083 3344h6M4116 3342h6M4086 3351h6M4128 3351h6M4065 3390h6M4085 3370h6M4102 3386h6M4052 3373h6M4127 3332h6M4088 3379h6M4109 3336h6M4103 3391h6M4077 3351h6M4128 3392h6M4103 3408h6M4128 3409h6M4117 3353h6M4108 3366h6M4061 3400h6M4074 3404h6M4109 3367h6M4113 3391h6M4111 3404h6M4060 3379h6M4136 3352h6M4133 3365h6M4106 3338h6M4124 3402h6M4068 3375h6M4083 3363h6M4131 3391h6M4140 3395h6M4059 3351h6M4085 3369h6M4099 3370h6M4072 3414h6M4091 3340h6M4062 3359h6M4116 3347h6M4101 3342h6M4067 3369h6M4128 3387h6M4128 3362h6M4122 3388h6M4134 3368h6M4117 3352h6M4090 3382h6M4100 3362h6M4102 3350h6M4121 3369h6M4086 3371h6M4101 3328h6M4142 3346h6M4123 3350h6M4087 3367h6M4067 3410h6M4079 3392h6M4080 3372h6M4050 3384h6M4125 3349h6M4098 3369h6M4112 3383h6M4070 3346h6M4091 3398h6M4080 3368h6M4094 3390h6M4101 3369h6M4070 3409h6M4080 3417h6M4086 3381h6M4079 3338h6M4105 3409h6M4061 3392h6M4049 3359h6M4106 3346h6M4087 3404h6M4126 3343h6M4093 3367h6M4103 3341h6M4078 3380h6M4119 3393h6M4071 3363h6" stroke="#111" stroke-width="6" transform="scale(.1)"/>
<path d="M4134 3326h6M4076 3295h6M4085 3282h6M4074 3285h6M4105 3319h6M4094 3300h6M4120 3299h6M4071 3289h6M4100 3314h6M4085 3291h6M4136 3298h6M4083 3301h6M4070 3311h6M4101 3302h6M4092 3314h6M4075 3307h6M4067 3292h6M4062 3308h6M4104 3310h6M4097 3291h6M4122 3294h6M4132 3282h6M4098 3327h6M4092 3267h6M4095 3288h6M4065 3321h6M4073 3299h6M4117 3296h6M4055 3284h6M4122 3326h6M4113 3308h6M4126 3276h6M4112 3312h6M4096 3310h6M4113 3306h6M4099 3280h6M4090 3294h6M4071 3315h6M4049 3313h6M4117 3300h6M4108 3273h6M4119 3293h6M4114 3310h6M4120 3282h6M4068 3298h6M4102 3297h6M4112 3294h6M4085 3302h6M4092 3298h6M4097 3296h6M4088 3296h6M4097 3304h6M4084 3296h6M4101 3326h6M4095 3308h6M4098 3325h6M4061 3315h6M4077 3283h6M4096 3305h6M4110 3295h6M4078 3312h6M4108 3310h6M4105 3299h6M4083 3287h6M4075 3310h6M4083 3301h6M4069 3298h6M4083 3310h6M4051 3338h6M4131 3278h6M4112 3308h6M4083 3331h6M4103 3304h6M4127 3286h6M4091 3285h6M4063 3307h6M4102 3281h6M4123 3302h6M4093 3274h6M4063 3324h6M4092 3298h6M4078 3292h6M4127 3304h6M4135 3270h6M4111 3303h6M4108 3305h6M4105 3319h6M4103 3274h6M4101 3336h6M4107 3329h6M4082 3276h6M4085 3298h6M4093 3311h6M4083 3279h6M4088 3323h6M4095 3330h6M4124 3289h6M4100 3285h6M4075 3298h6M4103 3287h6M4067 3322h6M4087 3307h6M4128 3294h6M4061 3342h6M4094 3328h6M4138 3313h6M4132 3311h6M4085 3311h6M4117 3306h6M4107 3298h6M4065 3320h6M4101 3313h6M4092 3302h6M4111 3319h6M4082 3302h6M4083 3297h6M4106 3316h6M4110 3316h6M4110 3328h6" stroke="#666" stroke-width="6" transform="scale(.1)"/>
<path d="M4219 3235h6M4213 3200h6M4228 3189h6M4290 3201h6M4227 3221h6M4265 3240h6M4266 3183h6M4242 3211h6M4226 3182h6M4247 3248h6M4223 3248h6M4296 3211h6M4193 3195h6M4296 3250h6M4231 3267h6M4213 3222h6M4265 3269h6M4260 3196h6M4208 3233h6M4198 3228h6M4221 3238h6M4236 3257h6M4290 3221h6M4216 3210h6M4275 3236h6M4216 3225h6M4221 3240h6M4291 3207h6M4254 3225h6M4231 3241h6M4280 3218h6M4226 3246h6M4257 3262h6M4252 3168h6M4297 3220h6M4189 3203h6M4293 3220h6M4244 3206h6M4215 3203h6M4229 3222h6M4211 3245h6M4249 3226h6M4264 3194h6M4224 3228h6M4263 3221h6M4266 3218h6M4242 3255h6M4240 3222h6M4215 3222h6M4250 3199h6M4237 3242h6M4215 3205h6M4283 3234h6M4244 3223h6M4266 3241h6M4227 3247h6M4261 3178h6M4279 3218h6M4190 3205h6M4284 3241h6M4261 3232h6M4203 3207h6M4264 3243h6M4261 3261h6M4249 3208h6M4203 3195h6M4234 3252h6M4263 3231h6M4270 3202h6M4277 3221h6M4245 3216h6M4294 3206h6M4268 3239h6M4213 3252h6M4245 3219h6M4235 3230h6M4207 3228h6M4298 3210h6M4222 3246h6M4258 3191h6M4236 3212h6M4256 3215h6M4281 3206h6M4253 3221h6M4255 3240h6M4243 3231h6M4219 3200h6M4296 3223h6M4209 3265h6M4263 3209h6M4242 3219h6M4284 3190h6M4235 3197h6M4204 3215h6M4248 3211h6M4210 3220h6M4237 3257h6M4239 3243h6M4267 3238h6M4268 3203h6M4269 3205h6M4213 3232h6M4259 3196h6M4238 3246h6M4244 3199h6M4268 3192h6M4250 3239h6M4207 3195h6M4252 3222h6M4231 3193h6M4248 3207h6M4254 3253h6M4231 3213h6M4252 3214h6M4281 3248h6M4210 3212h6M4291 3214h6M4295 3207h6M4264 3188h6M4255 3207h6M4261 3190h6M4282 3199h6M4281 3238h6M4256 3261h6M4284 3217h6M4283 3221h6M4242 3249h6M4233 3200h6M4236 3250h6M4255 3221h6M4291 3205h6M4228 3229h6M4236 3222h6M4276 3183h6M4253 3262h6M4225 3229h6M4254 3255h6M4255 3212h6M4214 3242h6M4216 3187h6M4230 3235h6M4251 3206h6M4232 3264h6M4250 3257h6M4252 3257h6M4288 3227h6M4234 3251h6M4289 3242h6M4220 3247h6M4227 3253h6M4276 3229h6M4201 3229h6M4290 3209h6M4205 3257h6M4237 3220h6M4204 3216h6M4251 3189h6M4236 3252h6M4226 3211h6M4237 3177h6M4252 3222h6M4253 3228h6M4271 3228h6M4251 3237h6M4291 3246h6M4254 3254h6M4219 3182h6M4239 3181h6M4253 3262h6M4256 3253h6M4217 3202h6M4227 3248h6M4246 3198h6M4224 3185h6M4269 3240h6M4231 3210h6M4240 3228h6M4245 3226h6M4267 3170h6M4276 3225h6M4256 3210h6M4255 3253h6M4204 3198h6M4261 3175h6M4273 3210h6M4233 3260h6M4218 3195h6M4272 3229h6M4290 3230h6M4256 3259h6M4258 3258h6M4263 3173h6M4244 3212h6M4270 3190h6M4232 3209h6M4308 3213h6M4281 3241h6M4252 3209h6M4273 3207h6M4190 3218h6M4243 3254h6M4232 3216h6M4281 3213h6M4285 3190h6M4245 3219h6M4275 3199h6M4271 3247h6M4236 3196h6M4272 3211h6M4279 3248h6M4212 3229h6M4231 3218h6M4267 3190h6M4199 3194h6M4281 3208h6M4254 3171h6M4256 3260h6M4200 3222h6M4266 3250h6M4279 3234h6M4225 3194h6M4253 3198h6M4230 3182h6M4274 3182h6M4198 3219h6M4298 3221h6M4238 3188h6M4248 3216h6M4264 3183h6M4278 3236h6M4221 3267h6M4293 3203h6M4206 3229h6M4233 3188h6M4276 3256h6M4247 3171h6M4296 3235h6M4273 3250h6M4260 3236h6M4261 3218h6M4239 3256h6M4200 3211h6M4230 3204h6M4225 3247h6M4226 3165h6M4215 3187h6M4227 3237h6M4270 3217h6M4262 3225h6M4264 3211h6M4247 3221h6M4238 3237h6M4215 3242h6M4293 3231h6M4251 3210h6M4221 3176h6M4221 3205h6M4210 3206h6M4229 3222h6M4242 3248h6M4236 3193h6M4239 3196h6M4288 3206h6M4252 3253h6M4287 3196h6M4248 3169h6M4227 3195h6M4230 3219h6M4277 3187h6M4266 3223h6M4253 3260h6M4250 3243h6M4238 3255h6M4238 3213h6M4251 3267h6M4202 3230h6M4282 3215h6M4205 3247h6M4292 3214h6M4212 3213h6M4275 3225h6M4235 3257h6M4198 3201h6M4238 3172h6M4256 3251h6M4260 3189h6M4230 3206h6M4240 3256h6M4247 3190h6M4292 3185h6M4236 3259h6M4219 3223h6M4232 3209h6M4237 3261h6M4198 3199h6M4278 3200h6M4223 3211h6M4230 3190h6M4262 3211h6M4276 3187h6" stroke="#111" stroke-width="6" transform="scale(.1)"/>
<path d="M4240 3283h6M4137 3263h6M4202 3289h6M4247 3236h6M4207 3214h6M4163 3238h6M4177 3315h6M4147 3239h6M4199 3321h6M4198 3379h6M4259 3293h6M4202 3310h6M4203 3267h6M4197 3279h6M4228 3262h6M4148 3305h6M4243 3295h6M4238 3325h6M4231 3322h6M4157 3199h6M4224 3288h6M4207 3307h6M4236 3253h6M4186 3323h6M4198 3295h6M4181 3331h6M4290 3374h6M4137 3249h6M4183 3223h6M4190 3298h6M4212 3246h6M4196 3293h6M4279 3262h6M4257 3247h6M4181 3223h6M4228 3295h6M4154 3263h6M4233 3239h6M4150 3260h6M4152 3324h6M4151 3281h6M4254 3340h6M4212 3311h6M4188 3278h6M4179 3306h6M4272 3293h6M4172 3265h6M4213 3247h6M4279 3332h6M4191 3302h6M4198 3290h6M4219 3302h6M4250 3306h6M4163 3395h6M4254 3339h6M4197 3287h6M4259 3288h6M4161 3326h6M4178 3307h6M4136 3270h6M4189 3321h6M4265 3269h6M4161 3208h6M4201 3326h6M4222 3274h6M4202 3374h6M4230 3223h6M4173 3198h6M4154 3304h6M4224 3288h6M4159 3271h6M4239 3302h6M4212 3397h6M4209 3338h6M4280 3306h6M4172 3361h6M4244 3311h6M4212 3142h6M4199 3339h6M4226 3338h6M4273 3360h6M4239 3342h6M4252 3308h6M4246 3292h6M4246 3266h6M4163 3380h6M4265 3236h6M4185 3233h6M4156 3291h6M4210 3302h6M4233 3399h6M4213 3230h6M4168 3330h6M4181 3193h6M4230 3374h6M4148 3296h6M4201 3328h6M4218 3318h6M4162 3359h6M4184 3298h6M4231 3215h6M4163 3312h6M4204 3359h6M4268 3255h6M4228 3363h6M4287 3355h6M4252 3316h6M4103 3279h6M4216 3288h6M4215 3344h6M4146 3306h6M4252 3353h6M4200 3386h6M4238 3300h6M4241 3310h6M4292 3252h6M4170 3273h6M4233 3333h6M4144 3268h6M4253 3331h6M4301 3403h6M4264 3321h6M4153 3230h6M4228 3314h6M4153 3227h6M4167 3372h6M4213 3320h6M4253 3264h6M4362 3217h6M4124 3315h6M4270 3309h6M4269 3377h6M4208 3312h6M4253 3276h6M4181 3234h6M4158 3302h6M4184 3315h6M4208 3373h6M4229 3345h6M4220 3321h6M4235 3293h6M4160 3387h6M4150 3228h6M4261 3360h6M4259 3324h6M4181 3252h6M4253 3380h6M4209 3339h6M4151 3259h6M4211 3251h6M4144 3199h6M4205 3209h6M4209 3230h6M4198 3314h6M4217 3294h6M4249 3351h6M4245 3417h6M4208 3387h6M4196 3228h6M4234 3296h6M4242 3315h6M4154 3276h6M4141 3221h6M4210 3316h6M4148 3205h6M4214 3287h6M4214 3255h6M4142 3236h6M4141 3336h6M4163 3349h6M4089 3213h6M4293 3346h6M4172 3307h6M4182 3289h6M4222 3366h6M4174 3350h6M4240 3284h6M4196 3240h6M4215 3228h6M4230 3245h6M4280 3247h6M4217 3307h6M4237 3308h6M4268 3374h6M4219 3341h6M4157 3355h6M4171 3283h6M4152 3364h6M4192 3286h6M4249 3403h6M4261 3251h6M4260 3249h6M4274 3248h6M4267 3293h6M4238 3410h6M4141 3294h6M4178 3388h6M4271 3299h6M4139 3396h6M4194 3265h6M4188 3250h6M4202 3371h6M4271 3323h6M4155 3302h6M4230 3345h6M4206 3264h6M4129 3237h6M4255 3255h6M4215 3318h6M4240 3155h6M4224 3206h6M4320 3299h6M4094 3246h6M4188 3307h6M4227 3367h6M4149 3336h6M4203 3318h6M4139 3274h6M4235 3223h6M4243 3380h6M4182 3355h6M4226 3260h6M4188 3251h6M4148 3311h6M4178 3322h6M4243 3296h6M4192 3205h6M4216 3244h6M4205 3387h6M4172 3329h6M4164 3259h6M4214 3298h6M4165 3308h6M4262 3269h6M4186 3306h6M4186 3260h6M4223 3252h6M4251 3300h6M4103 3293h6M4224 3286h6M4212 3299h6M4253 3303h6M4201 3389h6M4292 3333h6M4230 3336h6M4136 3244h6M4194 3302h6M4279 3350h6M4303 3310h6M4171 3297h6M4203 3332h6M4209 3291h6M4264 3281h6M4177 3268h6M4166 3327h6M4174 3302h6M4226 3245h6M4191 3308h6M4145 3328h6M4234 3302h6M4294 3263h6M4173 3364h6M4218 3278h6M4178 3323h6M4175 3294h6M4215 3318h6M4176 3288h6M4185 3223h6M4178 3243h6M4261 3306h6M4147 3288h6M4286 3300h6M4184 3289h6M4321 3304h6M4246 3380h6M4212 3366h6M4246 3315h6M4246 3338h6M4207 3192h6M4249 3367h6M4204 3243h6M4195 3290h6M4098 3247h6M4220 3307h6M4256 3298h6M4186 3305h6M4281 3417h6M4247 3299h6M4195 3209h6M4212 3285h6M4176 3298h6M4204 3356h6M4242 3294h6M4201 3264h6M4140 3307h6M4231 3302h6M4218 3193h6M4187 3297h6M4230 3359h6M4229 3341h6M4226 3274h6M4200 3286h6M4206 3324h6M4246 3300h6M4173 3239h6M4212 3358h6M4180 3295h6M4141 3316h6M4187 3337h6M4204 3279h6M4190 3268h6M4206 3249h6M4171 3366h6M4160 3233h6M4206 3299h6M4185 3421h6M4246 3277h6M4203 3284h6M4174 3269h6M4163 3303h6M4222 3381h6M4238 3321h6M4201 3327h6M4174 3323h6M4172 3364h6M4239 3267h6M4281 3310h6M4104 3397h6M4173 3231h6M4152 3334h6M4155 3335h6M4203 3254h6M4260 3320h6M4239 3313h6M4170 3304h6M4234 3348h6M4238 3188h6M4208 3274h6M4129 3290h6M4219 3273h6M4203 3380h6M4221 3209h6M4223 3299h6M4257 3255h6M4227 3326h6M4141 3272h6M4214 3265h6M4147 3294h6M4169 3252h6M4224 3255h6M4235 3210h6M4221 3273h6M4217 3349h6M4186 3264h6M4212 3288h6M4159 3221h6M4118 3411h6M4231 3291h6M4239 3255h6M4230 3361h6M4170 3218h6M4137 3149h6M4186 3291h6M4238 3305h6M4180 3270h6M4145 3231h6M4161 3244h6M4142 3351h6M4161 3309h6M4232 3207h6M4244 3328h6M4192 3298h6M4163 3255h6M4193 3378h6M4168 3312h6M4255 3321h6M4252 3304h6M4200 3234h6M4174 3261h6M4206 3322h6M4229 3259h6M4236 3299h6M4231 3331h6M4224 3275h6M4242 3277h6M4179 3217h6M4190 3321h6M4178 3269h6M4379 3298h6M4200 3352h6M4242 3259h6M4216 3253h6M4223 3304h6M4249 3269h6M4322 3302h6M4232 3316h6M4304 3207h6M4283 3275h6M4167 3243h6M4198 3324h6M4206 3291h6M4173 3326h6M4178 3275h6M4162 3375h6M4323 3307h6M4150 3304h6M4220 3328h6M4284 3405h6M4291 3347h6M4229 3330h6M4202 3324h6M4185 3305h6M4200 3328h6M4187 3279h6M4264 3346h6M4176 3263h6M4213 3258h6M4207 3218h6M4169 3311h6M4211 3236h6M4246 3396h6M4155 3374h6M4208 3328h6M4215 3290h6M4206 3250h6M4239 3274h6M4216 3345h6M4230 3351h6M4183 3349h6M4170 3273h6M4240 3321h6M4284 3308h6M4182 3277h6M4169 3345h6M4223 3361h6M4191 3331h6M4138 3294h6M4213 3312h6M4204 3286h6M4195 3330h6M4228 3283h6M4177 3240h6M4230 3259h6" stroke="#aaa" stroke-width="6" transform="scale(.1)"/>
<path d="M4235 3366h6M4224 3392h6M4250 3383h6M4257 3373h6M4302 3376h6M4278 3382h6M4306 3370h6M4244 3363h6M4280 3344h6M4301 3393h6M4260 3413h6M4306 3385h6M4291 3371h6M4268 3393h6M4289 3355h6M4261 3339h6M4260 3407h6M4291 3387h6M4257 3376h6M4227 3372h6M4263 3397h6M4265 3380h6M4251 3356h6M4268 3407h6M4244 3381h6M4271 3361h6M4280 3393h6M4275 3373h6M4272 3355h6M4290 3369h6M4237 3405h6M4254 3375h6M4276 3341h6M4246 3379h6M4277 3352h6M4288 3389h6M4294 3386h6M4279 3408h6M4255 3374h6M4218 3398h6M4269 3416h6M4249 3361h6M4313 3364h6M4218 3369h6M4235 3372h6M4275 3408h6M4297 3394h6M4280 3358h6M4243 3397h6M4291 3368h6M4261 3340h6M4263 3368h6M4260 3403h6M4242 3364h6M4254 3347h6M4249 3392h6M4272 3404h6M4279 3355h6M4217 3398h6M4285 3387h6M4308 3387h6M4270 3403h6M4285 3370h6M4291 3370h6M4265 3378h6M4308 3356h6M4304 3358h6M4282 3387h6M4275 3413h6M4248 3380h6M4269 3412h6M4273 3383h6M4254 3351h6M4231 3393h6M4272 3383h6M4257 3345h6M4271 3384h6M4251 3375h6M4282 3386h6M4242 3381h6M4263 3401h6M4243 3349h6M4287 3379h6M4267 3364h6M4272 3389h6M4229 3407h6M4245 3371h6M4238 3403h6M4264 3389h6M4264 3372h6M4270 3390h6M4251 3379h6M4275 3366h6M4283 3355h6M4281 3363h6M4242 3371h6M4236 3363h6M4312 3367h6M4274 3366h6M4272 3383h6M4298 3404h6M4275 3391h6M4255 3390h6M4227 3379h6M4253 3382h6M4244 3382h6M4265 3382h6M4266 3369h6M4259 3401h6M4277 3364h6M4245 3411h6M4273 3340h6M4306 3380h6M4264 3404h6M4247 3358h6M4232 3357h6M4261 3387h6M4287 3364h6M4259 3368h6M4276 3399h6M4245 3365h6M4265 3420h6M4255 3368h6M4254 3357h6M4234 3397h6M4281 3405h6M4225 3352h6M4259 3403h6M4292 3353h6M4270 3405h6M4251 3389h6M4253 3395h6M4264 3366h6M4245 3399h6M4272 3409h6M4249 3359h6M4269 3368h6M4310 3389h6M4246 3357h6M4232 3354h6M4304 3377h6M4280 3413h6M4261 3336h6M4281 3369h6M4265 3408h6M4212 3376h6M4251 3383h6M4239 3358h6M4264 3408h6M4282 3377h6M4243 3368h6M4280 3363h6M4283 3374h6M4237 3371h6M4270 3414h6M4269 3366h6M4268 3379h6M4265 3386h6M4287 3393h6M4252 3381h6M4218 3400h6M4296 3363h6M4232 3351h6M4248 3390h6M4287 3359h6M4275 3396h6M4289 3386h6M4241 3382h6M4255 3348h6M4254 3382h6M4297 3378h6M4272 3370h6M4256 3388h6M4291 3403h6M4241 3392h6M4284 3358h6M4218 3363h6M4229 3360h6M4298 3393h6M4285 3387h6M4260 3402h6M4264 3377h6M4296 3366h6M4260 3385h6M4270 3377h6M4241 3383h6M4272 3389h6M4291 3355h6M4243 3374h6M4251 3401h6M4253 3357h6" stroke="#444" stroke-width="6" transform="scale(.1)"/>
</g>
<rect x="404.3" y="299.5" width="43.89999999999998" height="43.10000000000002" fill="none" stroke="#858585" stroke-width="0.8"/>
<line x1="403.1" y1="299.5" x2="404.3" y2="299.5" stroke="#888" stroke-width="0.5"/>
<rect x="400.90000000000003" y="298.8" width="1.4" height="1.4" fill="#b0b0b0"/>
<line x1="403.1" y1="310.275" x2="404.3" y2="310.275" stroke="#888" stroke-width="0.5"/>
<rect x="400.90000000000003" y="309.575" width="1.4" height="1.4" fill="#b0b0b0"/>
<line x1="403.1" y1="321.05" x2="404.3" y2="321.05" stroke="#888" stroke-width="0.5"/>
<rect x="400.90000000000003" y="320.35" width="1.4" height="1.4" fill="#b0b0b0"/>
<line x1="403.1" y1="331.82500000000005" x2="404.3" y2="331.82500000000005" stroke="#888" stroke-width="0.5"/>
<rect x="400.90000000000003" y="331.12500000000006" width="1.4" height="1.4" fill="#b0b0b0"/>
<line x1="403.1" y1="342.6" x2="404.3" y2="342.6" stroke="#888" stroke-width="0.5"/>
<rect x="400.90000000000003" y="341.90000000000003" width="1.4" height="1.4" fill="#b0b0b0"/>
<line x1="404.3" y1="342.6" x2="404.3" y2="343.8" stroke="#888" stroke-width="0.5"/>
<rect x="403.6" y="344.40000000000003" width="1.4" height="1.4" fill="#b0b0b0"/>
<line x1="415.275" y1="342.6" x2="415.275" y2="343.8" stroke="#888" stroke-width="0.5"/>
<rect x="414.575" y="344.40000000000003" width="1.4" height="1.4" fill="#b0b0b0"/>
<line x1="426.25" y1="342.6" x2="426.25" y2="343.8" stroke="#888" stroke-width="0.5"/>
<rect x="425.55" y="344.40000000000003" width="1.4" height="1.4" fill="#b0b0b0"/>
<line x1="437.225" y1="342.6" x2="437.225" y2="343.8" stroke="#888" stroke-width="0.5"/>
<rect x="436.52500000000003" y="344.40000000000003" width="1.4" height="1.4" fill="#b0b0b0"/>
<line x1="448.2" y1="342.6" x2="448.2" y2="343.8" stroke="#888" stroke-width="0.5"/>
<rect x="447.5" y="344.40000000000003" width="1.4" height="1.4" fill="#b0b0b0"/>
<ellipse cx="426.3" cy="337.8" rx="5.3" ry="4.35" fill="none" stroke="#111" stroke-width="1.9"/>
<line x1="431.6" y1="338.5" x2="453.0" y2="338.5" stroke="#111" stroke-width="1.5"/>
<path d="M457.50,338.50 L452.50,341.40 L452.50,335.60Z" fill="#111"/>
<text transform="translate(13.3,240.3) rotate(-90)" font-size="8.4" text-anchor="middle" textLength="36.0" lengthAdjust="spacingAndGlyphs" fill="#1a1a1a" stroke="#1a1a1a" stroke-width="0.22">NKG2A &amp;</text>
<text transform="translate(21.8,239.8) rotate(-90)" font-size="8.4" text-anchor="middle" textLength="40.0" lengthAdjust="spacingAndGlyphs" fill="#1a1a1a" stroke="#1a1a1a" stroke-width="0.22">other KIRs</text>
<text transform="translate(13.3,323.6) rotate(-90)" font-size="8.4" text-anchor="middle" textLength="36.0" lengthAdjust="spacingAndGlyphs" fill="#1a1a1a" stroke="#1a1a1a" stroke-width="0.22">NKG2A &amp;</text>
<text transform="translate(21.8,322.9) rotate(-90)" font-size="8.4" text-anchor="middle" textLength="40.0" lengthAdjust="spacingAndGlyphs" fill="#1a1a1a" stroke="#1a1a1a" stroke-width="0.22">other KIRs</text>
<text transform="translate(202.2,240.9) rotate(-90)" font-size="8.4" text-anchor="middle" textLength="36.0" lengthAdjust="spacingAndGlyphs" fill="#1a1a1a" stroke="#1a1a1a" stroke-width="0.22">NKG2A &amp;</text>
<text transform="translate(210.7,240.9) rotate(-90)" font-size="8.4" text-anchor="middle" textLength="40.0" lengthAdjust="spacingAndGlyphs" fill="#1a1a1a" stroke="#1a1a1a" stroke-width="0.22">other KIRs</text>
<text transform="translate(202.2,322.4) rotate(-90)" font-size="8.4" text-anchor="middle" textLength="36.0" lengthAdjust="spacingAndGlyphs" fill="#1a1a1a" stroke="#1a1a1a" stroke-width="0.22">NKG2A &amp;</text>
<text transform="translate(210.7,322.8) rotate(-90)" font-size="8.4" text-anchor="middle" textLength="40.0" lengthAdjust="spacingAndGlyphs" fill="#1a1a1a" stroke="#1a1a1a" stroke-width="0.22">other KIRs</text>
<text transform="translate(391.1,240.9) rotate(-90)" font-size="8.4" text-anchor="middle" textLength="36.0" lengthAdjust="spacingAndGlyphs" fill="#1a1a1a" stroke="#1a1a1a" stroke-width="0.22">NKG2A &amp;</text>
<text transform="translate(399.5,240.9) rotate(-90)" font-size="8.4" text-anchor="middle" textLength="40.0" lengthAdjust="spacingAndGlyphs" fill="#1a1a1a" stroke="#1a1a1a" stroke-width="0.22">other KIRs</text>
<text transform="translate(391.1,322.0) rotate(-90)" font-size="8.4" text-anchor="middle" textLength="36.0" lengthAdjust="spacingAndGlyphs" fill="#1a1a1a" stroke="#1a1a1a" stroke-width="0.22">NKG2A &amp;</text>
<text transform="translate(399.5,322.8) rotate(-90)" font-size="8.4" text-anchor="middle" textLength="40.0" lengthAdjust="spacingAndGlyphs" fill="#1a1a1a" stroke="#1a1a1a" stroke-width="0.22">other KIRs</text>
<text x="47.4" y="273.3" font-size="8.5" text-anchor="middle" fill="#1a1a1a" stroke="#1a1a1a" stroke-width="0.22">CD158a</text>
<text x="47.4" y="281.7" font-size="8.5" text-anchor="middle" fill="#1a1a1a" stroke="#1a1a1a" stroke-width="0.22">(non-self)</text>
<text x="237.9" y="273.2" font-size="8.5" text-anchor="middle" fill="#1a1a1a" stroke="#1a1a1a" stroke-width="0.22">CD158a</text>
<text x="237.9" y="281.59999999999997" font-size="8.5" text-anchor="middle" fill="#1a1a1a" stroke="#1a1a1a" stroke-width="0.22">(self)</text>
<text x="426.0" y="273.3" font-size="8.5" text-anchor="middle" fill="#1a1a1a" stroke="#1a1a1a" stroke-width="0.22">CD158a</text>
<text x="426.0" y="281.7" font-size="8.5" text-anchor="middle" fill="#1a1a1a" stroke="#1a1a1a" stroke-width="0.22">(self)</text>
<text x="46.1" y="353.6" font-size="8.5" text-anchor="middle" fill="#1a1a1a" stroke="#1a1a1a" stroke-width="0.22">CD158b</text>
<text x="46.1" y="362.0" font-size="8.5" text-anchor="middle" fill="#1a1a1a" stroke="#1a1a1a" stroke-width="0.22">(self)</text>
<text x="238.0" y="353.8" font-size="8.5" text-anchor="middle" fill="#1a1a1a" stroke="#1a1a1a" stroke-width="0.22">CD158b</text>
<text x="238.0" y="362.2" font-size="8.5" text-anchor="middle" fill="#1a1a1a" stroke="#1a1a1a" stroke-width="0.22">(self)</text>
<text x="427.0" y="353.8" font-size="8.5" text-anchor="middle" fill="#1a1a1a" stroke="#1a1a1a" stroke-width="0.22">CD158b</text>
<text x="427.0" y="362.2" font-size="8.5" text-anchor="middle" fill="#1a1a1a" stroke="#1a1a1a" stroke-width="0.22">(non-self)</text>
<line x1="84.5" y1="231.9" x2="84.5" y2="260.9" stroke="#c4c4c4" stroke-width="0.8"/>
<line x1="84.5" y1="260.9" x2="142.7" y2="260.9" stroke="#c4c4c4" stroke-width="0.8"/>
<path d="M84.5,260.9 L84.50,260.90 L85.30,260.90 L85.30,246.85 L86.10,246.85 L86.10,245.37 L86.90,245.37 L86.90,239.64 L87.70,239.64 L87.70,241.09 L88.50,241.09 L88.50,238.70 L89.30,238.70 L89.30,239.43 L90.10,239.43 L90.10,240.88 L90.90,240.88 L90.90,235.49 L91.70,235.49 L91.70,233.42 L92.50,233.42 L92.50,238.99 L93.30,238.99 L93.30,244.71 L94.10,244.71 L94.10,244.00 L94.90,244.00 L94.90,246.18 L95.70,246.18 L95.70,252.62 L96.50,252.62 L96.50,252.96 L97.30,252.96 L97.30,253.11 L98.10,253.11 L98.10,256.09 L98.90,256.09 L98.90,253.85 L99.70,253.85 L99.70,254.22 L100.50,254.22 L100.50,258.12 L101.30,258.12 L101.30,255.46 L102.10,255.46 L102.10,258.21 L102.90,258.21 L102.90,255.15 L103.70,255.15 L103.70,255.25 L104.50,255.25 L104.50,258.76 L105.30,258.76 L105.30,257.62 L106.10,257.62 L106.10,257.66 L106.90,257.66 L106.90,259.06 L107.70,259.06 L107.70,257.90 L108.50,257.90 L108.50,259.13 L109.30,259.13 L109.30,257.49 L110.10,257.49 L110.10,258.24 L110.90,258.24 L110.90,258.81 L111.70,258.81 L111.70,259.97 L112.50,259.97 L112.50,259.66 L113.30,259.66 L113.30,259.31 L114.10,259.31 L114.10,259.35 L114.90,259.35 L114.90,259.86 L115.70,259.86 L115.70,259.06 L116.50,259.06 L116.50,259.13 L117.30,259.13 L117.30,259.77 L118.10,259.77 L118.10,259.95 L118.90,259.95 L118.90,259.39 L119.70,259.39 L119.70,259.69 L120.50,259.69 L120.50,259.43 L121.30,259.43 L121.30,259.63 L122.10,259.63 L122.10,259.75 L122.90,259.75 L122.90,260.15 L123.70,260.15 L123.70,260.05 L124.50,260.05 L124.50,259.73 L125.30,259.73 L125.30,259.83 L126.10,259.83 L126.10,260.25 L126.90,260.25 L126.90,260.08 L127.70,260.08 L127.70,260.21 L128.50,260.21 L128.50,260.03 L129.30,260.03 L129.30,260.17 L130.10,260.17 L130.10,260.36 L130.90,260.36 L130.90,260.46 L131.70,260.46 L131.70,260.51 L132.50,260.51 L132.50,260.53 L133.30,260.53 L133.30,260.13 L134.10,260.13 L134.10,260.14 L134.90,260.14 L134.90,260.21 L135.70,260.21 L135.70,260.52 L136.50,260.52 L136.50,260.28 L137.30,260.28 L137.30,260.53 L138.10,260.53 L138.10,260.20 L138.90,260.20 L138.90,260.32 L139.70,260.32 L139.70,260.29 L140.50,260.29 L140.5,260.9Z" fill="#b3b3b3"/>
<line x1="103.2" y1="243.0" x2="103.2" y2="249.8" stroke="#1a1a1a" stroke-width="1.0"/>
<line x1="140.5" y1="243.0" x2="140.5" y2="249.8" stroke="#1a1a1a" stroke-width="1.0"/>
<line x1="103.2" y1="246.4" x2="110.30000000000001" y2="246.4" stroke="#1a1a1a" stroke-width="1"/>
<line x1="133.1" y1="246.4" x2="140.5" y2="246.4" stroke="#1a1a1a" stroke-width="1"/>
<text x="121.7" y="249.4" font-size="8.3" text-anchor="middle" textLength="15.6" lengthAdjust="spacingAndGlyphs" fill="#1a1a1a" stroke="#1a1a1a" stroke-width="0.22">15.6</text>
<text x="107.3" y="273.2" font-size="8.3" text-anchor="middle" textLength="30.4" lengthAdjust="spacingAndGlyphs" fill="#1a1a1a" stroke="#1a1a1a" stroke-width="0.22">CD107a</text>
<line x1="84.5" y1="313.5" x2="84.5" y2="343.5" stroke="#c4c4c4" stroke-width="0.8"/>
<line x1="84.5" y1="343.5" x2="141.9" y2="343.5" stroke="#c4c4c4" stroke-width="0.8"/>
<path d="M84.5,343.5 L84.50,343.50 L85.30,343.50 L85.30,333.37 L86.10,333.37 L86.10,330.62 L86.90,330.62 L86.90,332.88 L87.70,332.88 L87.70,330.32 L88.50,330.32 L88.50,330.62 L89.30,330.62 L89.30,317.24 L90.10,317.24 L90.10,320.47 L90.90,320.47 L90.90,317.99 L91.70,317.99 L91.70,323.26 L92.50,323.26 L92.50,322.06 L93.30,322.06 L93.30,316.05 L94.10,316.05 L94.10,326.57 L94.90,326.57 L94.90,331.31 L95.70,331.31 L95.70,330.28 L96.50,330.28 L96.50,331.40 L97.30,331.40 L97.30,333.65 L98.10,333.65 L98.10,332.47 L98.90,332.47 L98.90,332.04 L99.70,332.04 L99.70,336.72 L100.50,336.72 L100.50,332.97 L101.30,332.97 L101.30,333.51 L102.10,333.51 L102.10,335.30 L102.90,335.30 L102.90,336.22 L103.70,336.22 L103.70,332.21 L104.50,332.21 L104.50,335.40 L105.30,335.40 L105.30,336.75 L106.10,336.75 L106.10,336.87 L106.90,336.87 L106.90,333.25 L107.70,333.25 L107.70,334.60 L108.50,334.60 L108.50,333.71 L109.30,333.71 L109.30,334.23 L110.10,334.23 L110.10,335.42 L110.90,335.42 L110.90,333.64 L111.70,333.64 L111.70,336.63 L112.50,336.63 L112.50,335.78 L113.30,335.78 L113.30,334.41 L114.10,334.41 L114.10,335.48 L114.90,335.48 L114.90,334.28 L115.70,334.28 L115.70,335.71 L116.50,335.71 L116.50,335.09 L117.30,335.09 L117.30,338.40 L118.10,338.40 L118.10,337.51 L118.90,337.51 L118.90,337.21 L119.70,337.21 L119.70,338.28 L120.50,338.28 L120.50,337.53 L121.30,337.53 L121.30,338.73 L122.10,338.73 L122.10,338.31 L122.90,338.31 L122.90,336.65 L123.70,336.65 L123.70,338.13 L124.50,338.13 L124.50,339.31 L125.30,339.31 L125.30,339.97 L126.10,339.97 L126.10,339.79 L126.90,339.79 L126.90,337.28 L127.70,337.28 L127.70,338.43 L128.50,338.43 L128.50,340.23 L129.30,340.23 L129.30,341.45 L130.10,341.45 L130.10,340.35 L130.90,340.35 L130.90,341.73 L131.70,341.73 L131.70,341.44 L132.50,341.44 L132.50,340.53 L133.30,340.53 L133.30,342.61 L134.10,342.61 L133.5,343.5Z" fill="#b3b3b3"/>
<line x1="102.7" y1="325.1" x2="102.7" y2="331.9" stroke="#1a1a1a" stroke-width="1.0"/>
<line x1="140.8" y1="325.1" x2="140.8" y2="331.9" stroke="#1a1a1a" stroke-width="1.0"/>
<line x1="102.7" y1="328.5" x2="110.0" y2="328.5" stroke="#1a1a1a" stroke-width="1"/>
<line x1="132.7" y1="328.5" x2="140.8" y2="328.5" stroke="#1a1a1a" stroke-width="1"/>
<text x="121.35" y="331.5" font-size="8.3" text-anchor="middle" textLength="15.5" lengthAdjust="spacingAndGlyphs" fill="#1a1a1a" stroke="#1a1a1a" stroke-width="0.22">44.7</text>
<text x="107.4" y="355.0" font-size="8.3" text-anchor="middle" textLength="30.6" lengthAdjust="spacingAndGlyphs" fill="#1a1a1a" stroke="#1a1a1a" stroke-width="0.22">CD107a</text>
<line x1="272.8" y1="232.3" x2="272.8" y2="260.7" stroke="#c4c4c4" stroke-width="0.8"/>
<line x1="272.8" y1="260.7" x2="329.6" y2="260.7" stroke="#c4c4c4" stroke-width="0.8"/>
<path d="M272.8,260.7 L272.80,260.70 L273.60,260.70 L273.60,252.62 L274.40,252.62 L274.40,254.82 L275.20,254.82 L275.20,239.65 L276.00,239.65 L276.00,238.63 L276.80,238.63 L276.80,237.22 L277.60,237.22 L277.60,238.47 L278.40,238.47 L278.40,236.86 L279.20,236.86 L279.20,237.52 L280.00,237.52 L280.00,235.97 L280.80,235.97 L280.80,240.08 L281.60,240.08 L281.60,238.25 L282.40,238.25 L282.40,246.33 L283.20,246.33 L283.20,245.59 L284.00,245.59 L284.00,246.96 L284.80,246.96 L284.80,254.37 L285.60,254.37 L285.60,253.81 L286.40,253.81 L286.40,253.96 L287.20,253.96 L287.20,255.63 L288.00,255.63 L288.00,256.68 L288.80,256.68 L288.80,253.95 L289.60,253.95 L289.60,255.02 L290.40,255.02 L290.40,255.38 L291.20,255.38 L291.20,255.91 L292.00,255.91 L292.00,256.18 L292.80,256.18 L292.80,255.97 L293.60,255.97 L293.60,253.99 L294.40,253.99 L294.40,257.93 L295.20,257.93 L295.20,257.94 L296.00,257.94 L296.00,255.74 L296.80,255.74 L296.80,256.08 L297.60,256.08 L297.60,257.50 L298.40,257.50 L298.40,256.13 L299.20,256.13 L299.20,257.08 L300.00,257.08 L300.00,258.13 L300.80,258.13 L300.80,257.07 L301.60,257.07 L301.60,257.69 L302.40,257.69 L302.40,257.13 L303.20,257.13 L303.20,257.69 L304.00,257.69 L304.00,258.80 L304.80,258.80 L304.80,257.97 L305.60,257.97 L305.60,258.34 L306.40,258.34 L306.40,258.23 L307.20,258.23 L307.20,259.00 L308.00,259.00 L308.00,258.78 L308.80,258.78 L308.80,258.60 L309.60,258.60 L309.60,259.29 L310.40,259.29 L310.40,258.86 L311.20,258.86 L311.20,258.96 L312.00,258.96 L312.00,259.70 L312.80,259.70 L312.80,259.21 L313.60,259.21 L313.60,259.45 L314.40,259.45 L314.40,259.64 L315.20,259.64 L315.20,259.30 L316.00,259.30 L316.00,259.02 L316.80,259.02 L316.80,259.41 L317.60,259.41 L317.60,259.80 L318.40,259.80 L318.40,260.21 L319.20,260.21 L319.20,260.13 L320.00,260.13 L320.00,260.09 L320.80,260.09 L320.80,260.18 L321.60,260.18 L321.60,260.40 L322.40,260.40 L322.40,260.15 L323.20,260.15 L323.20,260.26 L324.00,260.26 L324.00,260.42 L324.80,260.42 L324.80,260.42 L325.60,260.42 L325.60,260.44 L326.40,260.44 L326.40,260.31 L327.20,260.31 L327.20,260.44 L328.00,260.44 L328.00,260.32 L328.80,260.32 L328.80,260.48 L329.60,260.48 L329.2,260.7Z" fill="#b3b3b3"/>
<line x1="289.8" y1="243.0" x2="289.8" y2="249.8" stroke="#1a1a1a" stroke-width="1.0"/>
<line x1="328.3" y1="243.0" x2="328.3" y2="249.8" stroke="#1a1a1a" stroke-width="1.0"/>
<line x1="289.8" y1="246.4" x2="297.7" y2="246.4" stroke="#1a1a1a" stroke-width="1"/>
<line x1="320.8" y1="246.4" x2="328.3" y2="246.4" stroke="#1a1a1a" stroke-width="1"/>
<text x="309.25" y="249.4" font-size="8.3" text-anchor="middle" textLength="15.9" lengthAdjust="spacingAndGlyphs" fill="#1a1a1a" stroke="#1a1a1a" stroke-width="0.22">26.9</text>
<text x="297.8" y="273.1" font-size="8.3" text-anchor="middle" textLength="30.3" lengthAdjust="spacingAndGlyphs" fill="#1a1a1a" stroke="#1a1a1a" stroke-width="0.22">CD107a</text>
<line x1="272.8" y1="314.2" x2="272.8" y2="343.5" stroke="#c4c4c4" stroke-width="0.8"/>
<line x1="272.8" y1="343.5" x2="329.6" y2="343.5" stroke="#c4c4c4" stroke-width="0.8"/>
<path d="M272.8,343.5 L272.80,343.50 L273.60,343.50 L273.60,329.33 L274.40,329.33 L274.40,328.05 L275.20,328.05 L275.20,319.99 L276.00,319.99 L276.00,319.98 L276.80,319.98 L276.80,321.68 L277.60,321.68 L277.60,321.33 L278.40,321.33 L278.40,317.20 L279.20,317.20 L279.20,316.74 L280.00,316.74 L280.00,315.45 L280.80,315.45 L280.80,317.93 L281.60,317.93 L281.60,321.73 L282.40,321.73 L282.40,325.76 L283.20,325.76 L283.20,332.28 L284.00,332.28 L284.00,331.73 L284.80,331.73 L284.80,337.93 L285.60,337.93 L285.60,339.12 L286.40,339.12 L286.40,336.75 L287.20,336.75 L287.20,337.57 L288.00,337.57 L288.00,339.42 L288.80,339.42 L288.80,339.58 L289.60,339.58 L289.60,339.49 L290.40,339.49 L290.40,335.16 L291.20,335.16 L291.20,338.57 L292.00,338.57 L292.00,336.50 L292.80,336.50 L292.80,335.12 L293.60,335.12 L293.60,338.86 L294.40,338.86 L294.40,337.46 L295.20,337.46 L295.20,337.09 L296.00,337.09 L296.00,335.33 L296.80,335.33 L296.80,338.25 L297.60,338.25 L297.60,339.74 L298.40,339.74 L298.40,339.79 L299.20,339.79 L299.20,340.40 L300.00,340.40 L300.00,338.59 L300.80,338.59 L300.80,338.20 L301.60,338.20 L301.60,339.34 L302.40,339.34 L302.40,340.51 L303.20,340.51 L303.20,339.50 L304.00,339.50 L304.00,339.50 L304.80,339.50 L304.80,339.75 L305.60,339.75 L305.60,340.53 L306.40,340.53 L306.40,339.47 L307.20,339.47 L307.20,339.97 L308.00,339.97 L308.00,340.11 L308.80,340.11 L308.80,341.47 L309.60,341.47 L309.60,341.90 L310.40,341.90 L310.40,341.65 L311.20,341.65 L311.20,341.26 L312.00,341.26 L312.00,341.43 L312.80,341.43 L312.80,341.88 L313.60,341.88 L313.60,342.31 L314.40,342.31 L314.40,342.34 L315.20,342.34 L315.20,342.86 L316.00,342.86 L316.00,342.82 L316.80,342.82 L316.80,342.81 L317.60,342.81 L317.60,342.95 L318.40,342.95 L318.40,343.03 L319.20,343.03 L319.20,343.07 L320.00,343.07 L320.00,343.11 L320.80,343.11 L320.80,343.00 L321.60,343.00 L321.60,343.17 L322.40,343.17 L322.40,343.21 L323.20,343.21 L323.20,343.24 L324.00,343.24 L324.00,343.19 L324.80,343.19 L324.80,343.08 L325.60,343.08 L325.60,343.14 L326.40,343.14 L326.40,343.27 L327.20,343.27 L327.20,343.20 L328.00,343.20 L328.00,343.28 L328.80,343.28 L328.80,343.17 L329.60,343.17 L329.2,343.5Z" fill="#b3b3b3"/>
<line x1="289.9" y1="325.1" x2="289.9" y2="331.9" stroke="#1a1a1a" stroke-width="1.0"/>
<line x1="328.4" y1="325.1" x2="328.4" y2="331.9" stroke="#1a1a1a" stroke-width="1.0"/>
<line x1="289.9" y1="328.5" x2="297.7" y2="328.5" stroke="#1a1a1a" stroke-width="1"/>
<line x1="320.0" y1="328.5" x2="328.4" y2="328.5" stroke="#1a1a1a" stroke-width="1"/>
<text x="308.85" y="331.5" font-size="8.3" text-anchor="middle" textLength="15.1" lengthAdjust="spacingAndGlyphs" fill="#1a1a1a" stroke="#1a1a1a" stroke-width="0.22">27.1</text>
<text x="297.8" y="355.1" font-size="8.3" text-anchor="middle" textLength="30.3" lengthAdjust="spacingAndGlyphs" fill="#1a1a1a" stroke="#1a1a1a" stroke-width="0.22">CD107a</text>
<line x1="460.8" y1="231.9" x2="460.8" y2="260.9" stroke="#c4c4c4" stroke-width="0.8"/>
<line x1="460.8" y1="260.9" x2="517.5" y2="260.9" stroke="#c4c4c4" stroke-width="0.8"/>
<path d="M460.8,260.9 L460.80,260.90 L461.60,260.90 L461.60,251.83 L462.40,251.83 L462.40,253.93 L463.20,253.93 L463.20,240.31 L464.00,240.31 L464.00,241.59 L464.80,241.59 L464.80,241.86 L465.60,241.86 L465.60,238.58 L466.40,238.58 L466.40,239.95 L467.20,239.95 L467.20,238.14 L468.00,238.14 L468.00,236.07 L468.80,236.07 L468.80,239.70 L469.60,239.70 L469.60,237.89 L470.40,237.89 L470.40,240.56 L471.20,240.56 L471.20,246.72 L472.00,246.72 L472.00,247.10 L472.80,247.10 L472.80,249.82 L473.60,249.82 L473.60,247.62 L474.40,247.62 L474.40,248.38 L475.20,248.38 L475.20,251.71 L476.00,251.71 L476.00,250.16 L476.80,250.16 L476.80,250.06 L477.60,250.06 L477.60,249.03 L478.40,249.03 L478.40,252.87 L479.20,252.87 L479.20,252.56 L480.00,252.56 L480.00,250.02 L480.80,250.02 L480.80,250.13 L481.60,250.13 L481.60,254.54 L482.40,254.54 L482.40,254.62 L483.20,254.62 L483.20,251.38 L484.00,251.38 L484.00,253.62 L484.80,253.62 L484.80,255.01 L485.60,255.01 L485.60,252.63 L486.40,252.63 L486.40,253.34 L487.20,253.34 L487.20,253.83 L488.00,253.83 L488.00,252.86 L488.80,252.86 L488.80,253.40 L489.60,253.40 L489.60,253.10 L490.40,253.10 L490.40,254.02 L491.20,254.02 L491.20,254.35 L492.00,254.35 L492.00,257.10 L492.80,257.10 L492.80,255.58 L493.60,255.58 L493.60,255.63 L494.40,255.63 L494.40,257.50 L495.20,257.50 L495.20,256.65 L496.00,256.65 L496.00,258.63 L496.80,258.63 L496.80,258.90 L497.60,258.90 L497.60,258.69 L498.40,258.69 L498.40,259.24 L499.20,259.24 L499.20,259.04 L500.00,259.04 L500.00,258.34 L500.80,258.34 L500.80,258.84 L501.60,258.84 L501.60,258.16 L502.40,258.16 L502.40,260.38 L503.20,260.38 L503.20,260.20 L504.00,260.20 L504.00,259.90 L504.80,259.90 L504.80,260.09 L505.60,260.09 L505.60,260.46 L506.40,260.46 L506.40,259.99 L507.20,259.99 L507.20,260.13 L508.00,260.13 L508.00,260.22 L508.80,260.22 L508.80,260.37 L509.60,260.37 L509.60,260.38 L510.40,260.38 L510.40,260.45 L511.20,260.45 L511.20,260.25 L512.00,260.25 L512.00,260.54 L512.80,260.54 L512.80,260.14 L513.60,260.14 L513.60,260.54 L514.40,260.54 L514.40,260.33 L515.20,260.33 L515.2,260.9Z" fill="#b3b3b3"/>
<line x1="475.4" y1="242.79999999999998" x2="475.4" y2="249.6" stroke="#1a1a1a" stroke-width="1.0"/>
<line x1="516.8" y1="242.79999999999998" x2="516.8" y2="249.6" stroke="#1a1a1a" stroke-width="1.0"/>
<line x1="475.4" y1="246.2" x2="484.29999999999995" y2="246.2" stroke="#1a1a1a" stroke-width="1"/>
<line x1="507.5" y1="246.2" x2="516.8" y2="246.2" stroke="#1a1a1a" stroke-width="1"/>
<text x="495.9" y="249.2" font-size="8.3" text-anchor="middle" textLength="16.0" lengthAdjust="spacingAndGlyphs" fill="#1a1a1a" stroke="#1a1a1a" stroke-width="0.22">37.9</text>
<text x="486.0" y="273.1" font-size="8.3" text-anchor="middle" textLength="30.0" lengthAdjust="spacingAndGlyphs" fill="#1a1a1a" stroke="#1a1a1a" stroke-width="0.22">CD107a</text>
<line x1="461.2" y1="314.4" x2="461.2" y2="343.5" stroke="#c4c4c4" stroke-width="0.8"/>
<line x1="461.2" y1="343.5" x2="517.5" y2="343.5" stroke="#c4c4c4" stroke-width="0.8"/>
<path d="M461.2,343.5 L461.20,343.50 L462.00,343.50 L462.00,329.56 L462.80,329.56 L462.80,327.59 L463.60,327.59 L463.60,318.34 L464.40,318.34 L464.40,319.59 L465.20,319.59 L465.20,321.45 L466.00,321.45 L466.00,321.85 L466.80,321.85 L466.80,319.41 L467.60,319.41 L467.60,320.50 L468.40,320.50 L468.40,321.19 L469.20,321.19 L469.20,324.51 L470.00,324.51 L470.00,327.52 L470.80,327.52 L470.80,331.20 L471.60,331.20 L471.60,337.04 L472.40,337.04 L472.40,338.72 L473.20,338.72 L473.20,340.45 L474.00,340.45 L474.00,340.08 L474.80,340.08 L474.80,340.19 L475.60,340.19 L475.60,341.37 L476.40,341.37 L476.40,340.26 L477.20,340.26 L477.20,340.96 L478.00,340.96 L478.00,341.41 L478.80,341.41 L478.80,341.07 L479.60,341.07 L479.60,341.59 L480.40,341.59 L480.40,340.84 L481.20,340.84 L481.20,341.14 L482.00,341.14 L482.00,341.70 L482.80,341.70 L482.80,341.62 L483.60,341.62 L483.60,341.38 L484.40,341.38 L484.40,341.17 L485.20,341.17 L485.20,341.74 L486.00,341.74 L486.00,341.96 L486.80,341.96 L486.80,341.78 L487.60,341.78 L487.60,342.09 L488.40,342.09 L488.40,341.91 L489.20,341.91 L489.20,341.53 L490.00,341.53 L490.00,342.15 L490.80,342.15 L490.80,342.10 L491.60,342.10 L491.60,341.79 L492.40,341.79 L492.40,342.26 L493.20,342.26 L493.20,342.36 L494.00,342.36 L494.00,342.31 L494.80,342.31 L494.80,342.12 L495.60,342.12 L495.60,342.10 L496.40,342.10 L496.40,342.18 L497.20,342.18 L497.20,342.59 L498.00,342.59 L498.00,342.50 L498.80,342.50 L498.80,342.63 L499.60,342.63 L499.60,342.45 L500.40,342.45 L500.40,342.58 L501.20,342.58 L501.20,342.43 L502.00,342.43 L502.00,342.55 L502.80,342.55 L502.80,342.58 L503.60,342.58 L503.60,342.78 L504.40,342.78 L504.40,342.66 L505.20,342.66 L505.20,342.88 L506.00,342.88 L506.00,342.89 L506.80,342.89 L506.80,342.64 L507.60,342.64 L507.60,342.92 L508.40,342.92 L508.40,343.00 L509.20,343.00 L509.20,342.80 L510.00,342.80 L510.00,342.99 L510.80,342.99 L510.80,343.00 L511.60,343.00 L511.60,342.96 L512.40,342.96 L512.40,342.91 L513.20,342.91 L513.20,343.16 L514.00,343.16 L514.00,343.07 L514.80,343.07 L514.80,343.22 L515.60,343.22 L515.60,343.14 L516.40,343.14 L516.40,343.44 L517.20,343.44 L516.5,343.5Z" fill="#b3b3b3"/>
<line x1="475.3" y1="325.1" x2="475.3" y2="331.9" stroke="#1a1a1a" stroke-width="1.0"/>
<line x1="516.9" y1="325.1" x2="516.9" y2="331.9" stroke="#1a1a1a" stroke-width="1.0"/>
<line x1="475.3" y1="328.5" x2="484.59999999999997" y2="328.5" stroke="#1a1a1a" stroke-width="1"/>
<line x1="507.5" y1="328.5" x2="516.9" y2="328.5" stroke="#1a1a1a" stroke-width="1"/>
<text x="496.04999999999995" y="331.5" font-size="8.3" text-anchor="middle" textLength="15.7" lengthAdjust="spacingAndGlyphs" fill="#1a1a1a" stroke="#1a1a1a" stroke-width="0.22">12.9</text>
<text x="486.1" y="355.0" font-size="8.3" text-anchor="middle" textLength="30.3" lengthAdjust="spacingAndGlyphs" fill="#1a1a1a" stroke="#1a1a1a" stroke-width="0.22">CD107a</text>
<text x="49.4" y="378.4" font-size="8.4" textLength="23.6" lengthAdjust="spacingAndGlyphs" fill="#1a1a1a" stroke="#1a1a1a" stroke-width="0.22">C1/C1</text>
<text x="105.4" y="378.4" font-size="8.4" text-anchor="end" textLength="23.6" lengthAdjust="spacingAndGlyphs" fill="#1a1a1a" stroke="#1a1a1a" stroke-width="0.22">C1/C1</text>
<line x1="73.30000000000001" y1="375.6" x2="80.7" y2="375.6" stroke="#1a1a1a" stroke-width="0.9"/>
<path d="M78.42,372.80 L81.5,375.6 L78.42,378.40" fill="none" stroke="#1a1a1a" stroke-width="0.9"/>
<line x1="49.4" y1="379.5" x2="104.9" y2="379.5" stroke="#222" stroke-width="0.8"/>
<text x="77.10000000000001" y="389.1" font-size="8.4" text-anchor="middle" textLength="79.0" lengthAdjust="spacingAndGlyphs" fill="#1a1a1a" stroke="#1a1a1a" stroke-width="0.22">Transplant #10, d341</text>
<text x="237.6" y="378.4" font-size="8.4" textLength="23.6" lengthAdjust="spacingAndGlyphs" fill="#1a1a1a" stroke="#1a1a1a" stroke-width="0.22">C1/C2</text>
<text x="294.3" y="378.4" font-size="8.4" text-anchor="end" textLength="23.6" lengthAdjust="spacingAndGlyphs" fill="#1a1a1a" stroke="#1a1a1a" stroke-width="0.22">C1/C2</text>
<line x1="261.84999999999997" y1="375.6" x2="269.25" y2="375.6" stroke="#1a1a1a" stroke-width="0.9"/>
<path d="M266.97,372.80 L270.05,375.6 L266.97,378.40" fill="none" stroke="#1a1a1a" stroke-width="0.9"/>
<line x1="237.6" y1="379.5" x2="293.8" y2="379.5" stroke="#222" stroke-width="0.8"/>
<text x="265.65" y="389.1" font-size="8.4" text-anchor="middle" textLength="79.0" lengthAdjust="spacingAndGlyphs" fill="#1a1a1a" stroke="#1a1a1a" stroke-width="0.22">Transplant #20, d722</text>
<text x="425.6" y="378.4" font-size="8.4" textLength="23.6" lengthAdjust="spacingAndGlyphs" fill="#1a1a1a" stroke="#1a1a1a" stroke-width="0.22">C2/C2</text>
<text x="482.5" y="378.4" font-size="8.4" text-anchor="end" textLength="23.6" lengthAdjust="spacingAndGlyphs" fill="#1a1a1a" stroke="#1a1a1a" stroke-width="0.22">C2/C2</text>
<line x1="449.95" y1="375.6" x2="457.35" y2="375.6" stroke="#1a1a1a" stroke-width="0.9"/>
<path d="M455.07,372.80 L458.15000000000003,375.6 L455.07,378.40" fill="none" stroke="#1a1a1a" stroke-width="0.9"/>
<line x1="425.6" y1="379.5" x2="482.0" y2="379.5" stroke="#222" stroke-width="0.8"/>
<text x="453.75" y="389.1" font-size="8.4" text-anchor="middle" textLength="79.0" lengthAdjust="spacingAndGlyphs" fill="#1a1a1a" stroke="#1a1a1a" stroke-width="0.22">Transplant #26, d419</text>
<text x="1.3" y="412.4" font-size="11.8" font-weight="bold" fill="#000">C</text>
<rect x="43.1" y="424.3" width="86.3" height="109.5" fill="none" stroke="#7a7a7a" stroke-width="0.8"/>
<line x1="43.1" y1="533.85" x2="129.4" y2="533.85" stroke="#777" stroke-width="1.2"/>
<line x1="65.1" y1="533.8" x2="65.1" y2="536.0" stroke="#777" stroke-width="0.7"/>
<line x1="107.8" y1="533.8" x2="107.8" y2="536.0" stroke="#777" stroke-width="0.7"/>
<text x="40.3" y="536.45" font-size="7.9" text-anchor="end" fill="#1a1a1a" stroke="#1a1a1a" stroke-width="0.22">0</text>
<line x1="41.0" y1="533.85" x2="43.1" y2="533.85" stroke="#666" stroke-width="0.7"/>
<text x="40.3" y="514.5600000000001" font-size="7.9" text-anchor="end" fill="#1a1a1a" stroke="#1a1a1a" stroke-width="0.22">20</text>
<line x1="41.0" y1="511.96000000000004" x2="43.1" y2="511.96000000000004" stroke="#666" stroke-width="0.7"/>
<text x="40.3" y="492.6700000000001" font-size="7.9" text-anchor="end" fill="#1a1a1a" stroke="#1a1a1a" stroke-width="0.22">40</text>
<line x1="41.0" y1="490.07000000000005" x2="43.1" y2="490.07000000000005" stroke="#666" stroke-width="0.7"/>
<text x="40.3" y="470.78000000000003" font-size="7.9" text-anchor="end" fill="#1a1a1a" stroke="#1a1a1a" stroke-width="0.22">60</text>
<line x1="41.0" y1="468.18" x2="43.1" y2="468.18" stroke="#666" stroke-width="0.7"/>
<text x="40.3" y="448.89000000000004" font-size="7.9" text-anchor="end" fill="#1a1a1a" stroke="#1a1a1a" stroke-width="0.22">80</text>
<line x1="41.0" y1="446.29" x2="43.1" y2="446.29" stroke="#666" stroke-width="0.7"/>
<text x="40.3" y="427.00000000000006" font-size="7.9" text-anchor="end" fill="#1a1a1a" stroke="#1a1a1a" stroke-width="0.22">100</text>
<line x1="41.0" y1="424.40000000000003" x2="43.1" y2="424.40000000000003" stroke="#666" stroke-width="0.7"/>
<text transform="translate(19.3,477.4) rotate(-90)" font-size="7.8" text-anchor="middle" fill="#1a1a1a" stroke="#1a1a1a" stroke-width="0.22">% CD107a<tspan font-size="5.2" dy="-2.4">+</tspan><tspan dy="2.4"> monoKIR NK cells</tspan></text>
<line x1="65.1" y1="501.0" x2="107.8" y2="464.4" stroke="#3a3a3a" stroke-width="0.6"/>
<line x1="65.1" y1="513.3" x2="107.8" y2="454.9" stroke="#3a3a3a" stroke-width="0.6"/>
<line x1="65.1" y1="508.0" x2="107.8" y2="484.8" stroke="#3a3a3a" stroke-width="0.6"/>
<line x1="65.1" y1="508.0" x2="107.8" y2="487.4" stroke="#3a3a3a" stroke-width="0.6"/>
<line x1="65.1" y1="512.3" x2="107.8" y2="489.0" stroke="#3a3a3a" stroke-width="0.6"/>
<line x1="65.1" y1="512.3" x2="107.8" y2="490.6" stroke="#3a3a3a" stroke-width="0.6"/>
<line x1="65.1" y1="514.9" x2="107.8" y2="492.2" stroke="#3a3a3a" stroke-width="0.6"/>
<line x1="65.1" y1="517.0" x2="107.8" y2="500.6" stroke="#3a3a3a" stroke-width="0.6"/>
<line x1="65.1" y1="515.5" x2="107.8" y2="505.9" stroke="#3a3a3a" stroke-width="0.6"/>
<line x1="65.1" y1="518.6" x2="107.8" y2="507.5" stroke="#3a3a3a" stroke-width="0.6"/>
<line x1="65.1" y1="520.2" x2="107.8" y2="509.1" stroke="#3a3a3a" stroke-width="0.6"/>
<line x1="65.1" y1="518.6" x2="107.8" y2="510.7" stroke="#3a3a3a" stroke-width="0.6"/>
<line x1="65.1" y1="520.2" x2="107.8" y2="513.3" stroke="#3a3a3a" stroke-width="0.6"/>
<line x1="65.1" y1="524.4" x2="107.8" y2="517.5" stroke="#3a3a3a" stroke-width="0.6"/>
<line x1="65.1" y1="526.0" x2="107.8" y2="519.1" stroke="#3a3a3a" stroke-width="0.6"/>
<line x1="65.1" y1="527.6" x2="107.8" y2="517.5" stroke="#3a3a3a" stroke-width="0.6"/>
<line x1="65.1" y1="529.7" x2="107.8" y2="526.0" stroke="#3a3a3a" stroke-width="0.6"/>
<line x1="65.1" y1="531.3" x2="107.8" y2="527.1" stroke="#3a3a3a" stroke-width="0.6"/>
<line x1="65.1" y1="531.3" x2="107.8" y2="526.0" stroke="#3a3a3a" stroke-width="0.6"/>
<line x1="65.1" y1="522.5" x2="107.8" y2="511.5" stroke="#3a3a3a" stroke-width="0.6"/>
<line x1="65.1" y1="526" x2="107.8" y2="514.5" stroke="#3a3a3a" stroke-width="0.6"/>
<rect x="64.0" y="500.0" width="2.2" height="2.0" fill="#111"/>
<rect x="106.7" y="463.4" width="2.2" height="2.0" fill="#111"/>
<rect x="64.0" y="512.3" width="2.2" height="2.0" fill="#111"/>
<rect x="106.7" y="453.9" width="2.2" height="2.0" fill="#111"/>
<rect x="64.0" y="507.0" width="2.2" height="2.0" fill="#111"/>
<rect x="106.7" y="483.8" width="2.2" height="2.0" fill="#111"/>
<rect x="64.0" y="507.0" width="2.2" height="2.0" fill="#111"/>
<rect x="106.7" y="486.4" width="2.2" height="2.0" fill="#111"/>
<rect x="64.0" y="511.29999999999995" width="2.2" height="2.0" fill="#111"/>
<rect x="106.7" y="488.0" width="2.2" height="2.0" fill="#111"/>
<rect x="64.0" y="511.29999999999995" width="2.2" height="2.0" fill="#111"/>
<rect x="106.7" y="489.6" width="2.2" height="2.0" fill="#111"/>
<rect x="64.0" y="513.9" width="2.2" height="2.0" fill="#111"/>
<rect x="106.7" y="491.2" width="2.2" height="2.0" fill="#111"/>
<rect x="64.0" y="516.0" width="2.2" height="2.0" fill="#111"/>
<rect x="106.7" y="499.6" width="2.2" height="2.0" fill="#111"/>
<rect x="64.0" y="514.5" width="2.2" height="2.0" fill="#111"/>
<rect x="106.7" y="504.9" width="2.2" height="2.0" fill="#111"/>
<rect x="64.0" y="517.6" width="2.2" height="2.0" fill="#111"/>
<rect x="106.7" y="506.5" width="2.2" height="2.0" fill="#111"/>
<rect x="64.0" y="519.2" width="2.2" height="2.0" fill="#111"/>
<rect x="106.7" y="508.1" width="2.2" height="2.0" fill="#111"/>
<rect x="64.0" y="517.6" width="2.2" height="2.0" fill="#111"/>
<rect x="106.7" y="509.7" width="2.2" height="2.0" fill="#111"/>
<rect x="64.0" y="519.2" width="2.2" height="2.0" fill="#111"/>
<rect x="106.7" y="512.3" width="2.2" height="2.0" fill="#111"/>
<rect x="64.0" y="523.4" width="2.2" height="2.0" fill="#111"/>
<rect x="106.7" y="516.5" width="2.2" height="2.0" fill="#111"/>
<rect x="64.0" y="525.0" width="2.2" height="2.0" fill="#111"/>
<rect x="106.7" y="518.1" width="2.2" height="2.0" fill="#111"/>
<rect x="64.0" y="526.6" width="2.2" height="2.0" fill="#111"/>
<rect x="106.7" y="516.5" width="2.2" height="2.0" fill="#111"/>
<rect x="64.0" y="528.7" width="2.2" height="2.0" fill="#111"/>
<rect x="106.7" y="525.0" width="2.2" height="2.0" fill="#111"/>
<rect x="64.0" y="530.3" width="2.2" height="2.0" fill="#111"/>
<rect x="106.7" y="526.1" width="2.2" height="2.0" fill="#111"/>
<rect x="64.0" y="530.3" width="2.2" height="2.0" fill="#111"/>
<rect x="106.7" y="525.0" width="2.2" height="2.0" fill="#111"/>
<rect x="64.0" y="521.5" width="2.2" height="2.0" fill="#111"/>
<rect x="106.7" y="510.5" width="2.2" height="2.0" fill="#111"/>
<rect x="64.0" y="525.0" width="2.2" height="2.0" fill="#111"/>
<rect x="106.7" y="513.5" width="2.2" height="2.0" fill="#111"/>
<path d="M64.6,445.5 V441.2 H108.3 V445.5" fill="none" stroke="#222" stroke-width="1.3"/>
<text x="86.6" y="440.8" font-size="11.5" text-anchor="middle" font-weight="bold" textLength="14.0" lengthAdjust="spacingAndGlyphs" fill="#111">***</text>
<text x="65.2" y="544.3" font-size="8.0" text-anchor="middle" textLength="26.0" lengthAdjust="spacingAndGlyphs" fill="#1a1a1a" stroke="#1a1a1a" stroke-width="0.22">Non-self</text>
<text x="108.0" y="544.3" font-size="8.0" text-anchor="middle" textLength="13.0" lengthAdjust="spacingAndGlyphs" fill="#1a1a1a" stroke="#1a1a1a" stroke-width="0.22">Self</text>
<text x="197.6" y="412.5" font-size="11.4" font-weight="bold" fill="#000">D</text>
<rect x="240.3" y="424.3" width="87.69999999999999" height="109.4" fill="none" stroke="#7a7a7a" stroke-width="0.8"/>
<text x="237.3" y="537.6" font-size="7.5" text-anchor="end" fill="#1a1a1a" stroke="#1a1a1a" stroke-width="0.22">0</text>
<line x1="238.3" y1="534.9" x2="240.3" y2="534.9" stroke="#777" stroke-width="0.6"/>
<text x="237.3" y="519.1" font-size="7.5" text-anchor="end" fill="#1a1a1a" stroke="#1a1a1a" stroke-width="0.22">20</text>
<line x1="238.3" y1="516.4" x2="240.3" y2="516.4" stroke="#777" stroke-width="0.6"/>
<text x="237.3" y="500.59999999999997" font-size="7.5" text-anchor="end" fill="#1a1a1a" stroke="#1a1a1a" stroke-width="0.22">40</text>
<line x1="238.3" y1="497.9" x2="240.3" y2="497.9" stroke="#777" stroke-width="0.6"/>
<text x="237.3" y="482.09999999999997" font-size="7.5" text-anchor="end" fill="#1a1a1a" stroke="#1a1a1a" stroke-width="0.22">60</text>
<line x1="238.3" y1="479.4" x2="240.3" y2="479.4" stroke="#777" stroke-width="0.6"/>
<text x="237.3" y="463.59999999999997" font-size="7.5" text-anchor="end" fill="#1a1a1a" stroke="#1a1a1a" stroke-width="0.22">80</text>
<line x1="238.3" y1="460.9" x2="240.3" y2="460.9" stroke="#777" stroke-width="0.6"/>
<text x="237.3" y="445.09999999999997" font-size="7.5" text-anchor="end" fill="#1a1a1a" stroke="#1a1a1a" stroke-width="0.22">100</text>
<line x1="238.3" y1="442.4" x2="240.3" y2="442.4" stroke="#777" stroke-width="0.6"/>
<text transform="translate(217.0,476.0) rotate(-90)" font-size="7.3" text-anchor="middle" fill="#1a1a1a" stroke="#1a1a1a" stroke-width="0.22">% CD107a<tspan font-size="5" dy="-2.3">+</tspan><tspan dy="2.3"> CD158a monoKIR NK cells</tspan></text>
<path d="M248.8,491.5 H266.5 M258.3,491.5 V441.4 H302.3 V452.5 M284.1,452.5 H320" fill="none" stroke="#111" stroke-width="1.3"/>
<text x="280.2" y="440.9" font-size="11.5" text-anchor="middle" font-weight="bold" textLength="14.0" lengthAdjust="spacingAndGlyphs" fill="#111">***</text>
<path d="M254.5,515.2 L256.8,517.5 L254.5,519.8 L252.2,517.5Z" fill="none" stroke="#4a4a4a" stroke-width="0.85"/>
<path d="M260,515.2 L262.3,517.5 L260,519.8 L257.7,517.5Z" fill="none" stroke="#4a4a4a" stroke-width="0.85"/>
<path d="M257.2,517.7 L259.5,520 L257.2,522.3 L254.89999999999998,520Z" fill="none" stroke="#4a4a4a" stroke-width="0.85"/>
<path d="M257.2,519.9000000000001 L259.5,522.2 L257.2,524.5 L254.89999999999998,522.2Z" fill="none" stroke="#4a4a4a" stroke-width="0.85"/>
<path d="M254.5,525.2 L256.8,527.5 L254.5,529.8 L252.2,527.5Z" fill="none" stroke="#4a4a4a" stroke-width="0.85"/>
<path d="M260,525.2 L262.3,527.5 L260,529.8 L257.7,527.5Z" fill="none" stroke="#4a4a4a" stroke-width="0.85"/>
<path d="M257.2,523.0 L259.5,525.3 L257.2,527.5999999999999 L254.89999999999998,525.3Z" fill="none" stroke="#4a4a4a" stroke-width="0.85"/>
<path d="M257.2,528.7 L259.5,531 L257.2,533.3 L254.89999999999998,531Z" fill="none" stroke="#4a4a4a" stroke-width="0.85"/>
<path d="M254.8,527.7 L257.1,530 L254.8,532.3 L252.5,530Z" fill="none" stroke="#4a4a4a" stroke-width="0.85"/>
<path d="M259.8,527.7 L262.1,530 L259.8,532.3 L257.5,530Z" fill="none" stroke="#4a4a4a" stroke-width="0.85"/>
<path d="M293,472.2 L295.3,474.5 L293,476.8 L290.7,474.5Z" fill="#a0a0a0" stroke="#444" stroke-width="0.85"/>
<path d="M296,500.4 L298.3,502.7 L296,505.0 L293.7,502.7Z" fill="#a0a0a0" stroke="#444" stroke-width="0.85"/>
<path d="M290,502.4 L292.3,504.7 L290,507.0 L287.7,504.7Z" fill="#a0a0a0" stroke="#444" stroke-width="0.85"/>
<path d="M293,505.0 L295.3,507.3 L293,509.6 L290.7,507.3Z" fill="#a0a0a0" stroke="#444" stroke-width="0.85"/>
<path d="M290,507.3 L292.3,509.6 L290,511.90000000000003 L287.7,509.6Z" fill="#a0a0a0" stroke="#444" stroke-width="0.85"/>
<path d="M296,508.2 L298.3,510.5 L296,512.8 L293.7,510.5Z" fill="#a0a0a0" stroke="#444" stroke-width="0.85"/>
<path d="M289.5,512.7 L291.8,515 L289.5,517.3 L287.2,515Z" fill="#a0a0a0" stroke="#444" stroke-width="0.85"/>
<path d="M296,512.7 L298.3,515 L296,517.3 L293.7,515Z" fill="#a0a0a0" stroke="#444" stroke-width="0.85"/>
<path d="M292,515.0 L294.3,517.3 L292,519.5999999999999 L289.7,517.3Z" fill="#a0a0a0" stroke="#444" stroke-width="0.85"/>
<path d="M297,516.5 L299.3,518.8 L297,521.0999999999999 L294.7,518.8Z" fill="#a0a0a0" stroke="#444" stroke-width="0.85"/>
<path d="M293,520.9000000000001 L295.3,523.2 L293,525.5 L290.7,523.2Z" fill="#a0a0a0" stroke="#444" stroke-width="0.85"/>
<path d="M310.4,473.5 L312.7,475.8 L310.4,478.1 L308.09999999999997,475.8Z" fill="#000" stroke="#000" stroke-width="0.85"/>
<path d="M310.4,492.2 L312.7,494.5 L310.4,496.8 L308.09999999999997,494.5Z" fill="#000" stroke="#000" stroke-width="0.85"/>
<path d="M310.4,495.0 L312.7,497.3 L310.4,499.6 L308.09999999999997,497.3Z" fill="#000" stroke="#000" stroke-width="0.85"/>
<path d="M310.4,504.2 L312.7,506.5 L310.4,508.8 L308.09999999999997,506.5Z" fill="#000" stroke="#000" stroke-width="0.85"/>
<path d="M307,509.59999999999997 L309.3,511.9 L307,514.1999999999999 L304.7,511.9Z" fill="#000" stroke="#000" stroke-width="0.85"/>
<path d="M310.4,509.59999999999997 L312.7,511.9 L310.4,514.1999999999999 L308.09999999999997,511.9Z" fill="#000" stroke="#000" stroke-width="0.85"/>
<path d="M314,509.59999999999997 L316.3,511.9 L314,514.1999999999999 L311.7,511.9Z" fill="#000" stroke="#000" stroke-width="0.85"/>
<path d="M307,513.5 L309.3,515.8 L307,518.0999999999999 L304.7,515.8Z" fill="#000" stroke="#000" stroke-width="0.85"/>
<path d="M310.4,512.2 L312.7,514.5 L310.4,516.8 L308.09999999999997,514.5Z" fill="#000" stroke="#000" stroke-width="0.85"/>
<path d="M314,513.5 L316.3,515.8 L314,518.0999999999999 L311.7,515.8Z" fill="#000" stroke="#000" stroke-width="0.85"/>
<path d="M307,518.1 L309.3,520.4 L307,522.6999999999999 L304.7,520.4Z" fill="#000" stroke="#000" stroke-width="0.85"/>
<path d="M314,518.1 L316.3,520.4 L314,522.6999999999999 L311.7,520.4Z" fill="#000" stroke="#000" stroke-width="0.85"/>
<line x1="248.8" y1="523.9" x2="266.5" y2="523.9" stroke="#000" stroke-width="1.3"/>
<line x1="284.2" y1="512.4" x2="301.2" y2="512.4" stroke="#000" stroke-width="1.3"/>
<line x1="302.7" y1="513.2" x2="319.6" y2="513.2" stroke="#000" stroke-width="1.3"/>
<rect x="397.7" y="424.3" width="87.90000000000003" height="109.4" fill="none" stroke="#7a7a7a" stroke-width="0.8"/>
<text x="394.8" y="537.6" font-size="7.5" text-anchor="end" fill="#1a1a1a" stroke="#1a1a1a" stroke-width="0.22">0</text>
<line x1="395.8" y1="534.9" x2="397.7" y2="534.9" stroke="#777" stroke-width="0.6"/>
<text x="394.8" y="519.1" font-size="7.5" text-anchor="end" fill="#1a1a1a" stroke="#1a1a1a" stroke-width="0.22">20</text>
<line x1="395.8" y1="516.4" x2="397.7" y2="516.4" stroke="#777" stroke-width="0.6"/>
<text x="394.8" y="500.59999999999997" font-size="7.5" text-anchor="end" fill="#1a1a1a" stroke="#1a1a1a" stroke-width="0.22">40</text>
<line x1="395.8" y1="497.9" x2="397.7" y2="497.9" stroke="#777" stroke-width="0.6"/>
<text x="394.8" y="482.09999999999997" font-size="7.5" text-anchor="end" fill="#1a1a1a" stroke="#1a1a1a" stroke-width="0.22">60</text>
<line x1="395.8" y1="479.4" x2="397.7" y2="479.4" stroke="#777" stroke-width="0.6"/>
<text x="394.8" y="463.59999999999997" font-size="7.5" text-anchor="end" fill="#1a1a1a" stroke="#1a1a1a" stroke-width="0.22">80</text>
<line x1="395.8" y1="460.9" x2="397.7" y2="460.9" stroke="#777" stroke-width="0.6"/>
<text x="394.8" y="445.09999999999997" font-size="7.5" text-anchor="end" fill="#1a1a1a" stroke="#1a1a1a" stroke-width="0.22">100</text>
<line x1="395.8" y1="442.4" x2="397.7" y2="442.4" stroke="#777" stroke-width="0.6"/>
<text transform="translate(373.0,476.0) rotate(-90)" font-size="7.3" text-anchor="middle" fill="#1a1a1a" stroke="#1a1a1a" stroke-width="0.22">% CD107a<tspan font-size="5" dy="-2.3">+</tspan><tspan dy="2.3"> CD158b monoKIR NK cells</tspan></text>
<path d="M406.1,452.5 H442 M423.8,452.5 V441.4 H467.7 V491.8 M458.9,491.8 H476.5" fill="none" stroke="#111" stroke-width="1.3"/>
<text x="446.3" y="441.2" font-size="11.5" text-anchor="middle" font-weight="bold" textLength="9.4" lengthAdjust="spacingAndGlyphs" fill="#111">**</text>
<path d="M415.4,465.4 L417.7,467.7 L415.4,470.0 L413.09999999999997,467.7Z" fill="none" stroke="#4a4a4a" stroke-width="0.85"/>
<path d="M417.2,490.8 L419.5,493.1 L417.2,495.40000000000003 L414.9,493.1Z" fill="none" stroke="#4a4a4a" stroke-width="0.85"/>
<path d="M413.5,492.8 L415.8,495.1 L413.5,497.40000000000003 L411.2,495.1Z" fill="none" stroke="#4a4a4a" stroke-width="0.85"/>
<path d="M417,494.9 L419.3,497.2 L417,499.5 L414.7,497.2Z" fill="none" stroke="#4a4a4a" stroke-width="0.85"/>
<path d="M413.5,497.4 L415.8,499.7 L413.5,502.0 L411.2,499.7Z" fill="none" stroke="#4a4a4a" stroke-width="0.85"/>
<path d="M415.4,503.5 L417.7,505.8 L415.4,508.1 L413.09999999999997,505.8Z" fill="none" stroke="#4a4a4a" stroke-width="0.85"/>
<path d="M412.5,509.99999999999994 L414.8,512.3 L412.5,514.5999999999999 L410.2,512.3Z" fill="none" stroke="#4a4a4a" stroke-width="0.85"/>
<path d="M417.8,509.99999999999994 L420.1,512.3 L417.8,514.5999999999999 L415.5,512.3Z" fill="none" stroke="#4a4a4a" stroke-width="0.85"/>
<path d="M415.4,514.9000000000001 L417.7,517.2 L415.4,519.5 L413.09999999999997,517.2Z" fill="none" stroke="#4a4a4a" stroke-width="0.85"/>
<path d="M413,520.0 L415.3,522.3 L413,524.5999999999999 L410.7,522.3Z" fill="none" stroke="#4a4a4a" stroke-width="0.85"/>
<path d="M417.5,518.9000000000001 L419.8,521.2 L417.5,523.5 L415.2,521.2Z" fill="none" stroke="#4a4a4a" stroke-width="0.85"/>
<path d="M415.4,525.1 L417.7,527.4 L415.4,529.6999999999999 L413.09999999999997,527.4Z" fill="none" stroke="#4a4a4a" stroke-width="0.85"/>
<path d="M432.8,466.5 L435.1,468.8 L432.8,471.1 L430.5,468.8Z" fill="#a0a0a0" stroke="#444" stroke-width="0.85"/>
<path d="M432.8,501.5 L435.1,503.8 L432.8,506.1 L430.5,503.8Z" fill="#a0a0a0" stroke="#444" stroke-width="0.85"/>
<path d="M430,507.2 L432.3,509.5 L430,511.8 L427.7,509.5Z" fill="#a0a0a0" stroke="#444" stroke-width="0.85"/>
<path d="M435.5,507.2 L437.8,509.5 L435.5,511.8 L433.2,509.5Z" fill="#a0a0a0" stroke="#444" stroke-width="0.85"/>
<path d="M430,511.90000000000003 L432.3,514.2 L430,516.5 L427.7,514.2Z" fill="#a0a0a0" stroke="#444" stroke-width="0.85"/>
<path d="M435.5,511.90000000000003 L437.8,514.2 L435.5,516.5 L433.2,514.2Z" fill="#a0a0a0" stroke="#444" stroke-width="0.85"/>
<path d="M430,514.9000000000001 L432.3,517.2 L430,519.5 L427.7,517.2Z" fill="#a0a0a0" stroke="#444" stroke-width="0.85"/>
<path d="M435.5,514.9000000000001 L437.8,517.2 L435.5,519.5 L433.2,517.2Z" fill="#a0a0a0" stroke="#444" stroke-width="0.85"/>
<path d="M432.8,522.3000000000001 L435.1,524.6 L432.8,526.9 L430.5,524.6Z" fill="#a0a0a0" stroke="#444" stroke-width="0.85"/>
<path d="M432.8,509.7 L435.1,512 L432.8,514.3 L430.5,512Z" fill="#a0a0a0" stroke="#444" stroke-width="0.85"/>
<path d="M467.7,504.2 L470.0,506.5 L467.7,508.8 L465.4,506.5Z" fill="#000" stroke="#000" stroke-width="0.85"/>
<path d="M467.7,509.99999999999994 L470.0,512.3 L467.7,514.5999999999999 L465.4,512.3Z" fill="#000" stroke="#000" stroke-width="0.85"/>
<path d="M467.7,513.9000000000001 L470.0,516.2 L467.7,518.5 L465.4,516.2Z" fill="#000" stroke="#000" stroke-width="0.85"/>
<path d="M465,518.5 L467.3,520.8 L465,523.0999999999999 L462.7,520.8Z" fill="#000" stroke="#000" stroke-width="0.85"/>
<path d="M470.5,518.5 L472.8,520.8 L470.5,523.0999999999999 L468.2,520.8Z" fill="#000" stroke="#000" stroke-width="0.85"/>
<path d="M467.7,520.0 L470.0,522.3 L467.7,524.5999999999999 L465.4,522.3Z" fill="#000" stroke="#000" stroke-width="0.85"/>
<path d="M465,522.2 L467.3,524.5 L465,526.8 L462.7,524.5Z" fill="#000" stroke="#000" stroke-width="0.85"/>
<path d="M470.5,522.2 L472.8,524.5 L470.5,526.8 L468.2,524.5Z" fill="#000" stroke="#000" stroke-width="0.85"/>
<path d="M467.7,524.2 L470.0,526.5 L467.7,528.8 L465.4,526.5Z" fill="#000" stroke="#000" stroke-width="0.85"/>
<path d="M465,525.4000000000001 L467.3,527.7 L465,530.0 L462.7,527.7Z" fill="#000" stroke="#000" stroke-width="0.85"/>
<path d="M470.5,525.4000000000001 L472.8,527.7 L470.5,530.0 L468.2,527.7Z" fill="#000" stroke="#000" stroke-width="0.85"/>
<path d="M467.7,527.7 L470.0,530 L467.7,532.3 L465.4,530Z" fill="#000" stroke="#000" stroke-width="0.85"/>
<line x1="406.2" y1="510.5" x2="424.3" y2="510.5" stroke="#000" stroke-width="1.3"/>
<line x1="424.3" y1="512.8" x2="441.5" y2="512.8" stroke="#000" stroke-width="1.3"/>
<line x1="459.2" y1="523.5" x2="476.6" y2="523.5" stroke="#000" stroke-width="1.3"/>
<line x1="257.8" y1="533.7" x2="257.8" y2="536.0" stroke="#777" stroke-width="0.7"/>
<line x1="292.9" y1="533.7" x2="292.9" y2="536.0" stroke="#777" stroke-width="0.7"/>
<line x1="310.6" y1="533.7" x2="310.6" y2="536.0" stroke="#777" stroke-width="0.7"/>
<line x1="415.4" y1="533.7" x2="415.4" y2="536.0" stroke="#777" stroke-width="0.7"/>
<line x1="432.8" y1="533.7" x2="432.8" y2="536.0" stroke="#777" stroke-width="0.7"/>
<line x1="467.7" y1="533.7" x2="467.7" y2="536.0" stroke="#777" stroke-width="0.7"/>
<text x="257.8" y="544.3" font-size="7.5" text-anchor="middle" textLength="18.0" lengthAdjust="spacingAndGlyphs" fill="#1a1a1a" stroke="#1a1a1a" stroke-width="0.22">C1/C1</text>
<line x1="254.8" y1="549.0" x2="260.2" y2="549.0" stroke="#1a1a1a" stroke-width="0.8"/>
<path d="M258.58,546.80 L261.0,549.0 L258.58,551.20" fill="none" stroke="#1a1a1a" stroke-width="0.8"/>
<text x="257.8" y="559.2" font-size="7.5" text-anchor="middle" textLength="18.0" lengthAdjust="spacingAndGlyphs" fill="#1a1a1a" stroke="#1a1a1a" stroke-width="0.22">C1/C1</text>
<text x="289.8" y="544.3" font-size="7.5" text-anchor="middle" textLength="18.0" lengthAdjust="spacingAndGlyphs" fill="#1a1a1a" stroke="#1a1a1a" stroke-width="0.22">C1/C2</text>
<line x1="286.8" y1="549.0" x2="292.2" y2="549.0" stroke="#1a1a1a" stroke-width="0.8"/>
<path d="M290.58,546.80 L293.0,549.0 L290.58,551.20" fill="none" stroke="#1a1a1a" stroke-width="0.8"/>
<text x="289.8" y="559.2" font-size="7.5" text-anchor="middle" textLength="18.0" lengthAdjust="spacingAndGlyphs" fill="#1a1a1a" stroke="#1a1a1a" stroke-width="0.22">C1/C2</text>
<text x="312.9" y="544.3" font-size="7.5" text-anchor="middle" textLength="18.0" lengthAdjust="spacingAndGlyphs" fill="#1a1a1a" stroke="#1a1a1a" stroke-width="0.22">C2/C2</text>
<line x1="309.9" y1="549.0" x2="315.29999999999995" y2="549.0" stroke="#1a1a1a" stroke-width="0.8"/>
<path d="M313.68,546.80 L316.09999999999997,549.0 L313.68,551.20" fill="none" stroke="#1a1a1a" stroke-width="0.8"/>
<text x="312.9" y="559.2" font-size="7.5" text-anchor="middle" textLength="18.0" lengthAdjust="spacingAndGlyphs" fill="#1a1a1a" stroke="#1a1a1a" stroke-width="0.22">C2/C2</text>
<text x="412.0" y="544.3" font-size="7.5" text-anchor="middle" textLength="18.0" lengthAdjust="spacingAndGlyphs" fill="#1a1a1a" stroke="#1a1a1a" stroke-width="0.22">C1/C1</text>
<line x1="409.0" y1="549.0" x2="414.4" y2="549.0" stroke="#1a1a1a" stroke-width="0.8"/>
<path d="M412.78,546.80 L415.2,549.0 L412.78,551.20" fill="none" stroke="#1a1a1a" stroke-width="0.8"/>
<text x="412.0" y="559.2" font-size="7.5" text-anchor="middle" textLength="18.0" lengthAdjust="spacingAndGlyphs" fill="#1a1a1a" stroke="#1a1a1a" stroke-width="0.22">C1/C1</text>
<text x="435.2" y="544.3" font-size="7.5" text-anchor="middle" textLength="18.0" lengthAdjust="spacingAndGlyphs" fill="#1a1a1a" stroke="#1a1a1a" stroke-width="0.22">C1/C2</text>
<line x1="432.2" y1="549.0" x2="437.59999999999997" y2="549.0" stroke="#1a1a1a" stroke-width="0.8"/>
<path d="M435.98,546.80 L438.4,549.0 L435.98,551.20" fill="none" stroke="#1a1a1a" stroke-width="0.8"/>
<text x="435.2" y="559.2" font-size="7.5" text-anchor="middle" textLength="18.0" lengthAdjust="spacingAndGlyphs" fill="#1a1a1a" stroke="#1a1a1a" stroke-width="0.22">C1/C2</text>
<text x="467.9" y="544.3" font-size="7.5" text-anchor="middle" textLength="18.0" lengthAdjust="spacingAndGlyphs" fill="#1a1a1a" stroke="#1a1a1a" stroke-width="0.22">C2/C2</text>
<line x1="464.9" y1="549.0" x2="470.29999999999995" y2="549.0" stroke="#1a1a1a" stroke-width="0.8"/>
<path d="M468.68,546.80 L471.09999999999997,549.0 L468.68,551.20" fill="none" stroke="#1a1a1a" stroke-width="0.8"/>
<text x="467.9" y="559.2" font-size="7.5" text-anchor="middle" textLength="18.0" lengthAdjust="spacingAndGlyphs" fill="#1a1a1a" stroke="#1a1a1a" stroke-width="0.22">C2/C2</text>
</svg></body></html>
